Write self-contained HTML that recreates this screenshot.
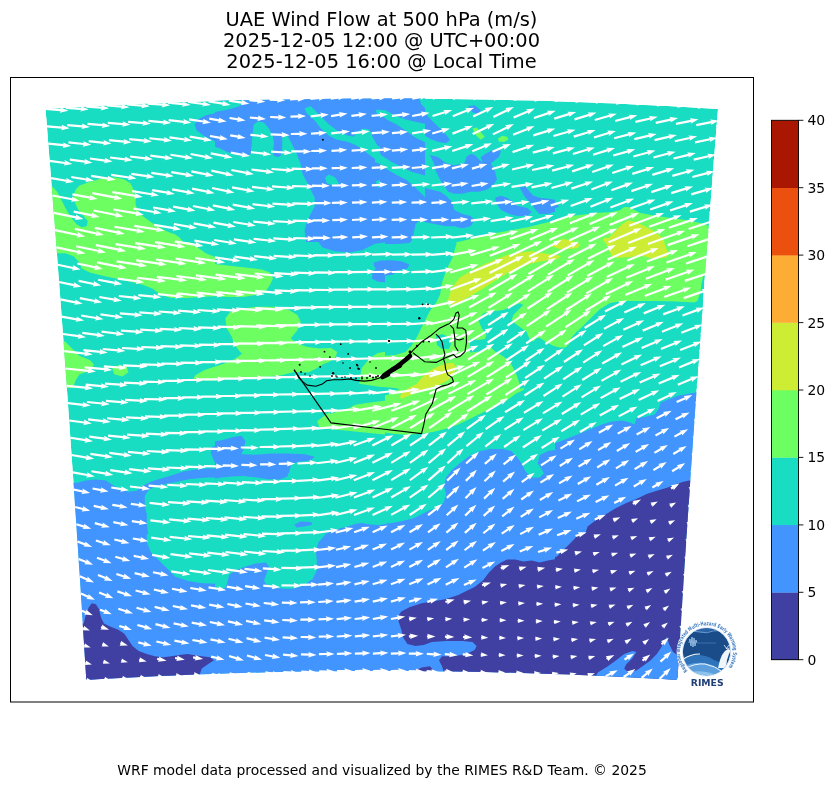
<!DOCTYPE html>
<html><head><meta charset="utf-8"><style>
html,body{margin:0;padding:0;background:#fff;}
svg{display:block;}
text{font-family:"DejaVu Sans","Liberation Sans",sans-serif;fill:#000;}
.ti{font-size:19.4px;}
.tk{font-size:13.9px;}
.ft{font-size:13.9px;}
</style></head><body>
<svg width="835" height="788" viewBox="0 0 835 788">
<rect width="835" height="788" fill="#fff"/>
<text class="ti" x="381.5" y="25.8" text-anchor="middle">UAE Wind Flow at 500 hPa (m/s)</text>
<text class="ti" x="381.5" y="47" text-anchor="middle">2025-12-05 12:00 @ UTC+00:00</text>
<text class="ti" x="381.5" y="68.2" text-anchor="middle">2025-12-05 16:00 @ Local Time</text>
<defs><clipPath id="dc"><path d="M45.5 109 L62.3 108 L79.1 107 L95.9 106.1 L112.8 105.2 L129.6 104.4 L146.4 103.6 L163.2 102.9 L180 102.3 L196.8 101.7 L213.6 101.1 L230.4 100.6 L247.2 100.2 L264.1 99.8 L280.9 99.4 L297.7 99.2 L314.5 98.9 L331.3 98.7 L348.1 98.6 L364.9 98.5 L381.8 98.5 L398.6 98.5 L415.4 98.6 L432.2 98.7 L449 98.9 L465.8 99.2 L482.6 99.4 L499.4 99.8 L516.2 100.2 L533.1 100.6 L549.9 101.1 L566.7 101.7 L583.5 102.3 L600.3 102.9 L617.1 103.6 L633.9 104.4 L650.8 105.2 L667.6 106.1 L684.4 107 L701.2 108 L718 109 L716.8 123.3 L715.7 137.6 L714.6 151.8 L713.4 166.1 L712.3 180.4 L711.2 194.7 L710.1 208.9 L709 223.2 L707.9 237.5 L706.8 251.8 L705.7 266 L704.6 280.3 L703.6 294.6 L702.5 308.9 L701.5 323.1 L700.4 337.4 L699.4 351.7 L698.3 365.9 L697.3 380.2 L696.3 394.5 L695.3 408.8 L694.3 423.1 L693.3 437.3 L692.3 451.6 L691.3 465.9 L690.3 480.1 L689.4 494.4 L688.4 508.7 L687.4 523 L686.5 537.2 L685.6 551.5 L684.6 565.8 L683.7 580.1 L682.8 594.4 L681.9 608.6 L681 622.9 L680.1 637.2 L679.2 651.5 L678.3 665.7 L677.4 680 L662.6 679.1 L647.8 678.3 L633.1 677.5 L618.3 676.8 L603.5 676.1 L588.7 675.4 L574 674.8 L559.2 674.2 L544.4 673.7 L529.6 673.2 L514.8 672.8 L500.1 672.4 L485.3 672.1 L470.5 671.8 L455.7 671.6 L441 671.4 L426.2 671.2 L411.4 671.1 L396.6 671 L381.9 671 L367.1 671 L352.3 671.1 L337.5 671.2 L322.7 671.4 L308 671.6 L293.2 671.8 L278.4 672.1 L263.6 672.4 L248.9 672.8 L234.1 673.2 L219.3 673.7 L204.5 674.2 L189.7 674.8 L175 675.4 L160.2 676.1 L145.4 676.8 L130.6 677.5 L115.9 678.3 L101.1 679.1 L86.3 680 L85.4 665.7 L84.5 651.5 L83.6 637.2 L82.7 622.9 L81.8 608.6 L80.9 594.4 L80 580.1 L79 565.8 L78.1 551.5 L77.1 537.2 L76.2 523 L75.2 508.7 L74.3 494.4 L73.3 480.1 L72.3 465.9 L71.3 451.6 L70.3 437.3 L69.3 423.1 L68.3 408.8 L67.3 394.5 L66.3 380.2 L65.2 365.9 L64.2 351.7 L63.2 337.4 L62.1 323.1 L61.1 308.9 L60 294.6 L58.9 280.3 L57.8 266 L56.8 251.8 L55.7 237.5 L54.6 223.2 L53.4 208.9 L52.3 194.7 L51.2 180.4 L50.1 166.1 L48.9 151.8 L47.8 137.6 L46.7 123.3Z"/></clipPath><clipPath id="c0"><rect x="45" y="96" width="170" height="146"/></clipPath><clipPath id="c1"><rect x="215" y="96" width="170" height="146"/></clipPath><clipPath id="c2"><rect x="385" y="96" width="170" height="146"/></clipPath><clipPath id="c3"><rect x="555" y="96" width="170" height="146"/></clipPath><clipPath id="c4"><rect x="45" y="242" width="170" height="146"/></clipPath><clipPath id="c5"><rect x="215" y="242" width="170" height="146"/></clipPath><clipPath id="c6"><rect x="385" y="242" width="170" height="146"/></clipPath><clipPath id="c7"><rect x="555" y="242" width="170" height="146"/></clipPath><clipPath id="c8"><rect x="45" y="388" width="170" height="146"/></clipPath><clipPath id="c9"><rect x="215" y="388" width="170" height="146"/></clipPath><clipPath id="c10"><rect x="385" y="388" width="170" height="146"/></clipPath><clipPath id="c11"><rect x="555" y="388" width="170" height="146"/></clipPath><clipPath id="c12"><rect x="45" y="534" width="170" height="146"/></clipPath><clipPath id="c13"><rect x="215" y="534" width="170" height="146"/></clipPath><clipPath id="c14"><rect x="385" y="534" width="170" height="146"/></clipPath><clipPath id="c15"><rect x="555" y="534" width="170" height="146"/></clipPath></defs>
<g clip-path="url(#dc)">
<path d="M45.5 109 L62.3 108 L79.1 107 L95.9 106.1 L112.8 105.2 L129.6 104.4 L146.4 103.6 L163.2 102.9 L180 102.3 L196.8 101.7 L213.6 101.1 L230.4 100.6 L247.2 100.2 L264.1 99.8 L280.9 99.4 L297.7 99.2 L314.5 98.9 L331.3 98.7 L348.1 98.6 L364.9 98.5 L381.8 98.5 L398.6 98.5 L415.4 98.6 L432.2 98.7 L449 98.9 L465.8 99.2 L482.6 99.4 L499.4 99.8 L516.2 100.2 L533.1 100.6 L549.9 101.1 L566.7 101.7 L583.5 102.3 L600.3 102.9 L617.1 103.6 L633.9 104.4 L650.8 105.2 L667.6 106.1 L684.4 107 L701.2 108 L718 109 L716.8 123.3 L715.7 137.6 L714.6 151.8 L713.4 166.1 L712.3 180.4 L711.2 194.7 L710.1 208.9 L709 223.2 L707.9 237.5 L706.8 251.8 L705.7 266 L704.6 280.3 L703.6 294.6 L702.5 308.9 L701.5 323.1 L700.4 337.4 L699.4 351.7 L698.3 365.9 L697.3 380.2 L696.3 394.5 L695.3 408.8 L694.3 423.1 L693.3 437.3 L692.3 451.6 L691.3 465.9 L690.3 480.1 L689.4 494.4 L688.4 508.7 L687.4 523 L686.5 537.2 L685.6 551.5 L684.6 565.8 L683.7 580.1 L682.8 594.4 L681.9 608.6 L681 622.9 L680.1 637.2 L679.2 651.5 L678.3 665.7 L677.4 680 L662.6 679.1 L647.8 678.3 L633.1 677.5 L618.3 676.8 L603.5 676.1 L588.7 675.4 L574 674.8 L559.2 674.2 L544.4 673.7 L529.6 673.2 L514.8 672.8 L500.1 672.4 L485.3 672.1 L470.5 671.8 L455.7 671.6 L441 671.4 L426.2 671.2 L411.4 671.1 L396.6 671 L381.9 671 L367.1 671 L352.3 671.1 L337.5 671.2 L322.7 671.4 L308 671.6 L293.2 671.8 L278.4 672.1 L263.6 672.4 L248.9 672.8 L234.1 673.2 L219.3 673.7 L204.5 674.2 L189.7 674.8 L175 675.4 L160.2 676.1 L145.4 676.8 L130.6 677.5 L115.9 678.3 L101.1 679.1 L86.3 680 L85.4 665.7 L84.5 651.5 L83.6 637.2 L82.7 622.9 L81.8 608.6 L80.9 594.4 L80 580.1 L79 565.8 L78.1 551.5 L77.1 537.2 L76.2 523 L75.2 508.7 L74.3 494.4 L73.3 480.1 L72.3 465.9 L71.3 451.6 L70.3 437.3 L69.3 423.1 L68.3 408.8 L67.3 394.5 L66.3 380.2 L65.2 365.9 L64.2 351.7 L63.2 337.4 L62.1 323.1 L61.1 308.9 L60 294.6 L58.9 280.3 L57.8 266 L56.8 251.8 L55.7 237.5 L54.6 223.2 L53.4 208.9 L52.3 194.7 L51.2 180.4 L50.1 166.1 L48.9 151.8 L47.8 137.6 L46.7 123.3Z" fill="#18ddc2"/>
<path clip-path="url(#c0)" fill="#4294ff" d="M215 113.3 L205.8 115.3 L197.7 119.4 L194.6 124.5 L196.7 130.6 L203.8 135.7 L211.9 139.8 L215 141.8 L220.1 141.8 L220.1 113.3Z"/><path clip-path="url(#c0)" fill="#6dfe62" d="M43 185.6 L52.1 186.6 L57.2 191.7 L61.3 199.8 L65.4 208 L71.5 218.2 L76.6 224.3 L81.6 227.3 L86.7 226.3 L87.8 221.2 L83.7 216.1 L78.6 210 L75.5 203.9 L73.5 195.8 L75.5 189.7 L79.6 185.6 L87.8 182.5 L97.9 179.5 L108.1 177.4 L116.3 177.4 L124.4 179.5 L130.5 183.5 L133.6 189.7 L135.6 197.8 L135.6 203.9 L137.6 210 L142.7 216.1 L150.9 222.2 L159 227.3 L167.2 231.4 L175.3 234.4 L179.4 237.5 L183.4 242 L185.5 244.6 L43 244.6Z"/><path clip-path="url(#c1)" fill="#4294ff" d="M210.9 91.9 L390.1 91.9 L390.1 246.7 L210.9 246.7Z"/><path clip-path="url(#c1)" fill="#18ddc2" d="M210.9 91.9 L247.6 91.9 L245.5 99.1 L239.4 106.2 L227.2 109.8 L215 111.9 L210.9 112.3Z"/><path clip-path="url(#c1)" fill="#18ddc2" d="M210.9 145.9 L219.1 147.9 L227.2 152 L237.4 155 L245.5 157.1 L250.6 154 L251.6 144.9 L252.7 132.6 L253.7 124.5 L257.8 121.4 L263.9 122.5 L269 128.6 L273 136.7 L274 142.8 L273 151 L274 156.1 L278.1 157.1 L281.2 155 L282.2 146.9 L282.2 138.8 L284.2 134.7 L288.3 136.7 L292.4 144.9 L296.4 153 L300.5 163.2 L302.5 173.4 L306.6 181.5 L310.7 189.7 L314.8 197.8 L314.8 205.9 L310.7 214.1 L306.6 222.2 L304.6 230.4 L306.6 246.7 L210.9 246.7Z"/><path clip-path="url(#c1)" fill="#18ddc2" d="M304.6 108.2 L310.7 106.2 L314.8 110.3 L320.9 116.4 L329 124.5 L337.2 130.6 L345.3 134.7 L353.4 136.7 L357.5 131.6 L363.6 128.6 L369.7 129.6 L372.8 137.7 L377.9 145.9 L390.1 150 L390.1 164.2 L377.9 161.1 L369.7 155 L361.6 148.9 L355.5 144.9 L347.3 141.8 L337.2 139.8 L329 135.7 L320.9 128.6 L314.8 120.4 L306.6 113.3Z"/><path clip-path="url(#c1)" fill="#18ddc2" d="M375.8 110.3 L390.1 108.2 L390.1 118.4 L377.9 116.4Z"/><path clip-path="url(#c1)" fill="#18ddc2" d="M324.9 177.4 L329 174.4 L335.1 177.4 L339.2 183.5 L333.1 185.6 L327 183.5Z"/><path clip-path="url(#c1)" fill="#18ddc2" d="M375.8 181.5 L381.9 178.5 L390.1 179.5 L390.1 187.6 L377.9 187.6Z"/><path clip-path="url(#c2)" fill="#4294ff" d="M380.9 91.9 L418.6 91.9 L420.6 102.1 L423.7 110.3 L427.8 116.4 L433.9 122.5 L440 128.6 L446.1 134.7 L450.1 139.8 L446.1 143.2 L437.9 141.8 L429.8 138.8 L423.7 134.7 L417.6 131 L409.4 128.6 L401.3 125.5 L393.1 121.4 L380.9 118.4Z"/><path clip-path="url(#c2)" fill="#4294ff" d="M380.9 123.5 L391.1 125.5 L401.3 129.6 L408.4 136.7 L409.4 144.9 L406.4 153 L399.3 159.1 L391.1 161.1 L380.9 162.2Z"/><path clip-path="url(#c2)" fill="#4294ff" d="M380.9 169.3 L391.1 171.3 L399.3 175.4 L407.4 181.5 L415.5 185.6 L423.7 187.6 L431.8 189.7 L440 191.7 L446.1 195.8 L452.2 201.9 L454.2 210 L462.4 214.1 L470.5 216.1 L474.6 220.2 L470.5 226.3 L462.4 228.3 L454.2 226.3 L446.1 226.3 L435.9 224.3 L425.7 222.2 L419.6 220.2 L415.5 224.3 L413.5 234.4 L409.4 246.7 L380.9 246.7Z"/><path clip-path="url(#c2)" fill="#4294ff" d="M429.8 155 L437.9 157.1 L446.1 163.2 L454.2 165.2 L464.4 163.2 L466.4 157.1 L470.5 154 L474.6 155 L478.7 159.1 L482.7 163.2 L480.7 157.1 L486.8 153 L494.9 148.9 L501 151 L499 157.1 L490.9 163.2 L494.9 171.3 L497 179.5 L492.9 185.6 L486.8 189.7 L478.7 191.7 L470.5 191.7 L462.4 193.7 L454.2 193.7 L448.1 191.7 L444 185.6 L440 179.5 L435.9 171.3 L433.9 163.2Z"/><path clip-path="url(#c2)" fill="#4294ff" d="M494.9 197.8 L501 195.8 L507.2 197.8 L513.3 201.9 L517.3 205.9 L527.5 208 L531.6 212 L527.5 216.1 L517.3 216.1 L509.2 214.1 L501 210 L497 203.9Z"/><path clip-path="url(#c2)" fill="#4294ff" d="M519.4 187.6 L525.5 186.6 L529.6 191.7 L533.6 195.8 L539.7 197.8 L547.9 198.8 L555 199.8 L560.1 201.9 L560.1 210 L547.9 214.1 L539.7 214.1 L535.7 210 L531.6 203.9 L525.5 197.8Z"/><path clip-path="url(#c2)" fill="#4294ff" d="M468.5 106.2 L474.6 105.2 L480.7 110.3 L478.7 114.3 L472.5 112.3Z"/><path clip-path="url(#c2)" fill="#6dfe62" d="M472.5 128.6 L476.6 127.6 L484.8 136.7 L480.7 139.8 L475.6 134.7Z"/><path clip-path="url(#c2)" fill="#6dfe62" d="M498 138.8 L502.1 135.7 L507.2 136.7 L508.2 139.8 L504.1 141.8 L499 141.8Z"/><path clip-path="url(#c3)" fill="#6dfe62" d="M550.9 220.2 L565.2 217.1 L579.4 215.1 L595.7 213.1 L612 212 L620.1 210 L624.2 207 L628.3 207 L634.4 210 L640.5 213.1 L656.8 216.1 L673.1 218.2 L687.3 220.2 L701.6 223.2 L709.7 226.3 L730.1 228.3 L730.1 246.7 L550.9 246.7Z"/><path clip-path="url(#c3)" fill="#cdec34" d="M605.9 246.7 L610 236.5 L616.1 230.4 L622.2 224.3 L628.3 220.6 L636.4 222.2 L644.6 226.3 L652.7 230.4 L660.9 236.5 L664.9 246.7Z"/><path clip-path="url(#c3)" fill="#4294ff" d="M550.9 202.9 L557 203.9 L559.1 207 L550.9 209Z"/><path clip-path="url(#c4)" fill="#6dfe62" d="M40.9 237.9 L183.4 237.9 L195.7 246.1 L205.8 253.2 L220.1 259.3 L220.1 296 L199.7 297 L187.5 298 L171.2 298 L161 294.9 L152.9 288.8 L142.7 284.8 L126.4 280.7 L106.1 276.6 L89.8 272.5 L81.6 268.5 L79.6 262.4 L73.5 256.3 L65.4 253.2 L57.2 253.2 L40.9 252.2Z"/><path clip-path="url(#c4)" fill="#6dfe62" d="M40.9 339.7 L65.4 341.8 L71.5 347.9 L79.6 356 L89.8 360.1 L93.9 364.2 L91.8 370.3 L85.7 372.3 L79.6 374.3 L75.5 380.4 L71.5 392.7 L40.9 392.7Z"/><path clip-path="url(#c4)" fill="#6dfe62" d="M112.2 368.2 L118.3 365.2 L126.4 366.2 L128.5 372.3 L122.4 376.4 L114.2 374.3Z"/><path clip-path="url(#c5)" fill="#6dfe62" d="M210.9 263.4 L227.2 265.4 L245.5 267.4 L261.8 269.5 L270 272.5 L273 278.6 L270 284.8 L265.9 290.9 L255.7 294.9 L243.5 297 L227.2 297 L210.9 296Z"/><path clip-path="url(#c5)" fill="#4294ff" d="M373.8 262.4 L381.9 260.3 L390.1 261.3 L390.1 282.7 L377.9 281.7 L371.8 278.6 L372.8 272.5 L375.8 268.5 L373.8 265.4Z"/><path clip-path="url(#c5)" fill="#6dfe62" d="M361.6 368.2 L369.7 358 L377.9 353 L390.1 350.9 L390.1 392.7 L357.5 392.7 L359.6 380.4Z"/><path clip-path="url(#c6)" fill="#4294ff" d="M380.9 260.3 L391.1 260.3 L401.3 261.3 L409.4 264.4 L407.4 268.5 L397.2 270.5 L393.1 274.6 L387 275.6 L380.9 274.6Z"/><path clip-path="url(#c6)" fill="#4294ff" d="M380.9 237.9 L411.5 237.9 L409.4 243 L397.2 244 L380.9 244Z"/><path clip-path="url(#c6)" fill="#6dfe62" d="M458.3 237.9 L560.1 237.9 L560.1 392.7 L380.9 392.7 L380.9 356 L395.2 355 L405.4 351.9 L411.5 345.8 L417.6 335.7 L421.6 327.5 L425.7 319.4 L429.8 311.2 L435.9 303.1 L440 294.9 L442 282.7 L446.1 270.5 L452.2 258.3Z"/><path clip-path="url(#c7)" fill="#6dfe62" d="M550.9 237.9 L730.1 237.9 L730.1 274.6 L703.6 275.6 L701.6 282.7 L700.6 290.9 L697.5 301 L689.4 305.1 L677.2 303.1 L656.8 301 L636.4 301 L622.2 301 L610 303.1 L599.8 309.2 L591.6 317.3 L583.5 325.5 L577.4 331.6 L571.3 337.7 L569.3 343.8 L565.2 347.9 L559.1 347.9 L550.9 345.8Z"/><path clip-path="url(#c8)" fill="#4294ff" d="M40.9 483.7 L77.6 482.7 L85.7 480.6 L95.9 479.6 L106.1 480.6 L112.2 484.7 L120.3 489.8 L128.5 491.8 L136.6 490.8 L142.7 485.7 L150.9 481.7 L161 478.6 L171.2 475.5 L183.4 471.5 L195.7 469.4 L207.9 468.4 L220.1 468.4 L220.1 477.6 L207.9 477.6 L195.7 478.6 L187.5 479.6 L177.3 481.7 L167.2 483.7 L157 485.7 L148.8 489.8 L144.8 495.9 L144.8 506.1 L146.8 514.2 L146.8 522.4 L148.8 538.7 L40.9 538.7Z"/><path clip-path="url(#c8)" fill="#4294ff" d="M211.9 447 L215 446 L220.1 446 L220.1 463.3 L214 461.3 L210.9 453.1Z"/><path clip-path="url(#c9)" fill="#4294ff" d="M210.9 442 L223.1 439.9 L233.3 436.9 L241.5 435.8 L245.5 440.9 L243.5 449.1 L241.5 454.2 L255.7 454.8 L272 453.6 L288.3 453.6 L304.6 454.2 L314.8 456.8 L310.7 460.3 L298.5 461.7 L291.3 464.3 L289.3 471.5 L287.3 476.6 L280.1 479.6 L267.9 479.2 L255.7 477.2 L243.5 476 L231.3 476.6 L221.1 477.6 L210.9 479.6Z"/><path clip-path="url(#c9)" fill="#6dfe62" d="M317.2 421.2 L321.1 418.3 L328.7 412.6 L338.3 408.7 L353.5 404.9 L366.9 403 L382.4 401.1 L390.1 400.2 L390.1 434.8 L386.1 434.6 L366.9 432.7 L347.8 430.8 L328.7 428.9 L319.2 426.9Z"/><path clip-path="url(#c9)" fill="#4294ff" d="M294.4 524.4 L300.5 521.4 L310.7 522 L312.7 524.4 L304.6 526.4 L296.4 527.5Z"/><path clip-path="url(#c9)" fill="#4294ff" d="M337.2 538.7 L353.4 528.5 L361.6 524.4 L369.7 526.4 L390.1 526.4 L390.1 538.7Z"/><path clip-path="url(#c10)" fill="#6dfe62" d="M380.9 383.9 L527.5 383.9 L523.4 390 L515.3 394.1 L507.2 400.2 L494.9 406.3 L482.7 412.4 L470.5 418.5 L458.3 424.6 L446.1 428.7 L433.9 431.8 L421.6 433.8 L405.4 434.8 L393.1 433.8 L380.9 431.8Z"/><path clip-path="url(#c10)" fill="#4294ff" d="M560.1 449.1 L547.9 451.1 L539.7 455.2 L537.7 463.3 L541.8 469.4 L543.8 473.5 L539.7 477.6 L531.6 477.6 L525.5 471.5 L521.4 463.3 L517.3 457.2 L511.2 451.1 L503.1 449.1 L490.9 449.1 L480.7 451.1 L470.5 455.2 L462.4 461.3 L452.2 469.4 L446.1 477.6 L444 485.7 L446.1 493.9 L444 502 L437.9 508.1 L429.8 510.2 L421.6 514.2 L413.5 518.3 L405.4 520.3 L397.2 522.4 L389.1 523.4 L380.9 524.4 L380.9 538.7 L560.1 538.7Z"/><path clip-path="url(#c11)" fill="#4294ff" d="M550.9 445 L561.1 440.9 L571.3 436.9 L581.5 432.8 L591.6 428.7 L601.8 424.6 L612 421.6 L622.2 420.6 L630.3 422.6 L634.4 424.6 L636.4 418.5 L646.6 416.5 L654.8 414.5 L658.8 408.4 L660.9 402.3 L669 399.2 L677.2 396.1 L687.3 394.1 L697.5 392.1 L730.1 390 L730.1 538.7 L550.9 538.7Z"/><path clip-path="url(#c11)" fill="#4040a2" d="M583.5 538.7 L587.6 526.4 L595.7 520.3 L605.9 514.2 L616.1 508.1 L626.3 503 L636.4 499 L646.6 493.9 L656.8 490.8 L667 487.8 L677.2 483.7 L683.3 481.7 L689.4 480.6 L730.1 479.6 L730.1 538.7Z"/><path clip-path="url(#c12)" fill="#4294ff" d="M40.9 529.9 L220.1 529.9 L220.1 684.7 L40.9 684.7Z"/><path clip-path="url(#c12)" fill="#18ddc2" d="M146.8 529.9 L146.8 542.1 L150.9 552.3 L159 560.5 L167.2 568.6 L175.3 576.8 L187.5 580.8 L199.7 582.9 L220.1 583.9 L220.1 529.9Z"/><path clip-path="url(#c12)" fill="#4040a2" d="M40.9 684.7 L40.9 625.6 L83.7 623.6 L85.7 615.4 L88.8 607.3 L91.8 603.2 L95.9 604.2 L99 609.3 L101 617.5 L104 623.6 L110.1 626.6 L118.3 629.7 L124.4 633.8 L128.5 639.9 L132.5 646 L138.7 651.1 L146.8 654.1 L154.9 656.2 L163.1 657.2 L171.2 656.2 L179.4 655.1 L187.5 654.1 L193.6 655.1 L201.8 656.2 L209.9 657.2 L214 660.2 L207.9 664.3 L201.8 668.4 L199.7 674.5 L203.8 684.7Z"/><path clip-path="url(#c13)" fill="#4294ff" d="M210.9 529.9 L390.1 529.9 L390.1 684.7 L210.9 684.7Z"/><path clip-path="url(#c13)" fill="#18ddc2" d="M210.9 529.9 L331 529.9 L324.9 536 L318.8 542.1 L315.8 550.3 L316.8 560.5 L316.8 570.6 L312.7 578.8 L304.6 584.9 L296.4 588 L288.3 589 L276.1 588 L267.9 585.9 L263.9 580.8 L266.9 572.7 L269 566.6 L265.9 562.5 L255.7 563.5 L245.5 566.6 L235.4 570.6 L229.3 574.7 L227.2 582.9 L225.2 588 L210.9 588Z"/><path clip-path="url(#c14)" fill="#4294ff" d="M380.9 529.9 L560.1 529.9 L560.1 684.7 L380.9 684.7Z"/><path clip-path="url(#c14)" fill="#4040a2" d="M560.1 558.4 L547.9 560.5 L539.7 562.5 L531.6 560.5 L523.4 561.5 L515.3 559.4 L507.2 559.4 L501 562.5 L494.9 566.6 L488.8 572.7 L482.7 580.8 L474.6 586.9 L466.4 591 L458.3 595.1 L446.1 599.1 L433.9 601.2 L421.6 603.2 L409.4 607.3 L401.3 611.4 L397.2 617.5 L399.3 623.6 L401.3 629.7 L403.3 637.8 L407.4 643.9 L415.5 646 L423.7 645 L431.8 641.9 L446.1 640.9 L462.4 640.9 L472.5 641.9 L476.6 646 L474.6 650 L466.4 654.1 L454.2 656.2 L442 656.2 L439 660.2 L442 666.3 L444 672.4 L446.1 684.7 L560.1 684.7Z"/><path clip-path="url(#c14)" fill="#4040a2" d="M415.5 670.4 L421.6 667.4 L429.8 666.3 L433.9 670.4 L429.8 674.5 L417.6 674.5Z"/><path clip-path="url(#c15)" fill="#4040a2" d="M550.9 529.9 L730.1 529.9 L730.1 684.7 L550.9 684.7Z"/><path clip-path="url(#c15)" fill="#4294ff" d="M550.9 529.9 L579.4 529.9 L575.4 538.1 L569.3 544.2 L563.1 550.3 L557 556.4 L550.9 558.4Z"/><path clip-path="url(#c15)" fill="#4294ff" d="M591.6 684.7 L597.8 672.4 L607.9 666.3 L616.1 660.2 L624.2 654.1 L632.4 651.1 L636.4 652.1 L632.4 658.2 L626.3 664.3 L624.2 668.4 L628.3 672.4 L636.4 670.4 L642.5 666.3 L650.7 660.2 L656.8 654.1 L660.9 648 L664.9 639.9 L667 636.8 L669 643.9 L673.1 652.1 L679.2 656.2 L681.2 684.7Z"/><path fill="#4294ff" d="M316 238 L318.8 242.5 L322.5 247.5 L335 251.2 L350 252.5 L362.5 250 L370 246.2 L375 243.8 L385 242.5 L397.5 243.8 L400 238Z"/><path fill="#4294ff" d="M318.7 542.4 L325.9 533.7 L336 529.4 L347.5 526.6 L356.1 523.7 L361.9 523 L370.5 524.4 L379.1 525.1 L387.7 523.7 L396.4 522.2 L405 520.8 L410 520.1 L410 545 L318 545Z"/><path fill="#4294ff" d="M380 96 L425 96 L425 196 L380 196Z"/><path fill="#18ddc2" d="M470 339.1 L478.3 340 L485 339.1 L486.6 335 L481.7 328.3 L478.3 320 L483.3 313.3 L491.6 311.6 L503.3 310 L511.6 306.6 L519.9 303.3 L523.3 305 L519.9 308.3 L513.3 315 L511.6 320 L514.9 323.3 L521.6 328.3 L526.6 331.6 L529.9 340 L533.3 341.6 L536.6 338.3 L540 337.9 L545.7 341.7 L552.5 345.6 L559.2 347.5 L565.9 347.5 L570.7 343.6 L571.6 337.9 L576.4 332.1 L583.1 327.4 L589.8 322.6 L596.5 317.8 L602.3 313 L609 310.1 L616.6 306.3 L622 304 L632.5 302.5 L645 301.2 L670 301.2 L695 302.5 L705 297.5 L730 297.5 L730 388.5 L520 388.5 L520 385 L516.6 375 L513.3 368.3 L510 361.6 L503.3 356.6 L495 351.6 L490 346.6 L480 351.6 L470 352.5Z"/><path fill="#18ddc2" d="M350 381 L359.6 383.8 L378.7 386.7 L393.1 387.7 L399.8 389.1 L396 390.5 L388.3 394.4 L373.9 398.2 L359.6 402 L350 407.8 L330 414 L330 381Z"/><path fill="#18ddc2" d="M436 336 L442 334 L449 337 L451 344 L449 349 L442 349 L437 345Z"/><path fill="#18ddc2" d="M375 147 L381.9 155.8 L391.8 162 L401.6 166.9 L411.5 171.8 L425 175.5 L425 197 L413.9 186 L406.5 180 L396.7 175 L388 170 L380 164 L375 162Z"/><path fill="#18ddc2" d="M375.8 109.7 L385.6 110.3 L394.2 115.2 L404.1 118.9 L413.9 121.4 L425 123.8 L425 142.3 L415.2 137.4 L406.5 131.2 L396.7 124.6 L388.1 120.2 L379.5 114Z"/><path fill="#18ddc2" d="M419 96 L425 96 L425 108 L421 104Z"/><path fill="#6dfe62" d="M456 242.5 L466.4 240 L486.8 234.5 L507.2 231 L527.5 227.3 L543.8 223.3 L560.1 219.2 L560.1 243 L456 243Z"/><path fill="#6dfe62" d="M225.3 318.4 L230.3 311.7 L243.7 308.4 L257.1 306.7 L273.9 306.7 L289 310.1 L297.4 315.1 L300.7 321.8 L297.4 330.2 L290.7 338.6 L297.4 343.6 L307.4 346.9 L320 348.6 L331 347.9 L337.2 352 L335.1 358.1 L329 362.1 L322.9 364.2 L316.8 368.3 L308.7 372.3 L300.5 372.3 L294 372.1 L280.6 375.5 L263.8 377.1 L247.1 378 L230.3 378.8 L213.5 380.5 L198.4 380.5 L193.4 378.8 L195.1 375.5 L203.5 370.4 L213.5 367.1 L223.6 363.7 L235.3 358.7 L242 353.7 L238.7 350.3 L233.7 343.6 L232 336.9 L226.9 328.5Z"/><path fill="#cdec34" d="M448 300 L452 288 L460 277.5 L472 270.4 L484 264.4 L495.9 259.6 L507.9 254.8 L519.9 252.4 L531.9 251.2 L543.8 253.6 L555.8 254.8 L561 256.5 L555.8 259.6 L543.8 260.8 L531.9 263.2 L519.9 268 L507.9 272.8 L495.9 280 L484 288 L472 295 L460 302 L452 305Z"/><path fill="#cdec34" d="M603.2 238 L603.2 240 L606.5 244.3 L609.7 250.8 L611.9 256.2 L616.2 257.8 L626.9 257.2 L637.7 256.2 L645.3 256.2 L650.6 258.3 L658.2 258.3 L666.8 257.2 L669 254 L666.8 249.7 L664.7 244.3 L663.6 238Z"/><path fill="#cdec34" d="M401 399 L402.7 398.2 L407.5 396.3 L417 392.5 L426.6 388.6 L430.5 387.5 L439.1 384.7 L447.7 380.4 L453.5 374.6 L456.4 367.4 L453.5 363.1 L447.7 363.1 L439.1 366 L430.5 370.3 L421.9 377.5 L417 383.8 L409.4 387.7 L403.6 391.5 L400 396Z"/><path fill="#cdec34" d="M551 246 L556 241 L563 239 L572 240.5 L580 244 L578 248 L570 249 L560 249Z"/>
</g>
<path fill="#fff" d="M45.4 110.1 L60.7 111.2 L59.8 112.8 L68.4 110.7 L60.2 107.3 L60.9 109 L45.6 107.9ZM65.8 108.9 L81.1 110 L80.2 111.6 L88.7 109.4 L80.6 106.1 L81.3 107.8 L66 106.7ZM86.2 107.7 L101.5 108.8 L100.6 110.4 L109.1 108.3 L101 104.9 L101.6 106.6 L86.3 105.5ZM106.6 106.6 L121.9 107.7 L121 109.3 L129.5 107.2 L121.4 103.9 L122 105.6 L106.7 104.4ZM126.9 105.6 L142.2 106.7 L141.3 108.3 L149.9 106.2 L141.7 102.8 L142.4 104.5 L127.1 103.4ZM147.3 104.7 L162.6 105.8 L161.7 107.4 L170.3 105.3 L162.1 101.9 L162.8 103.6 L147.5 102.5ZM167.7 103.8 L182.9 105.3 L182 106.8 L190.6 104.9 L182.5 101.4 L183.2 103.1 L167.9 101.7ZM188 103.1 L203.2 105.1 L202.2 106.6 L210.9 105 L202.9 101.2 L203.5 102.9 L188.3 100.9ZM208.4 102.4 L223 104.7 L221.9 106.2 L230.6 104.9 L222.8 100.8 L223.3 102.6 L208.7 100.2ZM228.7 101.8 L241.8 103.7 L240.8 105.2 L249.4 103.8 L241.6 99.8 L242.1 101.5 L229.1 99.6ZM249.2 101.2 L257.8 102.1 L256.8 103.7 L265.4 101.8 L257.4 98.2 L258 99.9 L249.4 99ZM269.6 100.8 L277.7 101.1 L276.8 102.7 L285.3 100.3 L277.1 97.2 L277.8 98.9 L269.7 98.6ZM290.1 100.4 L298.2 100.1 L297.5 101.7 L305.7 98.7 L297.2 96.2 L298.1 97.9 L290 98.2ZM310.6 100.1 L319.4 99 L318.8 100.7 L326.8 96.9 L318.1 95.2 L319.1 96.8 L310.3 97.9ZM331 99.8 L339 98.5 L338.5 100.2 L346.3 96.1 L337.6 94.8 L338.6 96.3 L330.6 97.7ZM351.3 99.7 L359.3 98.5 L358.8 100.2 L366.7 96.3 L358 94.8 L359 96.3 L351 97.5ZM371.7 99.6 L379.9 98.7 L379.3 100.4 L387.3 96.8 L378.7 95 L379.7 96.5 L371.4 97.4ZM392.1 99.6 L400.4 98.6 L399.8 100.3 L407.8 96.6 L399.2 94.9 L400.1 96.4 L391.8 97.4ZM412.5 99.7 L421.1 97.9 L420.7 99.7 L428.3 95.3 L419.6 94.3 L420.6 95.8 L412.1 97.5ZM433 99.8 L447.2 95.2 L447 97 L454.1 91.8 L445.3 91.7 L446.5 93.1 L432.4 97.7ZM453.5 100 L467.7 94.1 L467.6 96 L474.3 90.2 L465.5 90.9 L466.8 92.1 L452.7 98ZM473.9 100.3 L487 94.2 L487 96 L493.4 90 L484.6 91 L486 92.2 L473 98.3ZM494.3 100.7 L508.2 94.2 L508.2 96 L514.6 90 L505.8 91 L507.2 92.2 L493.4 98.7ZM514.6 101.1 L528.8 95.4 L528.8 97.2 L535.5 91.5 L526.7 92.1 L528 93.4 L513.8 99.1ZM534.9 101.7 L549.5 96.8 L549.3 98.6 L556.3 93.4 L547.5 93.4 L548.8 94.7 L534.2 99.6ZM555.3 102.3 L569.9 97.7 L569.7 99.5 L576.9 94.4 L568.1 94.3 L569.3 95.6 L554.6 100.2ZM575.7 103 L590.3 98.5 L590.1 100.3 L597.2 95.1 L588.4 95 L589.7 96.4 L575 100.9ZM596 103.8 L610.8 99.5 L610.5 101.3 L617.7 96.3 L608.9 96 L610.1 97.4 L595.4 101.7ZM616.4 104.7 L631.2 100.9 L630.9 102.7 L638.3 98 L629.6 97.4 L630.7 98.8 L615.8 102.5ZM636.7 105.6 L651.7 102.2 L651.3 104 L658.8 99.5 L650.1 98.6 L651.2 100.1 L636.2 103.5ZM657.1 106.6 L672.1 103.4 L671.7 105.2 L679.3 100.7 L670.5 99.8 L671.6 101.2 L656.6 104.5ZM677.5 107.7 L692.5 104.7 L692.1 106.4 L699.7 102.1 L691 101 L692.1 102.5 L677 105.5ZM697.8 108.8 L712.9 106 L712.5 107.7 L720.1 103.5 L711.4 102.3 L712.5 103.8 L697.4 106.7ZM718.2 110.1 L733.3 107.2 L732.8 109 L740.5 104.7 L731.8 103.6 L732.9 105.1 L717.8 107.9ZM46.8 127.4 L62.1 128.7 L61.2 130.3 L69.7 128.3 L61.7 124.8 L62.3 126.5 L47 125.2ZM67.1 126.2 L82.4 127.5 L81.5 129.1 L90 127 L81.9 123.6 L82.6 125.3 L67.3 124ZM87.4 125 L102.7 126.3 L101.8 127.9 L110.3 125.9 L102.2 122.4 L102.9 124.1 L87.6 122.8ZM107.7 123.9 L123 125.2 L122.1 126.8 L130.6 124.8 L122.5 121.3 L123.2 123.1 L107.9 121.8ZM128 122.9 L143.3 124.2 L142.4 125.8 L150.9 123.8 L142.8 120.3 L143.5 122.1 L128.2 120.8ZM148.3 122 L163.6 123.4 L162.6 125 L171.2 123 L163.1 119.5 L163.8 121.2 L148.5 119.8ZM168.5 121.2 L183.8 122.9 L182.8 124.5 L191.5 122.7 L183.5 119 L184 120.7 L168.8 119ZM188.8 120.4 L203.3 122.6 L202.3 124.2 L211 122.7 L203.1 118.7 L203.6 120.5 L189.1 118.2ZM209.1 119.7 L218.9 121.4 L217.9 122.9 L226.6 121.6 L218.8 117.5 L219.3 119.3 L209.4 117.5ZM229.4 119.1 L237.9 120.4 L236.9 121.9 L245.6 120.5 L237.7 116.5 L238.2 118.3 L229.7 116.9ZM249.7 118.6 L258.3 119.4 L257.4 121 L266 119.1 L257.9 115.5 L258.5 117.3 L250 116.4ZM270.1 118.1 L278.7 118.4 L277.9 120.1 L286.3 117.6 L278.1 114.6 L278.8 116.3 L270.2 115.9ZM290.5 117.7 L298.6 117.5 L297.8 119.1 L306.1 116.1 L297.7 113.6 L298.5 115.3 L290.4 115.5ZM310.8 117.4 L321.3 116.3 L320.7 118 L328.8 114.4 L320.1 112.5 L321.1 114.1 L310.6 115.2ZM331.2 117.2 L340.1 115.8 L339.6 117.6 L347.5 113.6 L338.8 112.1 L339.8 113.6 L330.9 115ZM351.5 117 L359.5 115.9 L359 117.7 L366.9 113.8 L358.2 112.2 L359.2 113.7 L351.2 114.8ZM371.7 117 L380.4 116.1 L379.8 117.8 L387.9 114.2 L379.3 112.3 L380.2 113.9 L371.5 114.8ZM392 117 L402.9 115.8 L402.3 117.5 L410.3 113.9 L401.7 112.1 L402.6 113.6 L391.8 114.8ZM412.4 117 L422.2 115.2 L421.8 117 L429.5 112.8 L420.8 111.6 L421.8 113.1 L412 114.9ZM432.8 117.1 L445.2 113.3 L445 115.1 L452.2 110 L443.4 109.9 L444.6 111.2 L432.2 115ZM453.2 117.3 L467.4 111.6 L467.3 113.4 L474 107.7 L465.2 108.3 L466.5 109.5 L452.4 115.3ZM473.6 117.6 L486.9 111.2 L486.9 113 L493.3 106.9 L484.6 108.1 L486 109.2 L472.6 115.6ZM493.9 118 L507.6 111.2 L507.6 113 L513.9 106.9 L505.2 108.1 L506.6 109.2 L492.9 116ZM514.1 118.5 L528.2 112.6 L528.2 114.4 L534.8 108.6 L526 109.3 L527.4 110.5 L513.2 116.5ZM534.3 119.1 L548.9 114.2 L548.7 116 L555.7 110.8 L546.9 110.8 L548.2 112.1 L533.6 117ZM554.6 119.7 L569.3 115.2 L569 117 L576.2 112 L567.4 111.8 L568.6 113.1 L553.9 117.6ZM574.9 120.4 L589.5 115.9 L589.3 117.7 L596.5 112.6 L587.7 112.4 L588.9 113.8 L574.2 118.3ZM595.1 121.1 L609.9 116.8 L609.6 118.6 L616.9 113.7 L608.1 113.4 L609.3 114.7 L594.5 119ZM615.4 122 L630.3 118.2 L629.9 120 L637.4 115.3 L628.6 114.7 L629.7 116.1 L614.9 119.9ZM635.7 122.9 L650.6 119.5 L650.2 121.3 L657.8 116.8 L649 115.9 L650.1 117.4 L635.2 120.8ZM656 123.9 L670.9 120.7 L670.5 122.4 L678.1 118 L669.4 117.1 L670.5 118.5 L655.5 121.8ZM676.2 125 L691.3 121.9 L690.8 123.7 L698.5 119.3 L689.7 118.3 L690.8 119.7 L675.8 122.8ZM696.5 126.2 L711.6 123.2 L711.1 124.9 L718.8 120.6 L710.1 119.5 L711.1 121 L696.1 124ZM716.8 127.4 L731.9 124.4 L731.4 126.2 L739.1 121.9 L730.4 120.8 L731.4 122.3 L716.4 125.2ZM48.2 144.7 L63.4 146.3 L62.5 147.9 L71.1 146 L63.1 142.4 L63.7 144.1 L48.4 142.5ZM68.4 143.5 L83.6 145.1 L82.7 146.7 L91.3 144.8 L83.3 141.2 L83.9 142.9 L68.6 141.3ZM88.6 142.3 L103.9 143.9 L102.9 145.5 L111.5 143.6 L103.5 140 L104.1 141.8 L88.8 140.1ZM108.8 141.3 L124.1 142.8 L123.1 144.4 L131.7 142.5 L123.7 138.9 L124.3 140.6 L109 139.1ZM129 140.3 L144.3 141.8 L143.3 143.4 L151.9 141.5 L143.9 137.9 L144.5 139.6 L129.2 138.1ZM149.2 139.3 L164.5 141 L163.5 142.6 L172.1 140.7 L164.1 137.1 L164.7 138.8 L149.5 137.2ZM169.4 138.5 L184.6 140.6 L183.6 142.1 L192.3 140.5 L184.4 136.7 L184.9 138.4 L169.7 136.3ZM189.6 137.7 L204.3 140.3 L203.3 141.8 L212 140.5 L204.2 136.4 L204.7 138.1 L190 135.6ZM209.8 137 L220.2 139 L219.1 140.5 L227.8 139.3 L220.1 135.1 L220.6 136.8 L210.2 134.9ZM230 136.4 L238 137.8 L237 139.3 L245.7 137.9 L237.9 133.9 L238.4 135.6 L230.4 134.3ZM250.3 135.9 L261 137.1 L260.1 138.6 L268.7 136.8 L260.7 133.2 L261.2 134.9 L250.5 133.7ZM270.6 135.5 L282.2 136 L281.4 137.6 L289.8 135.2 L281.6 132.1 L282.3 133.8 L270.7 133.3ZM290.8 135.1 L299.9 134.9 L299.1 136.6 L307.5 133.7 L299.1 131.1 L299.9 132.7 L290.8 132.9ZM311.1 134.8 L319.5 134.2 L318.8 135.9 L327 132.5 L318.4 130.4 L319.3 132 L310.9 132.6ZM331.4 134.5 L342.6 133.2 L342 135 L350 131.3 L341.4 129.5 L342.3 131.1 L331.1 132.3ZM351.6 134.4 L362.4 133.2 L361.8 134.9 L369.8 131.3 L361.2 129.4 L362.2 131 L351.3 132.2ZM371.7 134.3 L382.4 133.4 L381.8 135.1 L389.9 131.7 L381.3 129.6 L382.2 131.2 L371.6 132.1ZM392 134.3 L400.6 133.5 L400 135.2 L408 131.7 L399.5 129.8 L400.4 131.3 L391.8 132.1ZM412.2 134.4 L424 132.6 L423.5 134.3 L431.3 130.3 L422.6 128.9 L423.6 130.4 L411.9 132.2ZM432.6 134.5 L442.9 131.6 L442.6 133.4 L450 128.6 L441.2 128.1 L442.4 129.5 L432 132.4ZM452.9 134.7 L466.3 129.5 L466.2 131.3 L473 125.7 L464.2 126.2 L465.5 127.5 L452.1 132.6ZM473.2 135 L488 127.9 L488 129.8 L494.4 123.7 L485.6 124.8 L487 126 L472.2 133ZM493.4 135.3 L507.5 128.4 L507.6 130.2 L513.9 124 L505.1 125.3 L506.6 126.4 L492.4 133.4ZM513.5 135.8 L528 129.9 L527.9 131.7 L534.6 126 L525.9 126.7 L527.2 127.9 L512.7 133.8ZM533.7 136.4 L548.3 131.9 L548.1 133.7 L555.3 128.6 L546.5 128.4 L547.7 129.8 L533 134.3ZM553.8 137 L568.6 132.8 L568.3 134.6 L575.6 129.7 L566.8 129.3 L568 130.7 L553.2 134.9ZM574.1 137.7 L588.8 133.3 L588.5 135.1 L595.7 130.1 L586.9 129.9 L588.1 131.2 L573.4 135.6ZM594.3 138.5 L609 134.1 L608.7 135.9 L615.9 130.9 L607.2 130.6 L608.4 132 L593.6 136.4ZM614.4 139.3 L629.3 135.5 L629 137.3 L636.4 132.5 L627.6 131.9 L628.7 133.3 L613.9 137.2ZM634.6 140.2 L649.6 136.7 L649.2 138.5 L656.7 133.9 L647.9 133.1 L649.1 134.5 L634.1 138.1ZM654.8 141.2 L669.8 137.8 L669.4 139.6 L676.9 135 L668.2 134.2 L669.3 135.6 L654.3 139.1ZM675 142.3 L690 139 L689.6 140.8 L697.2 136.3 L688.4 135.4 L689.5 136.9 L674.6 140.2ZM695.2 143.5 L710.3 140.3 L709.8 142.1 L717.5 137.7 L708.7 136.7 L709.8 138.2 L694.8 141.3ZM715.4 144.7 L730.5 141.6 L730 143.3 L737.7 138.9 L728.9 138 L730 139.4 L715 142.5ZM49.5 162 L64.7 164 L63.8 165.6 L72.4 163.9 L64.5 160.1 L65 161.9 L49.8 159.8ZM69.7 160.8 L84.9 162.8 L83.9 164.4 L92.5 162.7 L84.6 158.9 L85.2 160.6 L69.9 158.6ZM89.8 159.6 L105 161.7 L104 163.2 L112.7 161.6 L104.7 157.7 L105.3 159.5 L90.1 157.5ZM109.9 158.6 L125.2 160.5 L124.2 162 L132.8 160.3 L124.9 156.6 L125.4 158.3 L110.2 156.4ZM130 157.6 L145.3 159.5 L144.3 161 L152.9 159.3 L145 155.6 L145.5 157.3 L130.3 155.4ZM150.2 156.7 L165.4 158.7 L164.4 160.2 L173 158.6 L165.1 154.8 L165.7 156.5 L150.4 154.5ZM170.3 155.8 L185.4 158.2 L184.4 159.7 L193.1 158.3 L185.3 154.3 L185.8 156 L170.6 153.7ZM190.4 155.1 L205.4 157.9 L204.4 159.4 L213.1 158.2 L205.4 154 L205.8 155.8 L190.8 152.9ZM210.5 154.4 L224.9 157.3 L223.8 158.8 L232.6 157.7 L224.9 153.4 L225.4 155.1 L210.9 152.2ZM230.6 153.8 L242.4 155.9 L241.3 157.4 L250 156.1 L242.3 152 L242.8 153.7 L231 151.6ZM250.8 153.2 L263.7 154.8 L262.8 156.3 L271.4 154.6 L263.4 150.9 L264 152.6 L251.1 151.1ZM271 152.8 L284.7 153.6 L283.9 155.2 L292.4 152.9 L284.2 149.7 L284.8 151.4 L271.1 150.6ZM291.2 152.4 L303.9 152.5 L303.1 154.2 L311.5 151.5 L303.1 148.7 L303.9 150.3 L291.2 150.2ZM311.4 152.1 L319.5 151.9 L318.8 153.5 L327.1 150.5 L318.6 148 L319.5 149.7 L311.3 149.9ZM331.5 151.9 L339.7 151.4 L339.1 153.1 L347.2 149.8 L338.7 147.6 L339.6 149.2 L331.4 149.7ZM351.7 151.7 L360.9 151 L360.2 152.7 L368.4 149.4 L359.8 147.3 L360.7 148.9 L351.5 149.5ZM371.8 151.7 L384.2 150.8 L383.5 152.5 L391.7 149.2 L383.2 147 L384 148.6 L371.6 149.5ZM391.9 151.7 L400.7 151 L400 152.7 L408.2 149.3 L399.6 147.2 L400.5 148.8 L391.7 149.5ZM412.1 151.7 L420.5 150.7 L419.9 152.4 L427.9 148.6 L419.2 146.9 L420.2 148.5 L411.8 149.5ZM432.3 151.9 L445.3 148.9 L444.9 150.7 L452.4 146.2 L443.7 145.3 L444.8 146.8 L431.8 149.7ZM452.5 152.1 L466.6 147.4 L466.4 149.2 L473.4 144 L464.6 144 L465.9 145.3 L451.9 150ZM472.7 152.3 L485.4 147.1 L485.3 148.9 L492 143.2 L483.2 143.8 L484.6 145.1 L471.9 150.3ZM492.9 152.7 L504.3 147.8 L504.3 149.7 L510.9 143.9 L502.1 144.6 L503.5 145.8 L492 150.7ZM512.9 153.2 L527.4 148.3 L527.2 150.1 L534.3 144.8 L525.5 144.9 L526.7 146.2 L512.2 151.1ZM533 153.8 L547.8 149.9 L547.5 151.7 L554.9 146.9 L546.1 146.4 L547.3 147.8 L532.4 151.6ZM553.1 154.4 L568 150.5 L567.6 152.2 L575 147.5 L566.2 146.9 L567.4 148.3 L552.6 152.2ZM573.3 155 L588 150.6 L587.7 152.4 L594.9 147.4 L586.1 147.2 L587.3 148.5 L572.6 152.9ZM593.4 155.8 L608.1 151.2 L607.8 153 L615 147.9 L606.2 147.8 L607.4 149.1 L592.8 153.7ZM613.5 156.6 L628.3 152.5 L628 154.3 L635.3 149.3 L626.5 149 L627.7 150.3 L612.9 154.5ZM633.6 157.6 L648.4 153.6 L648.1 155.4 L655.5 150.5 L646.7 150.1 L647.9 151.5 L633.1 155.4ZM653.7 158.5 L668.6 154.6 L668.3 156.4 L675.6 151.7 L666.9 151.1 L668 152.5 L653.2 156.4ZM673.9 159.6 L688.8 155.9 L688.4 157.7 L695.9 153.1 L687.1 152.4 L688.2 153.8 L673.3 157.5ZM694 160.8 L708.9 157.3 L708.5 159.1 L716.1 154.5 L707.3 153.7 L708.4 155.2 L693.5 158.6ZM714.1 162 L729.1 158.6 L728.7 160.4 L736.2 155.8 L727.4 155 L728.6 156.4 L713.6 159.8ZM50.9 179.3 L66.3 181.8 L65.3 183.3 L74 182 L66.2 177.9 L66.7 179.7 L51.2 177.1ZM70.9 178.1 L86.3 180.6 L85.3 182.1 L94 180.8 L86.2 176.7 L86.7 178.5 L71.3 175.9ZM91 176.9 L108 179.7 L107 181.2 L115.6 179.8 L107.8 175.8 L108.3 177.5 L91.3 174.8ZM111 175.9 L129 178.5 L128 180.1 L136.6 178.5 L128.8 174.6 L129.3 176.4 L111.3 173.7ZM131.1 174.9 L147 177.2 L146 178.7 L154.6 177.2 L146.8 173.3 L147.3 175 L131.4 172.7ZM151.1 174 L166.3 176.3 L165.3 177.8 L173.9 176.3 L166.1 172.4 L166.6 174.1 L151.4 171.8ZM171.1 173.2 L186.2 175.7 L185.2 177.2 L193.9 175.9 L186.1 171.8 L186.6 173.6 L171.5 171ZM191.1 172.4 L206.2 175.4 L205.1 176.9 L213.8 175.8 L206.2 171.5 L206.6 173.2 L191.6 170.2ZM211.2 171.7 L226.2 174.9 L225.1 176.3 L233.8 175.4 L226.2 171 L226.6 172.7 L211.6 169.6ZM231.2 171.1 L246.3 173.9 L245.2 175.4 L253.9 174.3 L246.2 170 L246.7 171.8 L231.6 168.9ZM251.3 170.6 L266.5 172.5 L265.5 174 L274.2 172.4 L266.2 168.6 L266.8 170.3 L251.6 168.4ZM271.4 170.1 L286.7 171.2 L285.8 172.8 L294.3 170.6 L286.2 167.3 L286.8 169 L271.6 167.9ZM291.5 169.8 L306.2 170.1 L305.4 171.7 L313.8 169.2 L305.5 166.2 L306.2 167.9 L291.6 167.6ZM311.6 169.5 L320.2 169.4 L319.4 171.1 L327.8 168.3 L319.4 165.6 L320.2 167.2 L311.6 167.3ZM331.7 169.2 L340.2 169.1 L339.5 170.7 L347.8 167.8 L339.4 165.2 L340.2 166.9 L331.6 167ZM351.7 169.1 L359.8 168.7 L359.1 170.4 L367.4 167.3 L358.9 164.9 L359.7 166.5 L351.7 166.9ZM371.8 169 L380.7 168.5 L380 170.2 L388.2 167 L379.7 164.7 L380.6 166.3 L371.7 166.8ZM391.9 169 L403.3 168.3 L402.7 169.9 L410.8 166.7 L402.3 164.5 L403.2 166.1 L391.7 166.8ZM411.9 169.1 L422.4 168 L421.8 169.8 L429.9 166.2 L421.3 164.3 L422.2 165.9 L411.7 166.9ZM432.1 169.2 L444.2 167.2 L443.7 169 L451.5 164.9 L442.8 163.5 L443.8 165 L431.7 167ZM452.2 169.4 L461.8 167.1 L461.4 168.9 L468.9 164.2 L460.1 163.5 L461.3 165 L451.7 167.3ZM472.3 169.7 L480.4 167.3 L480.1 169.1 L487.4 164.1 L478.6 163.8 L479.8 165.2 L471.6 167.6ZM492.3 170.1 L502.9 167.1 L502.6 168.9 L509.9 163.9 L501.1 163.6 L502.3 165 L491.7 168ZM512.3 170.6 L527.2 167.1 L526.8 168.9 L534.3 164.4 L525.6 163.6 L526.7 165 L511.8 168.4ZM532.3 171.1 L547.3 167.9 L546.9 169.6 L554.5 165.2 L545.7 164.3 L546.8 165.7 L531.9 169ZM552.4 171.7 L567.3 167.8 L566.9 169.6 L574.3 164.8 L565.5 164.3 L566.7 165.7 L551.9 169.6ZM572.5 172.4 L587.1 167.7 L586.9 169.5 L594 164.4 L585.2 164.3 L586.5 165.6 L571.8 170.3ZM592.6 173.1 L607.1 168.1 L606.9 169.9 L613.9 164.6 L605.1 164.7 L606.4 166 L591.9 171ZM612.6 174 L627.2 169.3 L627 171.1 L634.1 165.9 L625.3 165.8 L626.5 167.2 L611.9 171.9ZM632.6 174.9 L647.3 170.4 L647 172.2 L654.2 167.1 L645.4 166.9 L646.6 168.3 L632 172.8ZM652.7 175.9 L667.4 171.4 L667.1 173.2 L674.3 168.2 L665.5 168 L666.7 169.3 L652 173.7ZM672.7 176.9 L687.5 172.8 L687.2 174.6 L694.5 169.7 L685.7 169.3 L686.9 170.7 L672.1 174.8ZM692.7 178.1 L707.6 174.2 L707.2 176 L714.6 171.3 L705.9 170.7 L707 172.1 L692.2 175.9ZM712.8 179.3 L727.6 175.5 L727.3 177.3 L734.7 172.6 L725.9 172 L727.1 173.4 L712.2 177.1ZM52.2 196.6 L72 200.3 L70.9 201.8 L79.6 200.7 L71.9 196.4 L72.4 198.2 L52.6 194.4ZM72.2 195.4 L90 198.8 L89 200.3 L97.7 199.1 L90 194.9 L90.4 196.6 L72.6 193.2ZM92.1 194.3 L114.7 198.4 L113.6 199.9 L122.4 198.7 L114.6 194.5 L115.1 196.3 L92.5 192.1ZM112.1 193.2 L135 197 L134 198.5 L142.7 197.1 L134.9 193 L135.3 194.8 L112.5 191ZM132.1 192.2 L151.5 195.3 L150.5 196.8 L159.1 195.4 L151.3 191.4 L151.8 193.2 L132.4 190.1ZM152 191.3 L167.2 193.8 L166.2 195.3 L174.9 193.9 L167.1 189.9 L167.6 191.6 L152.4 189.1ZM172 190.5 L187.1 193.2 L186 194.7 L194.8 193.4 L187 189.2 L187.5 191 L172.4 188.3ZM191.9 189.7 L207 192.8 L205.9 194.2 L214.6 193.2 L207 188.8 L207.4 190.6 L192.3 187.6ZM211.9 189 L226.9 192.2 L225.8 193.7 L234.5 192.8 L226.9 188.3 L227.3 190.1 L212.3 186.9ZM231.9 188.4 L246.9 191.3 L245.9 192.7 L254.6 191.6 L246.9 187.3 L247.3 189.1 L232.3 186.3ZM251.9 187.9 L267.1 189.8 L266.1 191.4 L274.8 189.7 L266.8 185.9 L267.4 187.7 L252.2 185.7ZM271.9 187.5 L287.2 188.6 L286.3 190.2 L294.9 188 L286.7 184.7 L287.4 186.4 L272.1 185.3ZM291.9 187.1 L307.1 187.6 L306.3 189.2 L314.7 186.7 L306.5 183.7 L307.2 185.4 L292 184.9ZM311.9 186.8 L322.3 186.9 L321.6 188.5 L329.9 185.8 L321.6 183 L322.4 184.7 L311.9 184.6ZM331.9 186.6 L341.4 186.5 L340.6 188.2 L349 185.4 L340.6 182.7 L341.4 184.3 L331.9 184.4ZM351.9 186.4 L360 186.2 L359.2 187.9 L367.5 184.9 L359.1 182.4 L359.9 184 L351.8 184.2ZM371.8 186.4 L380.2 185.9 L379.5 187.6 L387.7 184.5 L379.3 182.1 L380.1 183.7 L371.7 184.2ZM391.8 186.4 L400.3 185.9 L399.6 187.6 L407.8 184.4 L399.3 182.1 L400.2 183.7 L391.7 184.2ZM411.8 186.4 L423.1 185.6 L422.4 187.3 L430.6 184 L422 181.9 L422.9 183.5 L411.6 184.2ZM431.8 186.6 L444.8 185.2 L444.2 186.9 L452.2 183.3 L443.6 181.5 L444.6 183 L431.6 184.4ZM451.8 186.8 L461.3 185.4 L460.8 187.1 L468.7 183.1 L460 181.7 L461 183.2 L451.5 184.6ZM471.8 187.1 L481.3 185.5 L480.8 187.3 L488.6 183.2 L479.9 181.8 L480.9 183.3 L471.4 184.9ZM491.7 187.5 L504 185.6 L503.5 187.3 L511.3 183.4 L502.6 181.9 L503.7 183.4 L491.4 185.3ZM511.7 187.9 L526.3 185.7 L525.8 187.5 L533.7 183.5 L525 182 L526 183.5 L511.4 185.7ZM531.7 188.4 L545.4 185.7 L545 187.5 L552.6 183.1 L543.9 182.1 L545 183.5 L531.3 186.3ZM551.7 189 L566.2 185.1 L565.9 186.9 L573.2 182 L564.4 181.6 L565.6 183 L551.1 186.9ZM571.7 189.7 L586.3 184.8 L586.1 186.6 L593.1 181.4 L584.3 181.4 L585.6 182.7 L571 187.6ZM591.7 190.4 L606.1 185.1 L606 186.9 L612.9 181.4 L604.1 181.7 L605.4 183 L591 188.4ZM611.7 191.3 L626.2 186.2 L626 188 L633 182.6 L624.2 182.8 L625.4 184.1 L611 189.2ZM631.6 192.2 L646.2 187.3 L646 189.1 L653.1 183.8 L644.3 183.9 L645.5 185.2 L630.9 190.1ZM651.6 193.2 L666.2 188.4 L666 190.2 L673 184.9 L664.2 184.9 L665.5 186.3 L650.9 191.1ZM671.5 194.2 L686.2 189.7 L685.9 191.5 L693.1 186.4 L684.3 186.2 L685.5 187.6 L670.9 192.1ZM691.5 195.4 L706.2 191.2 L705.9 193 L713.2 188.1 L704.4 187.7 L705.6 189.1 L690.9 193.2ZM711.4 196.6 L726.2 192.5 L725.9 194.3 L733.2 189.4 L724.5 189 L725.6 190.4 L710.8 194.5ZM53.5 213.9 L75.9 218.5 L74.8 219.9 L83.5 218.9 L75.9 214.5 L76.3 216.3 L54 211.7ZM73.4 212.7 L91.9 216.5 L90.8 217.9 L99.6 216.9 L91.9 212.6 L92.3 214.3 L73.9 210.5ZM93.3 211.6 L116 216 L114.9 217.5 L123.6 216.4 L115.9 212.1 L116.4 213.9 L93.7 209.4ZM113.2 210.5 L136.2 214.5 L135.2 216 L143.9 214.7 L136.1 210.6 L136.6 212.3 L113.6 208.4ZM133.1 209.5 L154.1 213.1 L153 214.6 L161.7 213.2 L153.9 209.1 L154.4 210.9 L133.5 207.4ZM153 208.6 L168.4 211.3 L167.4 212.8 L176.1 211.4 L168.3 207.3 L168.8 209.1 L153.3 206.5ZM172.8 207.8 L187.9 210.5 L186.9 212 L195.6 210.7 L187.9 206.6 L188.3 208.3 L173.2 205.6ZM192.7 207.1 L207.8 210 L206.7 211.5 L215.4 210.4 L207.7 206.1 L208.2 207.9 L193.1 204.9ZM212.6 206.4 L227.6 209.4 L226.5 210.9 L235.3 209.9 L227.6 205.5 L228 207.3 L213 204.2ZM232.5 205.8 L247.6 208.4 L246.5 209.9 L255.3 208.7 L247.5 204.5 L248 206.3 L232.9 203.6ZM252.4 205.3 L267.7 207.1 L266.7 208.6 L275.3 206.8 L267.3 203.1 L267.9 204.9 L252.7 203.1ZM272.4 204.8 L287.7 205.8 L286.8 207.4 L295.3 205.2 L287.1 201.9 L287.8 203.6 L272.5 202.6ZM292.3 204.5 L307.6 204.9 L306.8 206.5 L315.2 204 L306.9 201 L307.7 202.7 L292.3 202.3ZM312.2 204.2 L324.3 204.2 L323.6 205.8 L331.9 203.1 L323.6 200.3 L324.3 202 L312.2 202ZM332.1 203.9 L340.2 203.8 L339.5 205.4 L347.8 202.5 L339.4 199.9 L340.2 201.6 L332 201.7ZM352 203.8 L360.1 203.4 L359.4 205.1 L367.6 202 L359.1 199.6 L360 201.2 L351.9 201.6ZM371.9 203.7 L379.9 203.3 L379.3 205 L387.5 201.8 L379 199.5 L379.8 201.1 L371.8 201.5ZM391.8 203.7 L399.8 203.4 L399.1 205 L407.3 202 L398.9 199.6 L399.7 201.2 L391.7 201.5ZM411.6 203.8 L419.8 203.5 L419.1 205.1 L427.3 202.1 L418.9 199.6 L419.7 201.3 L411.5 201.6ZM431.5 203.9 L439.9 203.4 L439.2 205.1 L447.4 201.9 L438.9 199.6 L439.8 201.2 L431.4 201.7ZM451.4 204.1 L462.5 203.2 L461.9 204.9 L470 201.4 L461.4 199.4 L462.4 201 L451.3 202ZM471.3 204.4 L486 203 L485.4 204.7 L493.4 201.1 L484.8 199.2 L485.8 200.8 L471.1 202.3ZM491.2 204.8 L505.5 203.3 L504.9 205.1 L512.9 201.4 L504.3 199.6 L505.2 201.1 L491 202.6ZM511.1 205.3 L522.3 203.6 L521.8 205.4 L529.7 201.5 L521 199.9 L522 201.5 L510.8 203.1ZM531.1 205.8 L542.3 203.3 L541.9 205.1 L549.5 200.5 L540.8 199.7 L541.9 201.1 L530.6 203.6ZM551.1 206.4 L562.3 203 L562 204.8 L569.3 199.8 L560.5 199.6 L561.7 200.9 L550.4 204.3ZM571 207 L586 201.7 L585.8 203.5 L592.8 198.1 L584 198.3 L585.2 199.6 L570.3 204.9ZM590.9 207.8 L606.6 201.6 L606.5 203.4 L613.2 197.8 L604.4 198.3 L605.8 199.5 L590.1 205.7ZM610.8 208.6 L627.6 202.2 L627.4 204.1 L634.3 198.5 L625.5 198.9 L626.8 200.2 L610 206.5ZM630.6 209.5 L648.7 203.1 L648.5 204.9 L655.5 199.5 L646.7 199.7 L648 201 L629.9 207.4ZM650.5 210.5 L666.8 204.9 L666.6 206.7 L673.6 201.3 L664.8 201.5 L666 202.8 L649.8 208.4ZM670.4 211.5 L686 206.4 L685.8 208.2 L692.9 202.9 L684.1 202.9 L685.3 204.3 L669.7 209.4ZM690.2 212.7 L705.7 207.9 L705.5 209.7 L712.7 204.6 L703.9 204.4 L705.1 205.8 L689.6 210.6ZM710.1 213.9 L725.2 209.4 L724.9 211.2 L732.2 206.2 L723.4 205.9 L724.6 207.3 L709.5 211.8ZM54.9 231.2 L77.7 236 L76.6 237.5 L85.3 236.5 L77.7 232.1 L78.1 233.9 L55.3 229ZM74.7 230 L96.3 234.6 L95.2 236 L104 235 L96.4 230.6 L96.8 232.4 L75.1 227.8ZM94.5 228.9 L117.1 233.4 L116 234.9 L124.7 233.9 L117.1 229.5 L117.5 231.3 L94.9 226.7ZM114.3 227.8 L137.3 231.8 L136.3 233.3 L145 232 L137.2 227.9 L137.7 229.6 L114.7 225.7ZM134.1 226.9 L157 230.6 L156 232.1 L164.6 230.8 L156.8 226.7 L157.3 228.5 L134.5 224.7ZM153.9 226 L173.5 229.2 L172.5 230.7 L181.2 229.4 L173.4 225.3 L173.8 227.1 L154.3 223.8ZM173.7 225.1 L189.5 227.9 L188.5 229.4 L197.2 228.1 L189.4 223.9 L189.9 225.7 L174.1 223ZM193.5 224.4 L208.6 227.2 L207.5 228.6 L216.3 227.5 L208.5 223.2 L209 225 L193.9 222.2ZM213.3 223.7 L228.4 226.5 L227.3 228 L236 226.8 L228.3 222.6 L228.8 224.3 L213.7 221.6ZM233.1 223.1 L248.3 225.6 L247.2 227.1 L255.9 225.7 L248.1 221.6 L248.6 223.4 L233.5 221ZM253 222.6 L268.2 224.3 L267.3 225.8 L275.9 224 L267.9 220.4 L268.4 222.1 L253.2 220.4ZM272.8 222.2 L288.1 223.1 L287.3 224.7 L295.8 222.4 L287.6 219.2 L288.3 220.9 L272.9 220ZM292.6 221.8 L307.8 222.2 L307 223.8 L315.4 221.3 L307.1 218.3 L307.9 220 L292.7 219.6ZM312.5 221.5 L322.5 221.5 L321.8 223.2 L330.1 220.4 L321.8 217.7 L322.5 219.3 L312.5 219.3ZM332.3 221.3 L340.4 221 L339.7 222.7 L347.9 219.6 L339.5 217.2 L340.3 218.8 L332.2 219.1ZM352.1 221.1 L360.2 220.6 L359.5 222.3 L367.7 219 L359.2 216.8 L360 218.4 L352 218.9ZM371.9 221 L380 220.6 L379.3 222.3 L387.5 219 L379 216.8 L379.9 218.4 L371.8 218.9ZM391.7 221 L399.8 220.8 L399.1 222.5 L407.3 219.4 L398.9 217 L399.7 218.6 L391.6 218.8ZM411.5 221.1 L420.5 220.9 L419.7 222.6 L428.1 219.7 L419.6 217.1 L420.4 218.7 L411.4 218.9ZM431.3 221.3 L441.8 220.9 L441.1 222.6 L449.3 219.5 L440.9 217.1 L441.7 218.7 L431.2 219.1ZM451.2 221.5 L461 220.7 L460.3 222.4 L468.5 219 L459.9 217 L460.8 218.5 L451 219.3ZM471 221.8 L483.8 220.3 L483.2 222 L491.2 218.3 L482.6 216.6 L483.6 218.1 L470.7 219.6ZM490.8 222.2 L506.2 219.8 L505.7 221.5 L513.6 217.5 L504.9 216.1 L505.9 217.6 L490.5 220ZM510.7 222.6 L525.9 219.2 L525.5 221 L533 216.5 L524.3 215.6 L525.4 217.1 L510.2 220.4ZM530.6 223.1 L546.7 218.3 L546.5 220.1 L553.7 215.1 L544.9 214.9 L546.1 216.2 L530 221ZM550.4 223.7 L569.2 217.1 L569 218.9 L576 213.6 L567.2 213.8 L568.5 215.1 L549.7 221.6ZM570.3 224.3 L590.9 216.2 L590.8 218 L597.5 212.4 L588.8 212.9 L590.1 214.1 L569.5 222.3ZM590.1 225.1 L611.2 216.1 L611.1 218 L617.7 212.2 L609 212.9 L610.3 214.1 L589.2 223ZM609.9 225.9 L632.4 216.9 L632.3 218.7 L639 213 L630.2 213.6 L631.5 214.8 L609 223.9ZM629.6 226.8 L657.4 216.6 L657.2 218.4 L664.1 212.9 L655.3 213.2 L656.6 214.5 L628.9 224.8ZM649.4 227.8 L674.8 218.8 L674.6 220.6 L681.6 215.3 L672.8 215.5 L674 216.7 L648.7 225.7ZM669.2 228.8 L691.1 221.4 L690.9 223.2 L697.9 217.9 L689.1 218 L690.4 219.3 L668.5 226.8ZM689 230 L710.4 223 L710.2 224.8 L717.3 219.6 L708.5 219.6 L709.7 220.9 L688.3 227.9ZM708.8 231.2 L729.6 224.6 L729.4 226.4 L736.5 221.3 L727.7 221.2 L729 222.5 L708.1 229.1ZM56.2 248.5 L77.8 253.1 L76.7 254.5 L85.5 253.6 L77.8 249.2 L78.3 250.9 L56.6 246.3ZM75.9 247.3 L98.4 252.1 L97.3 253.5 L106 252.5 L98.4 248.1 L98.8 249.9 L76.4 245.2ZM95.6 246.2 L118.5 250.8 L117.5 252.2 L126.2 251.2 L118.5 246.8 L119 248.6 L96.1 244ZM115.4 245.2 L138.4 248.9 L137.4 250.4 L146.1 249.1 L138.3 245 L138.8 246.8 L115.8 243ZM135.1 244.2 L158.2 247.8 L157.2 249.3 L165.9 247.8 L158 243.8 L158.5 245.6 L135.5 242ZM154.8 243.3 L177.8 246.9 L176.8 248.4 L185.5 247 L177.6 243 L178.1 244.7 L155.2 241.1ZM174.6 242.5 L195.8 245.9 L194.8 247.4 L203.5 246 L195.7 242 L196.2 243.7 L174.9 240.3ZM194.3 241.7 L211.7 244.6 L210.7 246.1 L219.4 244.8 L211.6 240.7 L212.1 242.5 L194.6 239.6ZM214 241.1 L229.2 243.6 L228.2 245.1 L236.9 243.7 L229.1 239.6 L229.6 241.4 L214.3 238.9ZM233.7 240.5 L248.9 242.7 L247.9 244.2 L256.6 242.7 L248.7 238.7 L249.2 240.5 L234 238.3ZM253.5 240 L268.7 241.6 L267.8 243.1 L276.4 241.3 L268.4 237.7 L269 239.4 L253.7 237.8ZM273.3 239.5 L288.6 240.5 L287.7 242.1 L296.2 239.8 L288 236.6 L288.7 238.3 L273.4 237.3ZM293 239.1 L308.1 239.6 L307.3 241.3 L315.7 238.8 L307.5 235.8 L308.2 237.4 L293.1 236.9ZM312.8 238.8 L323.4 238.9 L322.6 240.6 L331 237.9 L322.7 235.1 L323.4 236.7 L312.8 236.6ZM332.5 238.6 L341 238.3 L340.3 240 L348.5 236.9 L340.1 234.5 L340.9 236.1 L332.4 236.4ZM352.3 238.5 L360.5 237.9 L359.8 239.6 L368 236.3 L359.5 234.1 L360.3 235.7 L352.1 236.3ZM372 238.4 L381 237.9 L380.3 239.6 L388.5 236.5 L380 234.1 L380.9 235.7 L371.9 236.2ZM391.7 238.4 L401.1 238.2 L400.3 239.8 L408.6 236.9 L400.2 234.3 L401 236 L391.6 236.2ZM411.4 238.5 L423.3 238.3 L422.6 239.9 L430.9 237.1 L422.5 234.4 L423.3 236.1 L411.3 236.3ZM431.1 238.6 L446.3 237.9 L445.6 239.6 L453.8 236.5 L445.4 234.1 L446.2 235.7 L431 236.4ZM450.9 238.8 L466.5 237 L466 238.7 L473.9 235 L465.3 233.3 L466.3 234.8 L450.7 236.7ZM470.7 239.1 L489.5 235.6 L489 237.3 L496.7 233.1 L488 231.9 L489 233.4 L470.3 237ZM490.5 239.5 L511.1 234.1 L510.8 235.9 L518.2 231.1 L509.4 230.5 L510.5 232 L489.9 237.4ZM510.3 239.9 L531.8 232.4 L531.6 234.3 L538.6 228.9 L529.8 229.1 L531.1 230.4 L509.6 237.8ZM530.1 240.4 L551.7 231.6 L551.6 233.4 L558.3 227.7 L549.6 228.3 L550.9 229.6 L529.2 238.4ZM549.8 241 L572.2 231.3 L572.2 233.1 L578.7 227.3 L570 228.1 L571.3 229.3 L548.9 239ZM569.6 241.6 L593.9 230.6 L593.9 232.4 L600.3 226.5 L591.6 227.4 L593 228.6 L568.6 239.6ZM589.3 242.4 L610.7 232.6 L610.7 234.4 L617.2 228.4 L608.4 229.4 L609.8 230.6 L588.4 240.4ZM609 243.2 L635.2 232.1 L635.1 233.9 L641.7 228.1 L632.9 228.9 L634.3 230.1 L608.1 241.2ZM628.6 244.1 L658.7 232.6 L658.6 234.5 L665.4 228.9 L656.6 229.3 L657.9 230.6 L627.9 242.1ZM648.3 245.1 L678.3 234.3 L678.2 236.1 L685.1 230.7 L676.3 231 L677.6 232.3 L647.6 243ZM668 246.2 L692.7 237.7 L692.5 239.5 L699.5 234.2 L690.7 234.3 L691.9 235.6 L667.3 244.1ZM687.8 247.3 L709.9 239.9 L709.7 241.7 L716.8 236.5 L708 236.5 L709.2 237.8 L687.1 245.2ZM707.5 248.5 L729.7 241.2 L729.4 243.1 L736.5 237.9 L727.7 237.8 L729 239.2 L706.8 246.4ZM57.5 265.8 L72.9 269.1 L71.8 270.5 L80.6 269.6 L73 265.1 L73.4 266.9 L58 263.7ZM77.2 264.6 L95.2 268.4 L94.1 269.9 L102.8 268.9 L95.2 264.5 L95.6 266.3 L77.6 262.5ZM96.8 263.5 L119.3 267.9 L118.2 269.4 L127 268.3 L119.3 264 L119.7 265.7 L97.2 261.3ZM116.5 262.5 L139.5 266 L138.5 267.5 L147.2 266 L139.3 262 L139.9 263.8 L116.8 260.3ZM136.1 261.5 L159.3 264.8 L158.3 266.3 L166.9 264.7 L159 260.8 L159.6 262.6 L136.4 259.3ZM155.8 260.6 L178.9 263.9 L177.9 265.4 L186.6 263.9 L178.7 260 L179.2 261.7 L156.1 258.4ZM175.4 259.8 L198.5 263.2 L197.5 264.7 L206.2 263.2 L198.3 259.3 L198.8 261 L175.7 257.6ZM195 259.1 L217.6 262.4 L216.6 263.9 L225.3 262.4 L217.4 258.5 L217.9 260.2 L195.4 256.9ZM214.7 258.4 L232.9 261.1 L231.9 262.6 L240.6 261.1 L232.7 257.1 L233.2 258.9 L215 256.2ZM234.3 257.8 L250.4 260 L249.4 261.5 L258 259.9 L250.1 256 L250.6 257.8 L234.6 255.6ZM254 257.3 L269.6 259 L268.6 260.5 L277.2 258.7 L269.2 255 L269.8 256.8 L254.2 255.1ZM273.7 256.9 L289 257.9 L288.2 259.5 L296.7 257.3 L288.5 254 L289.2 255.7 L273.8 254.7ZM293.4 256.5 L308.7 257.1 L307.9 258.7 L316.3 256.2 L308.1 253.2 L308.8 254.9 L293.4 254.3ZM313 256.2 L328.1 256.5 L327.3 258.1 L335.7 255.5 L327.4 252.6 L328.1 254.3 L313.1 254ZM332.7 256 L346.4 255.7 L345.6 257.4 L353.9 254.5 L345.5 251.9 L346.3 253.5 L332.7 253.8ZM352.4 255.8 L365.7 255.2 L365 256.9 L373.2 253.8 L364.7 251.4 L365.6 253 L352.3 253.6ZM372 255.7 L386.1 255.3 L385.4 257 L393.7 254 L385.2 251.5 L386 253.1 L371.9 253.5ZM391.6 255.7 L405 255.5 L404.3 257.2 L412.6 254.3 L404.2 251.7 L405 253.3 L391.6 253.5ZM411.3 255.8 L426.2 255.5 L425.4 257.2 L433.7 254.2 L425.3 251.7 L426.1 253.3 L411.2 253.6ZM431 256 L446.3 254.7 L445.6 256.4 L453.7 253 L445.2 250.9 L446.1 252.5 L430.8 253.8ZM450.7 256.2 L469.2 252.7 L468.7 254.4 L476.4 250.2 L467.7 249 L468.8 250.5 L450.3 254ZM470.5 256.4 L492.9 249.8 L492.6 251.6 L499.9 246.6 L491.1 246.4 L492.3 247.7 L469.8 254.3ZM490.2 256.8 L514 247.6 L513.9 249.4 L520.7 243.8 L511.9 244.3 L513.2 245.5 L489.4 254.7ZM509.9 257.2 L535.8 245.1 L535.8 246.9 L542.2 240.9 L533.5 242 L534.9 243.1 L509 255.2ZM529.6 257.7 L555.3 244.5 L555.4 246.3 L561.6 240.1 L552.9 241.4 L554.3 242.6 L528.6 255.7ZM549.2 258.3 L572.6 246.1 L572.7 247.9 L578.9 241.6 L570.2 243 L571.6 244.2 L548.2 256.3ZM568.8 259 L590.3 247.9 L590.4 249.7 L596.6 243.5 L587.9 244.8 L589.3 245.9 L567.8 257ZM588.5 259.7 L609.4 249.3 L609.5 251.2 L615.8 245 L607 246.2 L608.5 247.4 L587.5 257.7ZM608.1 260.5 L630.4 250.7 L630.4 252.5 L636.9 246.6 L628.2 247.5 L629.6 248.7 L607.2 258.5ZM627.7 261.5 L651.9 251.8 L651.8 253.7 L658.6 248 L649.8 248.5 L651.1 249.8 L626.9 259.4ZM647.3 262.4 L671.4 253.6 L671.3 255.4 L678.2 249.9 L669.4 250.2 L670.7 251.5 L646.5 260.4ZM666.9 263.5 L690 255.5 L689.8 257.3 L696.8 252 L688 252.1 L689.3 253.5 L666.2 261.4ZM686.5 264.6 L708.7 257.2 L708.5 259 L715.5 253.8 L706.7 253.8 L708 255.1 L685.8 262.5ZM706.2 265.8 L728.3 258.5 L728.1 260.3 L735.1 255.1 L726.3 255.1 L727.6 256.4 L705.5 263.7ZM58.8 283.1 L73.8 286.2 L72.8 287.7 L81.5 286.7 L73.9 282.3 L74.3 284.1 L59.3 281ZM78.4 281.9 L93.6 285.1 L92.5 286.5 L101.3 285.5 L93.6 281.1 L94.1 282.9 L78.8 279.8ZM98 280.8 L114.6 283.9 L113.6 285.4 L122.3 284.2 L114.6 280 L115 281.7 L98.4 278.7ZM117.6 279.8 L136.6 282.3 L135.6 283.9 L144.2 282.2 L136.3 278.4 L136.9 280.2 L117.9 277.6ZM137.2 278.8 L158.5 281.4 L157.5 283 L166.1 281.3 L158.2 277.5 L158.7 279.3 L137.4 276.7ZM156.7 278 L179.6 280.8 L178.7 282.3 L187.3 280.6 L179.3 276.9 L179.9 278.6 L157 275.8ZM176.3 277.1 L199.4 280.1 L198.5 281.6 L207.1 279.9 L199.1 276.2 L199.7 277.9 L176.5 275ZM195.8 276.4 L219 279.4 L218 280.9 L226.6 279.3 L218.7 275.5 L219.3 277.2 L196.1 274.2ZM215.4 275.7 L238.3 278.7 L237.3 280.2 L245.9 278.5 L238 274.7 L238.5 276.5 L215.7 273.6ZM235 275.2 L257.2 277.9 L256.2 279.4 L264.8 277.7 L256.9 273.9 L257.4 275.7 L235.2 273ZM254.5 274.6 L276 276.8 L275.1 278.4 L283.7 276.5 L275.7 272.9 L276.2 274.6 L254.8 272.4ZM274.1 274.2 L291 275.2 L290.1 276.8 L298.6 274.6 L290.5 271.3 L291.1 273 L274.3 272ZM293.7 273.8 L309.1 274.3 L308.2 275.9 L316.7 273.5 L308.4 270.4 L309.1 272.1 L293.8 271.6ZM313.3 273.5 L328.6 273.8 L327.8 275.5 L336.2 272.9 L327.9 270 L328.7 271.6 L313.3 271.3ZM332.9 273.3 L348.2 273.3 L347.4 275 L355.8 272.2 L347.5 269.5 L348.2 271.1 L332.9 271.1ZM352.5 273.2 L367.8 272.9 L367 274.5 L375.4 271.6 L366.9 269 L367.7 270.7 L352.4 271ZM372 273.1 L384.7 272.9 L384 274.6 L392.3 271.7 L383.9 269.1 L384.7 270.7 L372 270.9ZM391.6 273.1 L403.1 273 L402.4 274.6 L410.7 271.8 L402.3 269.1 L403.1 270.8 L391.5 270.9ZM411.2 273.2 L425.9 272.7 L425.2 274.3 L433.5 271.3 L425 268.8 L425.9 270.5 L411.1 271ZM430.8 273.3 L446.2 271.2 L445.7 273 L453.6 269.1 L445 267.5 L445.9 269.1 L430.5 271.1ZM450.5 273.5 L471.5 267.6 L471.2 269.4 L478.5 264.5 L469.7 264.1 L470.9 265.5 L449.9 271.4ZM470.2 273.8 L496.8 262.9 L496.7 264.7 L503.4 259 L494.6 259.6 L496 260.9 L469.4 271.7ZM489.9 274.1 L517.5 260.2 L517.6 262 L523.8 255.8 L515.1 257.1 L516.5 258.2 L488.9 272.1ZM509.5 274.5 L532.9 261.3 L533.1 263.1 L539 256.6 L530.4 258.3 L531.8 259.4 L508.4 272.6ZM529 275 L549.9 262.7 L550.1 264.6 L555.9 257.9 L547.3 259.8 L548.8 260.8 L527.9 273.1ZM548.6 275.6 L568.8 263.7 L569 265.5 L574.8 258.9 L566.2 260.8 L567.7 261.8 L547.5 273.7ZM568.1 276.3 L588.4 264.7 L588.6 266.5 L594.5 260 L585.8 261.7 L587.3 262.8 L567.1 274.4ZM587.7 277 L608.3 266 L608.4 267.8 L614.5 261.5 L605.8 263 L607.2 264.1 L586.6 275.1ZM607.2 277.9 L628.4 268.1 L628.4 269.9 L634.8 264 L626.1 264.9 L627.5 266.1 L606.3 275.9ZM626.7 278.8 L648.3 270 L648.2 271.8 L654.9 266.1 L646.2 266.7 L647.5 267.9 L625.9 276.7ZM646.2 279.7 L668.1 271.6 L667.9 273.4 L674.8 267.9 L666 268.2 L667.3 269.5 L645.5 277.7ZM665.8 280.8 L687.8 273.1 L687.6 275 L694.6 269.6 L685.8 269.8 L687.1 271.1 L665 278.7ZM685.3 281.9 L707.4 274.5 L707.2 276.3 L714.2 271 L705.4 271.1 L706.7 272.4 L684.6 279.8ZM704.9 283.1 L725.3 276.2 L725.1 278 L732.1 272.8 L723.3 272.8 L724.6 274.1 L704.2 281ZM60.1 300.4 L75.2 303.4 L74.1 304.8 L82.8 303.7 L75.2 299.4 L75.6 301.2 L60.6 298.3ZM79.6 299.2 L94.7 302.1 L93.6 303.6 L102.3 302.5 L94.7 298.2 L95.1 300 L80 297.1ZM99.1 298.1 L114.3 300.7 L113.2 302.2 L121.9 300.8 L114.1 296.7 L114.6 298.5 L99.5 296ZM118.7 297.1 L134 298.8 L133 300.4 L141.6 298.6 L133.6 294.9 L134.2 296.6 L118.9 294.9ZM138.2 296.2 L153.8 297.7 L152.9 299.3 L161.5 297.4 L153.5 293.8 L154.1 295.5 L138.4 294ZM157.6 295.3 L176.1 297.1 L175.2 298.7 L183.8 296.8 L175.7 293.2 L176.3 294.9 L157.9 293.1ZM177.1 294.5 L198.2 296.6 L197.3 298.2 L205.9 296.3 L197.8 292.7 L198.4 294.5 L177.3 292.3ZM196.6 293.7 L217.5 295.9 L216.6 297.5 L225.2 295.6 L217.1 292 L217.7 293.7 L196.8 291.6ZM216.1 293.1 L237.2 295.2 L236.2 296.8 L244.8 294.9 L236.8 291.3 L237.4 293 L216.3 290.9ZM235.6 292.5 L257.1 294.6 L256.2 296.1 L264.8 294.2 L256.7 290.7 L257.3 292.4 L235.8 290.3ZM255.1 292 L275.6 293.7 L274.7 295.3 L283.3 293.2 L275.2 289.8 L275.8 291.5 L255.2 289.8ZM274.6 291.5 L290.8 292.2 L290 293.9 L298.4 291.5 L290.2 288.4 L290.9 290 L274.7 289.3ZM294.1 291.2 L309.4 291.5 L308.6 293.1 L317.1 290.5 L308.8 287.6 L309.5 289.3 L294.1 289ZM313.6 290.9 L328.9 291.1 L328.1 292.7 L336.5 290.1 L328.2 287.2 L329 288.9 L313.6 288.7ZM333.1 290.7 L348.4 290.8 L347.6 292.4 L356 289.7 L347.7 286.9 L348.4 288.6 L333.1 288.5ZM352.6 290.5 L367.9 290.5 L367.1 292.1 L375.5 289.3 L367.1 286.6 L367.9 288.3 L352.6 288.3ZM372 290.4 L387 290.4 L386.3 292 L394.6 289.2 L386.2 286.5 L387 288.2 L372 288.2ZM391.5 290.4 L406.7 290.3 L405.9 292 L414.2 289.2 L405.9 286.5 L406.6 288.1 L391.5 288.2ZM411.1 290.5 L426.4 289.8 L425.7 291.4 L433.9 288.3 L425.4 286 L426.3 287.6 L411 288.3ZM430.7 290.6 L446.5 287.7 L446 289.5 L453.7 285.3 L445 284.1 L446 285.6 L430.3 288.5ZM450.3 290.8 L475.1 281.8 L474.9 283.7 L481.8 278.2 L473 278.5 L474.3 279.8 L449.6 288.7ZM469.9 291.1 L497 277.6 L497 279.4 L503.3 273.2 L494.6 274.5 L496 275.6 L469 289.1ZM489.5 291.4 L511.4 278.6 L511.6 280.4 L517.4 273.9 L508.8 275.7 L510.3 276.7 L488.4 289.5ZM509 291.8 L528.8 279.4 L529 281.2 L534.6 274.5 L526.1 276.6 L527.6 277.6 L507.8 290ZM528.5 292.3 L548.1 279.8 L548.4 281.6 L554 274.8 L545.4 277 L547 277.9 L527.3 290.5ZM548 292.9 L567.7 280.5 L567.9 282.3 L573.5 275.5 L565 277.6 L566.5 278.6 L546.8 291.1ZM567.4 293.6 L587.3 281.4 L587.5 283.2 L593.2 276.4 L584.7 278.5 L586.2 279.5 L566.3 291.7ZM586.9 294.3 L607.1 282.7 L607.3 284.5 L613.2 278 L604.5 279.8 L606 280.8 L585.8 292.4ZM606.3 295.2 L626.8 285.2 L626.9 287.1 L633.2 281 L624.5 282.1 L625.9 283.3 L605.3 293.2ZM625.7 296.1 L645.8 287.7 L645.7 289.5 L652.3 283.7 L643.6 284.4 L644.9 285.7 L624.9 294.1ZM645.2 297.1 L665 289.4 L664.9 291.2 L671.7 285.7 L662.9 286.1 L664.2 287.4 L644.4 295ZM664.6 298.1 L684.4 291 L684.2 292.8 L691.2 287.4 L682.4 287.7 L683.7 289 L663.9 296ZM684.1 299.2 L703.7 292.4 L703.6 294.2 L710.6 288.8 L701.8 289 L703 290.3 L683.4 297.1ZM703.6 300.4 L720.8 294.4 L720.6 296.2 L727.6 290.8 L718.8 291 L720.1 292.3 L702.9 298.3ZM61.4 317.7 L76.6 320.4 L75.5 321.8 L84.2 320.6 L76.5 316.4 L76.9 318.2 L61.8 315.6ZM80.9 316.6 L96 319.1 L94.9 320.6 L103.6 319.3 L95.9 315.2 L96.3 316.9 L81.2 314.4ZM100.3 315.5 L115.5 317.6 L114.5 319.2 L123.1 317.6 L115.3 313.7 L115.8 315.5 L100.6 313.3ZM119.7 314.4 L135 315.8 L134.1 317.4 L142.7 315.3 L134.6 311.9 L135.2 313.6 L119.9 312.2ZM139.2 313.5 L154.5 314.6 L153.6 316.2 L162.1 314.1 L154 310.7 L154.6 312.4 L139.3 311.3ZM158.6 312.6 L173.9 313.8 L173 315.3 L181.6 313.2 L173.4 309.9 L174.1 311.6 L158.7 310.4ZM178 311.8 L193.5 313 L192.6 314.6 L201.1 312.5 L193 309.1 L193.6 310.8 L178.1 309.6ZM197.4 311.1 L212.9 312.2 L212 313.8 L220.5 311.6 L212.4 308.3 L213.1 310 L197.5 308.9ZM216.8 310.4 L232.6 311.4 L231.7 313 L240.2 310.8 L232 307.6 L232.7 309.3 L216.9 308.2ZM236.2 309.8 L255.2 311 L254.3 312.6 L262.8 310.4 L254.7 307.1 L255.3 308.8 L236.3 307.6ZM255.6 309.3 L275.8 310.4 L274.9 312 L283.4 309.7 L275.2 306.5 L275.9 308.2 L255.7 307.1ZM275 308.9 L294.9 309.3 L294.1 311 L302.5 308.4 L294.2 305.5 L294.9 307.1 L275.1 306.7ZM294.5 308.5 L311.4 308.7 L310.6 310.3 L319 307.6 L310.6 304.8 L311.4 306.5 L294.5 306.3ZM313.9 308.2 L329.2 308.3 L328.4 310 L336.8 307.3 L328.5 304.5 L329.2 306.1 L313.9 306ZM333.3 308 L348.6 308.1 L347.8 309.7 L356.2 307 L347.9 304.2 L348.6 305.9 L333.3 305.8ZM352.7 307.9 L368 307.9 L367.3 309.5 L375.6 306.7 L367.3 304 L368 305.7 L352.7 305.7ZM372.1 307.8 L387.4 307.8 L386.7 309.4 L395 306.6 L386.6 303.9 L387.4 305.6 L372.1 305.6ZM391.5 307.8 L406.8 307.6 L406.1 309.3 L414.4 306.5 L406 303.8 L406.8 305.4 L391.5 305.6ZM411 307.9 L426.3 306.9 L425.6 308.6 L433.8 305.4 L425.3 303.1 L426.2 304.7 L410.8 305.7ZM430.5 308 L448.7 304 L448.3 305.8 L455.9 301.3 L447.1 300.4 L448.2 301.8 L430.1 305.8ZM450.1 308.1 L472.9 298.6 L472.8 300.5 L479.5 294.7 L470.7 295.4 L472 296.6 L449.3 306.1ZM469.6 308.4 L490.6 296.8 L490.8 298.6 L496.7 292.2 L488.1 293.8 L489.6 294.9 L468.6 306.5ZM489.1 308.7 L507 297.5 L507.2 299.3 L512.9 292.6 L504.3 294.7 L505.8 295.7 L487.9 306.9ZM508.5 309.1 L525.1 298.3 L525.3 300.1 L530.8 293.2 L522.3 295.5 L523.8 296.4 L507.3 307.3ZM527.9 309.7 L547 297 L547.3 298.8 L552.7 291.9 L544.2 294.2 L545.8 295.2 L526.7 307.8ZM547.3 310.2 L566.9 297.5 L567.1 299.3 L572.6 292.4 L564.1 294.7 L565.6 295.6 L546.1 308.4ZM566.7 310.9 L586.4 298.3 L586.6 300.1 L592.1 293.3 L583.6 295.5 L585.2 296.4 L565.5 309.1ZM586.1 311.7 L605.2 300 L605.4 301.9 L611.1 295.2 L602.5 297.2 L604.1 298.2 L584.9 309.8ZM605.4 312.5 L620.7 304.7 L620.7 306.5 L626.9 300.3 L618.2 301.6 L619.7 302.7 L604.4 310.5ZM624.8 313.4 L639.2 307.1 L639.2 308.9 L645.8 303.1 L637 303.9 L638.4 305.1 L623.9 311.4ZM644.1 314.4 L658.7 308.5 L658.6 310.4 L665.3 304.7 L656.5 305.3 L657.8 306.5 L643.3 312.3ZM663.5 315.4 L678.1 309.9 L677.9 311.8 L684.8 306.3 L676 306.6 L677.3 307.9 L662.7 313.3ZM682.9 316.5 L697.5 311.2 L697.3 313 L704.3 307.5 L695.5 307.8 L696.7 309.1 L682.2 314.4ZM702.3 317.7 L716.8 312.4 L716.6 314.2 L723.5 308.8 L714.7 309 L716 310.3 L701.6 315.6ZM62.8 335 L78.5 337.3 L77.5 338.8 L86.1 337.3 L78.3 333.4 L78.8 335.1 L63.1 332.9ZM82.1 333.9 L97.3 336 L96.3 337.5 L105 335.9 L97.1 332.1 L97.6 333.8 L82.4 331.7ZM101.4 332.8 L116.7 334.6 L115.7 336.1 L124.3 334.4 L116.4 330.6 L116.9 332.4 L101.7 330.6ZM120.8 331.8 L136.1 332.8 L135.2 334.4 L143.8 332.2 L135.6 328.9 L136.3 330.6 L121 329.6ZM140.2 330.8 L155.5 331.6 L154.6 333.3 L163.1 331 L154.9 327.8 L155.6 329.5 L140.3 328.6ZM159.5 329.9 L174.8 330.7 L173.9 332.3 L182.4 330 L174.2 326.9 L174.9 328.5 L159.6 327.7ZM178.8 329.1 L194.1 329.9 L193.3 331.5 L201.8 329.2 L193.6 326 L194.2 327.7 L178.9 326.9ZM198.1 328.4 L213.5 329 L212.6 330.7 L221.1 328.2 L212.9 325.2 L213.6 326.8 L198.2 326.2ZM217.5 327.8 L233.6 328.3 L232.7 329.9 L241.2 327.4 L232.9 324.4 L233.6 326.1 L217.6 325.6ZM236.8 327.2 L259.4 327.8 L258.6 329.5 L267 327 L258.8 324 L259.5 325.7 L236.9 325ZM256.1 326.7 L279.5 327.2 L278.7 328.9 L287.1 326.3 L278.8 323.4 L279.5 325 L256.2 324.5ZM275.5 326.2 L298.8 326.4 L298 328.1 L306.4 325.4 L298 322.6 L298.8 324.2 L275.5 324ZM294.8 325.9 L315.1 325.9 L314.3 327.6 L322.7 324.8 L314.3 322.1 L315.1 323.7 L294.8 323.7ZM314.1 325.6 L329.6 325.6 L328.8 327.2 L337.2 324.5 L328.8 321.7 L329.6 323.4 L314.1 323.4ZM333.5 325.4 L348.8 325.4 L348 327 L356.4 324.3 L348 321.5 L348.8 323.2 L333.5 323.2ZM352.8 325.2 L368.1 325.2 L367.4 326.8 L375.7 324 L367.4 321.3 L368.1 323 L352.8 323ZM372.1 325.1 L387.5 325 L386.7 326.7 L395.1 323.9 L386.7 321.2 L387.5 322.8 L372.1 322.9ZM391.5 325.1 L406.8 324.9 L406.1 326.6 L414.4 323.7 L406 321.1 L406.8 322.7 L391.4 322.9ZM410.9 325.2 L426.7 324.1 L426 325.8 L434.2 322.5 L425.7 320.3 L426.5 321.9 L410.7 323ZM430.4 325.3 L451.7 320.3 L451.3 322.1 L458.8 317.5 L450.1 316.8 L451.2 318.2 L429.9 323.2ZM449.9 325.5 L471 316.1 L471 317.9 L477.5 312 L468.7 312.9 L470.1 314.1 L449 323.5ZM469.3 325.7 L489.1 314.2 L489.3 316 L495.1 309.5 L486.5 311.3 L488 312.3 L468.2 323.8ZM488.7 326.1 L502.8 316.9 L503.1 318.7 L508.6 311.9 L500.1 314.1 L501.6 315.1 L487.5 324.2ZM508 326.5 L521.4 317.5 L521.6 319.3 L527.1 312.4 L518.6 314.8 L520.1 315.7 L506.8 324.7ZM527.3 327 L545.3 314.9 L545.6 316.7 L551 309.8 L542.5 312.2 L544 313.1 L526.1 325.2ZM546.7 327.6 L565.9 314.7 L566.2 316.5 L571.6 309.6 L563.2 312 L564.7 312.9 L545.5 325.7ZM566 328.2 L585.2 315.6 L585.5 317.4 L590.9 310.5 L582.4 312.8 L584 313.8 L564.8 326.4ZM585.3 329 L600.3 319.5 L600.5 321.3 L606.2 314.6 L597.6 316.7 L599.1 317.7 L584.1 327.1ZM604.6 329.8 L618.1 322.5 L618.2 324.3 L624.3 318 L615.6 319.5 L617.1 320.6 L603.5 327.9ZM623.8 330.7 L637.8 324.4 L637.8 326.2 L644.3 320.2 L635.5 321.2 L636.9 322.4 L622.9 328.7ZM643.1 331.7 L657.3 325.8 L657.2 327.6 L663.8 321.8 L655.1 322.5 L656.4 323.7 L642.3 329.6ZM662.4 332.7 L676.7 327.1 L676.6 328.9 L683.4 323.3 L674.6 323.8 L675.9 325 L661.6 330.7ZM681.7 333.8 L696.1 328.3 L695.9 330.1 L702.7 324.5 L694 325 L695.3 326.2 L680.9 331.7ZM701.1 335 L715.4 329.5 L715.3 331.3 L722.1 325.7 L713.3 326.1 L714.6 327.4 L700.3 332.9ZM64.1 352.3 L85.1 354.8 L84.1 356.3 L92.8 354.5 L84.8 350.8 L85.3 352.6 L64.3 350.1ZM83.3 351.2 L100.2 353 L99.2 354.6 L107.8 352.8 L99.8 349.1 L100.4 350.8 L83.5 349ZM102.6 350.1 L117.9 351.5 L117 353.1 L125.5 351.1 L117.5 347.6 L118.1 349.3 L102.8 347.9ZM121.9 349.1 L137.2 349.9 L136.4 351.5 L144.9 349.2 L136.7 346 L137.3 347.7 L122 346.9ZM141.1 348.1 L156.5 348.7 L155.6 350.3 L164.1 347.9 L155.8 344.8 L156.5 346.5 L141.2 345.9ZM160.4 347.3 L175.7 347.8 L174.9 349.4 L183.3 346.9 L175.1 343.9 L175.8 345.6 L160.5 345.1ZM179.6 346.5 L195 346.9 L194.2 348.5 L202.6 346 L194.3 343 L195 344.7 L179.7 344.3ZM198.9 345.7 L214.2 346 L213.4 347.7 L221.9 345.1 L213.5 342.2 L214.3 343.8 L198.9 343.5ZM218.2 345.1 L233.6 345.3 L232.8 346.9 L241.2 344.3 L232.9 341.4 L233.7 343.1 L218.2 342.9ZM237.4 344.5 L258 344.7 L257.2 346.4 L265.6 343.7 L257.3 340.9 L258.1 342.5 L237.4 342.3ZM256.7 344 L280 344.2 L279.2 345.8 L287.6 343.2 L279.3 340.3 L280 342 L256.7 341.8ZM275.9 343.6 L299.2 343.6 L298.5 345.3 L306.8 342.5 L298.5 339.8 L299.2 341.4 L275.9 341.4ZM295.2 343.2 L315.7 343.2 L314.9 344.9 L323.3 342.1 L314.9 339.4 L315.7 341 L295.2 341ZM314.4 342.9 L331.6 342.9 L330.8 344.6 L339.2 341.8 L330.8 339.1 L331.6 340.7 L314.4 340.7ZM333.7 342.7 L349.8 342.6 L349 344.3 L357.4 341.5 L349 338.8 L349.8 340.4 L333.7 340.5ZM352.9 342.6 L368.3 342.4 L367.5 344.1 L375.9 341.2 L367.5 338.6 L368.3 340.2 L352.9 340.4ZM372.2 342.5 L387.7 342.3 L386.9 343.9 L395.3 341 L386.9 338.4 L387.7 340.1 L372.2 340.3ZM391.4 342.5 L407 342.1 L406.3 343.7 L414.6 340.8 L406.2 338.2 L407 339.9 L391.4 340.3ZM410.8 342.6 L428.8 341 L428.1 342.8 L436.2 339.3 L427.7 337.3 L428.6 338.9 L410.6 340.4ZM430.2 342.7 L452 337.3 L451.6 339.1 L459.1 334.4 L450.3 333.8 L451.4 335.2 L429.7 340.5ZM449.6 342.8 L468.4 334.2 L468.4 336 L474.9 330 L466.1 331 L467.5 332.2 L448.7 340.8ZM469 343.1 L487.1 332.3 L487.3 334.1 L493.1 327.4 L484.5 329.4 L486 330.4 L467.9 341.2ZM488.3 343.4 L502.8 333.9 L503.1 335.7 L508.6 328.8 L500.1 331.1 L501.6 332.1 L487.1 341.6ZM507.5 343.8 L520.4 335.1 L520.7 336.9 L526.1 330 L517.6 332.4 L519.2 333.3 L506.3 342ZM526.8 344.3 L540.3 335.2 L540.6 336.9 L546 330 L537.5 332.4 L539.1 333.3 L525.5 342.5ZM546 344.9 L561.2 334.7 L561.4 336.5 L566.8 329.6 L558.4 332 L559.9 332.9 L544.8 343.1ZM565.3 345.6 L580.9 335.2 L581.2 337 L586.6 330 L578.1 332.4 L579.7 333.3 L564.1 343.7ZM584.5 346.3 L597.6 337.9 L597.8 339.8 L603.3 332.9 L594.8 335.1 L596.4 336.1 L583.3 344.4ZM603.7 347.1 L617.1 339.6 L617.2 341.5 L623.2 335 L614.5 336.7 L616 337.7 L602.6 345.2ZM622.9 348 L636.8 341.5 L636.8 343.3 L643.2 337.3 L634.4 338.4 L635.8 339.5 L621.9 346ZM642.1 349 L656.2 342.9 L656.1 344.7 L662.7 338.9 L654 339.7 L655.3 340.9 L641.2 347ZM661.3 350 L675.5 344.2 L675.4 346.1 L682.1 340.4 L673.4 341 L674.7 342.2 L660.5 348ZM680.6 351.1 L694.8 345.4 L694.7 347.2 L701.5 341.6 L692.7 342.1 L694 343.4 L679.8 349.1ZM699.8 352.3 L714.1 346.6 L714 348.4 L720.7 342.8 L711.9 343.3 L713.3 344.6 L699 350.2ZM65.3 369.6 L88.3 371.9 L87.4 373.4 L96 371.5 L87.9 368 L88.5 369.7 L65.5 367.5ZM84.5 368.5 L104.6 370.3 L103.7 371.9 L112.2 369.9 L104.2 366.4 L104.8 368.1 L84.7 366.3ZM103.7 367.4 L119.5 368.6 L118.6 370.2 L127.1 368.1 L119 364.7 L119.6 366.4 L103.9 365.2ZM122.9 366.4 L140.2 367.2 L139.3 368.8 L147.8 366.4 L139.6 363.3 L140.3 365 L123 364.2ZM142.1 365.5 L157.5 365.9 L156.7 367.5 L165.1 364.9 L156.8 362 L157.5 363.7 L142.2 363.3ZM161.3 364.6 L176.6 364.9 L175.8 366.5 L184.2 363.9 L175.9 361 L176.7 362.7 L161.3 362.4ZM180.5 363.8 L195.8 364 L195 365.6 L203.4 362.9 L195.1 360.1 L195.8 361.8 L180.5 361.6ZM199.6 363.1 L215.7 363.2 L214.9 364.8 L223.3 362.1 L214.9 359.3 L215.7 361 L199.7 360.9ZM218.8 362.4 L236.7 362.5 L235.9 364.1 L244.2 361.4 L235.9 358.6 L236.7 360.3 L218.8 360.2ZM238 361.9 L259.6 361.9 L258.9 363.6 L267.2 360.8 L258.9 358.1 L259.6 359.7 L238 359.7ZM257.2 361.4 L280.4 361.4 L279.7 363 L288 360.3 L279.7 357.5 L280.4 359.2 L257.2 359.2ZM276.3 360.9 L299.6 360.9 L298.8 362.6 L307.2 359.8 L298.8 357.1 L299.6 358.7 L276.3 358.7ZM295.5 360.6 L318.6 360.5 L317.8 362.2 L326.2 359.4 L317.8 356.7 L318.6 358.3 L295.5 358.4ZM314.7 360.3 L336.7 360.2 L336 361.9 L344.3 359.1 L336 356.4 L336.7 358 L314.7 358.1ZM333.9 360.1 L351.5 359.9 L350.8 361.6 L359.1 358.8 L350.7 356.1 L351.5 357.7 L333.9 357.9ZM353.1 359.9 L368.7 359.6 L368 361.2 L376.2 358.3 L367.8 355.7 L368.6 357.4 L353 357.7ZM372.2 359.8 L392.3 359.2 L391.5 360.9 L399.8 357.9 L391.4 355.4 L392.2 357 L372.2 357.6ZM391.4 359.8 L412.6 358.9 L411.9 360.6 L420.1 357.5 L411.7 355.1 L412.5 356.7 L391.3 357.6ZM410.7 359.9 L433.3 357.5 L432.7 359.2 L440.7 355.6 L432.1 353.8 L433.1 355.3 L410.4 357.7ZM430 360 L453.2 353.9 L452.9 355.7 L460.3 350.9 L451.5 350.4 L452.7 351.7 L429.4 357.9ZM449.4 360.2 L472.1 349.6 L472.1 351.4 L478.5 345.4 L469.8 346.4 L471.2 347.6 L448.4 358.2ZM468.6 360.4 L488.4 348.6 L488.5 350.4 L494.3 343.8 L485.7 345.7 L487.2 346.7 L467.5 358.5ZM487.9 360.7 L506.9 348.3 L507.2 350.1 L512.7 343.2 L504.2 345.5 L505.7 346.4 L486.6 358.9ZM507 361.2 L523.3 350.2 L523.6 352 L529 345.1 L520.5 347.5 L522.1 348.4 L505.8 359.3ZM526.2 361.7 L539 353 L539.3 354.8 L544.7 347.8 L536.2 350.2 L537.8 351.2 L525 359.8ZM545.4 362.2 L558.1 353.6 L558.4 355.4 L563.8 348.5 L555.3 350.9 L556.9 351.8 L544.2 360.4ZM564.6 362.9 L577.4 354.4 L577.6 356.2 L583.1 349.2 L574.6 351.6 L576.2 352.5 L563.3 361.1ZM583.7 363.6 L596.6 355.3 L596.9 357.1 L602.4 350.3 L593.9 352.5 L595.4 353.5 L582.5 361.8ZM602.8 364.5 L616.2 356.9 L616.3 358.7 L622.2 352.2 L613.6 353.9 L615.1 355 L601.7 362.5ZM621.9 365.4 L635.8 358.8 L635.8 360.6 L642.2 354.5 L633.4 355.6 L634.8 356.8 L621 363.4ZM641.1 366.3 L655.1 360.2 L655.1 362 L661.7 356.2 L652.9 357 L654.3 358.2 L640.2 364.3ZM660.2 367.3 L674.4 361.5 L674.3 363.3 L681 357.6 L672.2 358.2 L673.6 359.4 L659.4 365.3ZM679.4 368.4 L693.6 362.7 L693.5 364.5 L700.3 358.8 L691.5 359.4 L692.8 360.6 L678.6 366.4ZM698.6 369.6 L712.8 363.9 L712.7 365.7 L719.4 360 L710.7 360.6 L712 361.8 L697.7 367.5ZM66.6 386.9 L85.5 388.7 L84.6 390.3 L93.1 388.4 L85.1 384.8 L85.7 386.5 L66.8 384.8ZM85.7 385.8 L101.4 387.2 L100.5 388.8 L109.1 386.7 L101 383.3 L101.6 385 L85.9 383.6ZM104.8 384.7 L120.2 385.8 L119.3 387.4 L127.8 385.3 L119.7 381.9 L120.3 383.6 L105 382.5ZM123.9 383.7 L139.8 384.4 L138.9 386 L147.4 383.7 L139.2 380.5 L139.9 382.2 L124 381.5ZM143.1 382.8 L158.4 383.1 L157.6 384.7 L166 382.1 L157.7 379.2 L158.4 380.9 L143.1 380.6ZM162.2 381.9 L177.5 382 L176.7 383.7 L185.1 381 L176.8 378.2 L177.5 379.8 L162.2 379.7ZM181.3 381.1 L196.7 381.1 L195.9 382.8 L204.3 380 L195.9 377.3 L196.7 378.9 L181.3 378.9ZM200.4 380.4 L218.3 380.4 L217.5 382 L225.9 379.2 L217.5 376.5 L218.3 378.2 L200.4 378.2ZM219.5 379.8 L238.7 379.7 L238 381.4 L246.3 378.6 L238 375.9 L238.7 377.5 L219.5 377.6ZM238.6 379.2 L257.8 379.2 L257.1 380.8 L265.4 378.1 L257.1 375.3 L257.8 377 L238.6 377ZM257.7 378.7 L276.5 378.7 L275.7 380.3 L284 377.6 L275.7 374.8 L276.4 376.5 L257.7 376.5ZM276.8 378.3 L295.2 378.2 L294.4 379.9 L302.8 377.1 L294.4 374.4 L295.2 376 L276.8 376.1ZM295.9 377.9 L313.2 377.9 L312.4 379.5 L320.8 376.7 L312.4 374 L313.2 375.7 L295.9 375.7ZM315 377.6 L331.3 377.5 L330.6 379.2 L338.9 376.4 L330.5 373.7 L331.3 375.3 L315 375.4ZM334.1 377.4 L349.5 377.2 L348.8 378.8 L357.1 375.9 L348.7 373.3 L349.5 375 L334 375.2ZM353.2 377.3 L369.4 376.6 L368.7 378.3 L377 375.3 L368.5 372.8 L369.3 374.4 L353.1 375.1ZM372.3 377.2 L394.3 376 L393.6 377.7 L401.8 374.5 L393.3 372.2 L394.2 373.8 L372.2 375ZM391.4 377.2 L414.3 375.5 L413.7 377.2 L421.8 373.9 L413.3 371.7 L414.2 373.3 L391.3 375ZM410.6 377.2 L434.6 373.8 L434.1 375.6 L442 371.7 L433.3 370.1 L434.3 371.7 L410.3 375.1ZM429.9 377.4 L458.2 369 L457.9 370.8 L465.1 365.8 L456.3 365.6 L457.6 366.9 L429.2 375.2ZM449.1 377.5 L474.1 365.8 L474.1 367.6 L480.5 361.5 L471.8 362.6 L473.2 363.8 L448.2 375.5ZM468.3 377.7 L488.5 365.8 L488.6 367.6 L494.4 361 L485.8 362.9 L487.3 363.9 L467.2 375.9ZM487.4 378.1 L507.1 365.4 L507.3 367.2 L512.8 360.4 L504.3 362.6 L505.9 363.6 L486.2 376.2ZM506.5 378.5 L525.5 365.9 L525.8 367.7 L531.2 360.8 L522.8 363.1 L524.3 364.1 L505.3 376.7ZM525.6 379 L539.3 369.9 L539.5 371.6 L544.9 364.7 L536.5 367.1 L538 368 L524.4 377.2ZM544.7 379.6 L557.5 371 L557.8 372.8 L563.2 365.9 L554.7 368.3 L556.3 369.2 L543.5 377.8ZM563.8 380.2 L576.6 371.8 L576.9 373.6 L582.4 366.7 L573.9 369 L575.4 369.9 L562.6 378.4ZM582.9 381 L595.9 372.7 L596.1 374.5 L601.7 367.7 L593.1 369.9 L594.7 370.9 L581.7 379.1ZM602 381.8 L615.4 374.3 L615.5 376.1 L621.4 369.6 L612.8 371.3 L614.3 372.4 L600.9 379.9ZM621 382.7 L634.9 376.1 L634.9 377.9 L641.3 371.9 L632.5 373 L633.9 374.1 L620.1 380.7ZM640.1 383.6 L654.1 377.4 L654.1 379.2 L660.6 373.4 L651.8 374.2 L653.2 375.4 L639.2 381.6ZM659.1 384.6 L673.2 378.7 L673.2 380.5 L679.8 374.7 L671 375.4 L672.4 376.6 L658.3 382.6ZM678.2 385.7 L692 380.1 L691.9 381.9 L698.6 376.2 L689.8 376.8 L691.1 378 L677.4 383.7ZM697.3 386.9 L710.6 381.5 L710.5 383.4 L717.2 377.7 L708.4 378.3 L709.7 379.5 L696.5 384.8ZM67.8 404.2 L83.1 405.9 L82.2 407.5 L90.8 405.6 L82.8 402 L83.4 403.7 L68 402.1ZM86.8 403.1 L102.1 404.6 L101.2 406.2 L109.8 404.2 L101.7 400.7 L102.3 402.4 L87 400.9ZM105.9 402 L121.2 403.2 L120.3 404.8 L128.8 402.7 L120.7 399.3 L121.3 401 L106 399.8ZM124.9 401 L140.3 401.8 L139.4 403.4 L147.9 401.1 L139.7 397.9 L140.4 399.6 L125 398.8ZM144 400.1 L159.3 400.5 L158.5 402.1 L166.9 399.5 L158.6 396.6 L159.4 398.3 L144 397.9ZM163 399.2 L178.4 399.3 L177.6 401 L186 398.3 L177.6 395.5 L178.4 397.1 L163 397ZM182.1 398.5 L197.4 398.4 L196.6 400 L205 397.3 L196.6 394.5 L197.4 396.2 L182.1 396.3ZM201.1 397.7 L216.5 397.7 L215.7 399.3 L224.1 396.5 L215.7 393.8 L216.5 395.5 L201.1 395.5ZM220.1 397.1 L235.5 397.1 L234.7 398.7 L243.1 396 L234.7 393.2 L235.5 394.9 L220.1 394.9ZM239.1 396.5 L254.5 396.5 L253.8 398.2 L262.1 395.4 L253.7 392.7 L254.5 394.3 L239.1 394.3ZM258.2 396 L273.5 396 L272.8 397.6 L281.1 394.8 L272.7 392.1 L273.5 393.8 L258.1 393.8ZM277.2 395.6 L292.5 395.5 L291.8 397.1 L300.1 394.3 L291.7 391.6 L292.5 393.3 L277.2 393.4ZM296.2 395.2 L311.6 395.1 L310.8 396.7 L319.1 393.9 L310.7 391.2 L311.5 392.9 L296.2 393ZM315.2 395 L330.6 394.7 L329.8 396.4 L338.2 393.5 L329.8 390.9 L330.5 392.5 L315.2 392.8ZM334.3 394.7 L349.7 394.2 L349 395.9 L357.2 392.8 L348.8 390.4 L349.6 392 L334.2 392.5ZM353.3 394.6 L369.1 393.4 L368.5 395.1 L376.6 391.8 L368.1 389.6 L369 391.2 L353.2 392.4ZM372.4 394.5 L389.4 392.6 L388.9 394.4 L396.9 390.7 L388.3 388.9 L389.2 390.4 L372.2 392.3ZM391.5 394.5 L412.5 391.3 L412 393 L419.9 389 L411.2 387.6 L412.2 389.1 L391.1 392.3ZM410.6 394.6 L436 388.4 L435.7 390.2 L443.1 385.5 L434.4 384.8 L435.5 386.2 L410.1 392.4ZM429.7 394.7 L453.2 385.8 L453.1 387.7 L459.9 382.1 L451.1 382.5 L452.4 383.8 L429 392.6ZM448.9 394.8 L470 384.3 L470 386.1 L476.3 380 L467.6 381.2 L469 382.4 L447.9 392.9ZM468 395.1 L488.1 383.2 L488.3 385.1 L494.1 378.4 L485.5 380.3 L487 381.4 L466.8 393.2ZM487 395.4 L506.6 383.1 L506.8 384.9 L512.4 378.1 L503.9 380.3 L505.4 381.2 L485.8 393.6ZM506 395.9 L523.9 384.4 L524.2 386.2 L529.7 379.4 L521.2 381.6 L522.8 382.6 L504.9 394ZM525.1 396.4 L538.8 387.5 L539 389.3 L544.5 382.5 L536 384.7 L537.6 385.7 L523.9 394.5ZM544.1 396.9 L557 388.6 L557.2 390.4 L562.7 383.5 L554.2 385.8 L555.8 386.7 L542.9 395.1ZM563.1 397.6 L576 389.3 L576.3 391.1 L581.8 384.3 L573.3 386.5 L574.8 387.4 L561.9 395.7ZM582.1 398.3 L595.2 390.3 L595.4 392.1 L601.1 385.4 L592.5 387.4 L594 388.4 L581 396.4ZM601.1 399.1 L614.6 391.8 L614.7 393.6 L620.7 387.2 L612.1 388.8 L613.5 389.8 L600 397.2ZM620.1 400 L633.9 393.3 L633.9 395.1 L640.2 389 L631.5 390.1 L632.9 391.3 L619.1 398ZM639.1 400.9 L652.9 394.4 L652.9 396.2 L659.3 390.2 L650.6 391.3 L652 392.4 L638.1 398.9ZM658.1 401.9 L670.3 396.3 L670.3 398.1 L676.8 392.1 L668 393.1 L669.4 394.3 L657.2 399.9ZM677.1 403 L685.8 399.2 L685.8 401 L692.3 395.1 L683.6 396 L684.9 397.2 L676.2 401ZM696.1 404.2 L704.1 400.8 L704 402.6 L710.6 396.8 L701.9 397.6 L703.2 398.8 L695.3 402.1ZM69 421.5 L84.2 423.5 L83.2 425.1 L91.9 423.4 L83.9 419.6 L84.5 421.4 L69.3 419.4ZM88 420.4 L103.2 422.2 L102.3 423.7 L110.9 421.9 L102.9 418.3 L103.5 420 L88.2 418.2ZM106.9 419.3 L122.2 420.7 L121.3 422.3 L129.9 420.3 L121.8 416.8 L122.4 418.5 L107.1 417.2ZM125.9 418.4 L141.2 419.3 L140.4 420.9 L148.9 418.6 L140.7 415.4 L141.4 417.1 L126.1 416.2ZM144.9 417.4 L160.2 417.9 L159.4 419.6 L167.9 417.1 L159.6 414.1 L160.3 415.7 L145 415.2ZM163.9 416.6 L179.2 416.8 L178.4 418.4 L186.8 415.8 L178.5 412.9 L179.2 414.6 L163.9 414.4ZM182.8 415.8 L198.2 415.8 L197.4 417.4 L205.8 414.7 L197.4 411.9 L198.2 413.6 L182.8 413.6ZM201.8 415.1 L217.1 415.1 L216.4 416.7 L224.7 414 L216.4 411.2 L217.1 412.9 L201.8 412.9ZM220.7 414.4 L236.1 414.5 L235.3 416.1 L243.7 413.4 L235.3 410.6 L236.1 412.3 L220.7 412.2ZM239.7 413.9 L255 413.9 L254.2 415.6 L262.6 412.8 L254.3 410.1 L255 411.7 L239.7 411.7ZM258.6 413.4 L274 413.2 L273.2 414.9 L281.6 412 L273.2 409.4 L274 411 L258.6 411.2ZM277.6 412.9 L292.9 412.6 L292.2 414.3 L300.5 411.4 L292.1 408.8 L292.9 410.4 L277.6 410.7ZM296.6 412.6 L311.9 412.2 L311.2 413.8 L319.5 410.9 L311 408.4 L311.8 410 L296.5 410.4ZM315.5 412.3 L331.4 411.7 L330.7 413.3 L338.9 410.2 L330.5 407.8 L331.3 409.5 L315.4 410.1ZM334.5 412.1 L353.2 410.6 L352.6 412.3 L360.7 408.9 L352.2 406.8 L353.1 408.4 L334.3 409.9ZM353.6 411.9 L374.7 408.5 L374.2 410.2 L382 406.2 L373.3 404.8 L374.4 406.3 L353.2 409.8ZM372.6 411.8 L394.5 406.2 L394.2 408 L401.6 403.3 L392.8 402.7 L394 404.1 L372.1 409.7ZM391.6 411.8 L413.6 404.1 L413.4 405.9 L420.4 400.6 L411.6 400.7 L412.8 402 L390.9 409.7ZM410.7 411.8 L431.9 402 L431.9 403.8 L438.3 397.8 L429.6 398.8 L431 400 L409.8 409.9ZM429.7 412 L450.1 400.5 L450.2 402.4 L456.2 395.9 L447.5 397.6 L449 398.6 L428.6 410ZM448.7 412.1 L468.5 400 L468.7 401.9 L474.4 395.2 L465.9 397.2 L467.4 398.2 L447.6 410.3ZM467.7 412.4 L486.5 400.5 L486.7 402.3 L492.3 395.5 L483.8 397.6 L485.3 398.6 L466.5 410.6ZM486.6 412.8 L502.3 402.9 L502.5 404.7 L508.1 397.9 L499.6 400 L501.1 401 L485.4 410.9ZM505.5 413.2 L519.1 404.9 L519.3 406.7 L525 400 L516.4 402 L517.9 403.1 L504.4 411.3ZM524.5 413.7 L537.6 405.8 L537.8 407.6 L543.6 400.9 L535 402.9 L536.5 403.9 L523.4 411.8ZM543.4 414.3 L556.6 406.3 L556.8 408.1 L562.5 401.4 L553.9 403.4 L555.4 404.4 L542.3 412.4ZM562.4 414.9 L575.5 406.9 L575.7 408.7 L581.4 402 L572.8 404 L574.3 405 L561.2 413ZM581.3 415.6 L594.4 407.8 L594.6 409.6 L600.4 403 L591.8 404.9 L593.3 405.9 L580.2 413.7ZM600.3 416.4 L613.1 409.4 L613.2 411.2 L619.2 404.7 L610.6 406.3 L612.1 407.4 L599.2 414.5ZM619.2 417.3 L631.2 411 L631.3 412.9 L637.5 406.6 L628.8 408 L630.2 409.1 L618.2 415.4ZM638.1 418.2 L649.1 412.6 L649.2 414.4 L655.4 408.2 L646.7 409.5 L648.1 410.7 L637.1 416.3ZM657.1 419.2 L665.3 415.1 L665.3 416.9 L671.6 410.7 L662.9 412 L664.3 413.1 L656.1 417.3ZM676 420.3 L683.3 416.8 L683.3 418.6 L689.6 412.4 L680.9 413.6 L682.3 414.8 L675 418.3ZM694.9 421.5 L702.2 418 L702.2 419.9 L708.7 413.8 L699.9 414.9 L701.3 416.1 L694 419.5ZM70.2 438.8 L85.4 441.2 L84.4 442.7 L93 441.2 L85.2 437.2 L85.7 439 L70.5 436.7ZM89.1 437.7 L104.3 439.8 L103.3 441.3 L112 439.7 L104 435.8 L104.6 437.6 L89.4 435.5ZM108 436.7 L123.2 438.3 L122.3 439.8 L130.9 438 L122.9 434.4 L123.5 436.1 L108.2 434.5ZM126.9 435.7 L142.2 436.8 L141.3 438.4 L149.9 436.3 L141.7 432.9 L142.4 434.6 L127.1 433.5ZM145.8 434.8 L161.1 435.4 L160.3 437.1 L168.8 434.7 L160.5 431.6 L161.2 433.2 L145.9 432.6ZM164.7 433.9 L180.1 434.3 L179.2 435.9 L187.7 433.3 L179.4 430.4 L180.1 432.1 L164.8 431.7ZM183.6 433.1 L198.9 433.3 L198.2 434.9 L206.5 432.2 L198.2 429.4 L199 431.1 L183.6 430.9ZM202.5 432.4 L217.8 432.6 L217 434.2 L225.4 431.5 L217.1 428.7 L217.8 430.4 L202.5 430.2ZM221.3 431.8 L235.9 432 L235.1 433.6 L243.5 431 L235.2 428.1 L236 429.8 L221.4 429.6ZM240.2 431.2 L254.7 431.4 L253.9 433 L262.3 430.3 L253.9 427.5 L254.7 429.2 L240.3 429ZM259.1 430.7 L274.4 430.5 L273.7 432.2 L282 429.4 L273.6 426.7 L274.4 428.3 L259.1 428.5ZM278 430.3 L293.4 429.8 L292.6 431.5 L300.9 428.5 L292.5 426 L293.3 427.6 L278 428.1ZM296.9 429.9 L312.2 429.2 L311.5 430.9 L319.8 427.8 L311.3 425.4 L312.1 427 L296.8 427.7ZM315.8 429.7 L332.2 428.4 L331.5 430.1 L339.7 426.7 L331.1 424.6 L332 426.2 L315.7 427.5ZM334.8 429.4 L354 426.6 L353.4 428.4 L361.3 424.4 L352.6 422.9 L353.6 424.4 L334.5 427.3ZM353.8 429.3 L373.3 423.7 L373.1 425.5 L380.4 420.6 L371.6 420.2 L372.7 421.6 L353.2 427.1ZM372.8 429.1 L392.3 421.1 L392.3 422.9 L398.9 417.2 L390.2 417.8 L391.5 419 L371.9 427.1ZM391.8 429.1 L410.7 419.3 L410.8 421.1 L416.9 414.8 L408.3 416.2 L409.7 417.3 L390.7 427.2ZM410.7 429.1 L429 417.7 L429.2 419.5 L434.9 412.8 L426.3 414.9 L427.9 415.8 L409.5 427.3ZM429.6 429.2 L446.7 417.2 L447 419 L452.2 411.9 L443.8 414.5 L445.4 415.4 L428.4 427.4ZM448.5 429.4 L463.4 418.4 L463.8 420.2 L468.9 413 L460.5 415.7 L462.1 416.6 L447.2 427.7ZM467.4 429.7 L480.5 420.2 L480.8 422 L485.9 414.8 L477.6 417.5 L479.2 418.4 L466.1 428ZM486.3 430.1 L498.9 421.3 L499.2 423.1 L504.5 416.1 L496.1 418.6 L497.6 419.5 L485 428.3ZM505.1 430.5 L518 422.2 L518.2 424 L523.8 417.2 L515.2 419.4 L516.8 420.4 L503.9 428.7ZM523.9 431.1 L537 423.1 L537.2 424.9 L542.9 418.2 L534.4 420.2 L535.9 421.2 L522.8 429.2ZM542.8 431.6 L555.9 423.7 L556.1 425.5 L561.9 418.9 L553.3 420.8 L554.8 421.8 L541.7 429.7ZM561.7 432.3 L574.2 424.7 L574.4 426.5 L580.1 419.8 L571.5 421.8 L573 422.8 L560.6 430.4ZM580.6 433 L590.8 426.8 L591 428.6 L596.8 421.9 L588.2 423.9 L589.7 424.9 L579.4 431.1ZM599.4 433.8 L607.3 429.2 L607.5 431 L613.3 424.5 L604.7 426.3 L606.2 427.3 L598.3 431.8ZM618.3 434.6 L625.5 430.6 L625.7 432.4 L631.6 425.9 L623 427.6 L624.5 428.7 L617.2 432.7ZM637.2 435.5 L644.3 431.6 L644.4 433.4 L650.4 427 L641.8 428.6 L643.3 429.7 L636.1 433.6ZM656 436.5 L663.1 432.6 L663.2 434.5 L669.2 428 L660.6 429.6 L662 430.7 L655 434.6ZM674.9 437.6 L682 433.8 L682.1 435.6 L688.1 429.2 L679.5 430.7 L680.9 431.8 L673.9 435.7ZM693.8 438.7 L700.9 435 L701 436.8 L707.1 430.5 L698.4 431.9 L699.9 433 L692.7 436.8ZM71.4 456.1 L86.5 458.7 L85.5 460.2 L94.2 458.8 L86.4 454.7 L86.9 456.5 L71.7 454ZM90.2 455 L105.4 457.3 L104.4 458.8 L113 457.3 L105.2 453.4 L105.7 455.1 L90.5 452.8ZM109 454 L124.3 455.9 L123.3 457.4 L131.9 455.7 L124 451.9 L124.5 453.7 L109.3 451.8ZM127.9 453 L143.2 454.4 L142.2 455.9 L150.8 454 L142.7 450.5 L143.4 452.2 L128.1 450.8ZM146.7 452.1 L162 452.9 L161.2 454.5 L169.7 452.3 L161.5 449.1 L162.2 450.7 L146.8 449.9ZM165.5 451.2 L180.9 451.7 L180.1 453.3 L188.5 450.9 L180.2 447.8 L180.9 449.5 L165.6 449ZM184.4 450.5 L199.7 450.7 L198.9 452.4 L207.3 449.8 L199 446.9 L199.7 448.5 L184.4 448.3ZM203.2 449.7 L217.9 450 L217.1 451.7 L225.5 449.1 L217.2 446.2 L217.9 447.8 L203.2 447.5ZM222 449.1 L231.3 449.4 L230.5 451 L238.9 448.5 L230.6 445.5 L231.4 447.2 L222 446.9ZM240.8 448.6 L251.4 448.8 L250.5 450.4 L259 447.8 L250.7 444.9 L251.4 446.6 L240.8 446.4ZM259.6 448.1 L273.7 448 L273 449.6 L281.3 446.9 L272.9 444.1 L273.7 445.8 L259.6 445.9ZM278.4 447.6 L292.4 447.3 L291.7 448.9 L300 446 L291.6 443.4 L292.4 445.1 L278.4 445.4ZM297.3 447.3 L311.7 446.5 L311 448.2 L319.2 445 L310.7 442.7 L311.6 444.3 L297.1 445.1ZM316.1 447 L331.2 445.4 L330.6 447.2 L338.6 443.6 L330 441.7 L331 443.2 L315.9 444.8ZM335 446.8 L350.1 443.7 L349.7 445.5 L357.3 441.1 L348.6 440.1 L349.7 441.5 L334.6 444.6ZM354 446.6 L368.5 441.3 L368.3 443.1 L375.3 437.7 L366.5 438 L367.8 439.3 L353.2 444.5ZM372.9 446.5 L386.9 439.6 L386.9 441.4 L393.3 435.3 L384.5 436.5 L385.9 437.6 L371.9 444.5ZM391.8 446.4 L405.3 438.6 L405.4 440.4 L411.3 433.8 L402.6 435.6 L404.1 436.7 L390.7 444.5ZM410.6 446.5 L423.5 437.7 L423.7 439.5 L429.1 432.5 L420.6 435 L422.2 435.9 L409.4 444.6ZM429.5 446.6 L441.7 437 L442.1 438.8 L447 431.5 L438.7 434.5 L440.3 435.3 L428.1 444.8ZM448.3 446.7 L460.1 436.9 L460.6 438.7 L465.2 431.2 L457.1 434.4 L458.7 435.2 L446.9 445.1ZM467.1 447 L478.6 437.6 L479 439.3 L483.7 431.9 L475.5 435.1 L477.2 435.9 L465.7 445.3ZM485.9 447.4 L496.1 439.5 L496.5 441.3 L501.4 434 L493.1 437 L494.7 437.8 L484.6 445.7ZM504.7 447.9 L515.1 440.5 L515.4 442.2 L520.7 435.2 L512.3 437.8 L513.8 438.7 L503.4 446.1ZM523.4 448.4 L536 440.2 L536.3 442 L541.8 435.1 L533.3 437.4 L534.8 438.3 L522.2 446.5ZM542.2 448.9 L553.9 441.6 L554.1 443.5 L559.8 436.7 L551.2 438.8 L552.8 439.8 L541.1 447.1ZM561 449.6 L569.1 444.6 L569.3 446.4 L575 439.6 L566.4 441.7 L567.9 442.7 L559.9 447.7ZM579.8 450.3 L586.8 446 L587 447.8 L592.6 441 L584.1 443.1 L585.6 444.1 L578.7 448.4ZM598.6 451.1 L605.5 446.9 L605.7 448.7 L611.4 442 L602.8 444 L604.4 445 L597.5 449.2ZM617.4 451.9 L624.3 447.8 L624.5 449.6 L630.3 443 L621.7 444.9 L623.2 445.9 L616.3 450ZM636.2 452.8 L643.2 448.8 L643.3 450.6 L649.2 444 L640.5 445.8 L642 446.9 L635.1 450.9ZM655 453.8 L662 449.7 L662.1 451.6 L667.9 444.9 L659.3 446.8 L660.8 447.8 L653.9 451.9ZM673.8 454.9 L680.8 450.8 L680.9 452.6 L686.7 446 L678.1 447.9 L679.6 448.9 L672.7 453ZM692.6 456 L699.6 451.9 L699.7 453.7 L705.6 447.1 L697 449 L698.5 450 L691.5 454.1ZM72.6 473.4 L87.1 476.1 L86.1 477.6 L94.8 476.4 L87.1 472.2 L87.5 473.9 L73 471.3ZM91.3 472.3 L105.7 474.7 L104.7 476.2 L113.4 474.9 L105.6 470.8 L106.1 472.6 L91.7 470.2ZM110.1 471.3 L125 473.4 L124 474.9 L132.7 473.3 L124.8 469.4 L125.3 471.2 L110.4 469.1ZM128.8 470.3 L144.1 471.9 L143.1 473.5 L151.7 471.6 L143.7 468 L144.3 469.7 L129.1 468.1ZM147.6 469.4 L162.8 470.4 L161.9 472 L170.4 469.9 L162.3 466.5 L162.9 468.2 L147.8 467.2ZM166.4 468.6 L181.1 469.2 L180.3 470.8 L188.7 468.4 L180.5 465.3 L181.2 467 L166.5 466.4ZM185.1 467.8 L198.7 468.2 L197.8 469.8 L206.3 467.3 L198 464.3 L198.7 466 L185.2 465.6ZM203.8 467.1 L216.5 467.5 L215.7 469.1 L224.2 466.7 L215.9 463.6 L216.6 465.3 L203.9 464.9ZM222.6 466.5 L231.4 466.8 L230.5 468.4 L239 466 L230.7 462.9 L231.4 464.6 L222.6 464.3ZM241.3 465.9 L249.9 466.2 L249.1 467.8 L257.6 465.3 L249.3 462.3 L250 464 L241.4 463.7ZM260.1 465.4 L268.8 465.4 L268 467.1 L276.4 464.4 L268 461.6 L268.8 463.2 L260.1 463.2ZM278.8 465 L287.7 464.8 L286.9 466.5 L295.2 463.5 L286.8 461 L287.6 462.6 L278.8 462.8ZM297.6 464.6 L310.4 463.9 L309.7 465.6 L317.9 462.4 L309.4 460.1 L310.2 461.7 L297.5 462.4ZM316.4 464.3 L331.2 462.6 L330.6 464.3 L338.6 460.6 L330 458.8 L330.9 460.4 L316.1 462.2ZM335.2 464.1 L350.2 460.6 L349.8 462.4 L357.3 457.8 L348.5 457 L349.7 458.5 L334.7 462ZM354.1 463.9 L368.4 458.4 L368.3 460.2 L375.1 454.6 L366.3 455.1 L367.6 456.3 L353.3 461.9ZM372.9 463.8 L386.6 456.9 L386.7 458.7 L392.9 452.4 L384.2 453.8 L385.6 454.9 L371.9 461.8ZM391.7 463.8 L404.9 455.8 L405.1 457.6 L410.8 451 L402.2 452.9 L403.7 453.9 L390.6 461.9ZM410.5 463.8 L423 454.9 L423.4 456.7 L428.6 449.6 L420.2 452.2 L421.7 453.1 L409.3 462ZM429.3 463.9 L441.1 454.1 L441.6 455.8 L446.2 448.3 L438.1 451.6 L439.7 452.4 L427.9 462.2ZM448.1 464.1 L458.8 454.3 L459.4 456 L463.7 448.4 L455.7 452 L457.3 452.7 L446.6 462.4ZM466.8 464.3 L474.1 457.7 L474.6 459.4 L478.9 451.8 L470.9 455.4 L472.6 456.1 L465.4 462.7ZM485.6 464.7 L491.8 459.3 L492.3 461.1 L496.8 453.5 L488.7 456.9 L490.4 457.7 L484.1 463ZM504.2 465.2 L510.8 460.1 L511.2 461.8 L516.1 454.5 L507.8 457.5 L509.4 458.3 L502.9 463.4ZM522.9 465.7 L532.5 459 L532.8 460.8 L538.1 453.8 L529.7 456.3 L531.2 457.2 L521.7 463.9ZM541.6 466.3 L550.9 460.3 L551.2 462.1 L556.7 455.2 L548.2 457.5 L549.7 458.4 L540.4 464.4ZM560.3 466.9 L567.2 462.6 L567.4 464.4 L573.1 457.7 L564.5 459.8 L566 460.8 L559.2 465ZM579.1 467.6 L585.9 463.4 L586.1 465.2 L591.8 458.4 L583.2 460.5 L584.7 461.5 L577.9 465.7ZM597.8 468.4 L604.6 464.1 L604.9 466 L610.5 459.2 L602 461.3 L603.5 462.3 L596.6 466.5ZM616.5 469.2 L623.4 465 L623.6 466.8 L629.3 460.1 L620.7 462.1 L622.3 463.2 L615.4 467.4ZM635.2 470.1 L642.1 466 L642.3 467.8 L648.1 461.1 L639.5 463.1 L641 464.1 L634.1 468.3ZM654 471.1 L660.8 466.9 L661.1 468.7 L666.7 462 L658.2 464 L659.7 465.1 L652.8 469.3ZM672.7 472.2 L679.4 468.1 L679.6 469.9 L685.3 463.1 L676.7 465.2 L678.2 466.2 L671.6 470.3ZM691.4 473.3 L697.7 469.4 L697.9 471.2 L703.5 464.5 L695 466.6 L696.5 467.6 L690.3 471.4ZM73.7 490.7 L82.5 492.6 L81.4 494 L90.1 493.1 L82.5 488.6 L82.9 490.4 L74.2 488.6ZM92.4 489.6 L101 491.3 L99.9 492.7 L108.6 491.6 L100.9 487.3 L101.4 489.1 L92.8 487.5ZM111.1 488.6 L121.2 490.2 L120.2 491.7 L128.9 490.3 L121 486.3 L121.5 488 L111.4 486.4ZM129.8 487.6 L142.5 489.1 L141.6 490.7 L150.2 489 L142.2 485.2 L142.8 487 L130.1 485.4ZM148.5 486.7 L161 487.8 L160.1 489.3 L168.6 487.3 L160.5 483.9 L161.2 485.6 L148.7 484.5ZM167.2 485.9 L180.5 486.6 L179.6 488.2 L188.1 486 L179.9 482.7 L180.6 484.4 L167.3 483.7ZM185.8 485.1 L199.6 485.7 L198.7 487.4 L207.2 485 L199 481.9 L199.7 483.6 L185.9 482.9ZM204.5 484.4 L218.5 485.1 L217.6 486.8 L226.1 484.4 L217.9 481.3 L218.6 482.9 L204.6 482.2ZM223.1 483.8 L237.2 484.6 L236.3 486.2 L244.8 484 L236.6 480.8 L237.3 482.5 L223.3 481.6ZM241.8 483.2 L255.8 483.9 L254.9 485.5 L263.4 483.2 L255.2 480 L255.9 481.7 L241.9 481ZM260.5 482.7 L273.9 482.9 L273.2 484.5 L281.5 481.8 L273.2 479 L274 480.7 L260.5 480.5ZM279.2 482.3 L292.3 482.1 L291.5 483.7 L299.8 480.8 L291.4 478.2 L292.2 479.9 L279.2 480.1ZM297.9 482 L313.1 481.1 L312.4 482.8 L320.6 479.6 L312.1 477.3 L312.9 478.9 L297.8 479.8ZM316.7 481.7 L331.9 479.7 L331.3 481.4 L339.2 477.6 L330.6 476 L331.6 477.5 L316.4 479.5ZM335.4 481.5 L350.3 477.8 L350 479.6 L357.4 474.9 L348.7 474.2 L349.8 475.7 L334.9 479.3ZM354.2 481.3 L368.5 475.8 L368.4 477.6 L375.2 472 L366.4 472.5 L367.8 473.7 L353.4 479.2ZM373 481.2 L386.7 474.3 L386.8 476.1 L393 469.9 L384.3 471.2 L385.7 472.3 L372 479.2ZM391.7 481.1 L404.9 473.2 L405 475 L410.8 468.3 L402.2 470.3 L403.7 471.3 L390.6 479.2ZM410.5 481.1 L422.9 472.1 L423.2 473.9 L428.4 466.8 L420 469.5 L421.6 470.3 L409.2 479.4ZM429.2 481.2 L440.8 471.2 L441.3 473 L445.8 465.4 L437.7 468.8 L439.3 469.6 L427.7 479.6ZM447.9 481.4 L455.9 473.6 L456.5 475.4 L460.6 467.6 L452.7 471.4 L454.4 472.1 L446.4 479.8ZM466.6 481.7 L472.3 476 L472.9 477.7 L476.9 469.8 L469.1 473.8 L470.8 474.4 L465 480.1ZM485.2 482 L491.1 476.5 L491.6 478.2 L495.8 470.5 L487.9 474.2 L489.6 474.9 L483.7 480.4ZM503.8 482.5 L510 477.3 L510.4 479 L515.1 471.6 L506.9 474.8 L508.6 475.6 L502.4 480.8ZM522.4 483 L529.2 478.1 L529.6 479.8 L534.7 472.7 L526.3 475.4 L527.9 476.3 L521.1 481.2ZM541 483.6 L548.4 478.9 L548.6 480.7 L554.2 473.9 L545.7 476.1 L547.2 477.1 L539.8 481.8ZM559.6 484.3 L566.6 480.2 L566.8 482 L572.6 475.4 L564 477.2 L565.5 478.3 L558.5 482.4ZM578.3 485 L585.3 481 L585.4 482.8 L591.3 476.2 L582.7 478 L584.2 479 L577.2 483.1ZM596.9 485.7 L603.9 481.7 L604.1 483.5 L610 477 L601.3 478.8 L602.8 479.8 L595.8 483.8ZM615.6 486.6 L622.6 482.5 L622.7 484.3 L628.6 477.8 L620 479.6 L621.5 480.6 L614.5 484.7ZM634.3 487.5 L640.8 483.6 L641 485.5 L646.8 478.9 L638.2 480.7 L639.7 481.7 L633.2 485.6ZM652.9 488.5 L657.6 485.7 L657.8 487.5 L663.6 480.9 L655 482.8 L656.5 483.8 L651.8 486.6ZM671.6 489.5 L673.4 488.4 L673.6 490.2 L679.3 483.6 L670.7 485.5 L672.2 486.5 L670.5 487.6ZM690.2 490.6 L690.8 490.2 L691 491.9 L696.4 485.6 L688.4 487.4 L689.8 488.4 L689.2 488.8ZM74.9 508 L82.7 510 L81.5 511.4 L90.3 510.8 L82.9 506.1 L83.2 507.9 L75.4 505.9ZM93.5 506.9 L101.3 508.7 L100.2 510.1 L109 509.2 L101.4 504.8 L101.8 506.5 L93.9 504.8ZM112.1 505.9 L120.1 507.3 L119 508.8 L127.7 507.5 L120 503.4 L120.5 505.1 L112.5 503.7ZM130.7 504.9 L139 506 L138.1 507.6 L146.7 506 L138.8 502.1 L139.3 503.9 L131 502.8ZM149.4 504 L162.5 505.4 L161.6 506.9 L170.2 505 L162.2 501.4 L162.8 503.2 L149.6 501.8ZM168 503.2 L183.2 504.3 L182.4 505.9 L190.9 503.8 L182.8 500.4 L183.4 502.1 L168.1 501ZM186.6 502.4 L201.9 503.4 L201 505 L209.5 502.8 L201.4 499.5 L202 501.2 L186.7 500.2ZM205.2 501.7 L220.5 502.8 L219.6 504.4 L228.1 502.3 L220 498.9 L220.6 500.6 L205.3 499.6ZM223.7 501.1 L239 502.3 L238.1 503.9 L246.7 501.9 L238.6 498.4 L239.2 500.2 L223.9 498.9ZM242.3 500.6 L257.7 501.5 L256.8 503.1 L265.3 500.8 L257.1 497.6 L257.8 499.3 L242.5 498.4ZM261 500.1 L276.3 500.3 L275.5 501.9 L283.9 499.2 L275.6 496.4 L276.3 498.1 L261 497.9ZM279.6 499.7 L294.9 499.4 L294.2 501 L302.5 498.1 L294.1 495.5 L294.9 497.2 L279.6 497.5ZM298.2 499.3 L313.6 498.4 L312.9 500.1 L321.1 496.9 L312.6 494.6 L313.4 496.3 L298.1 497.1ZM316.9 499 L332.1 497 L331.6 498.7 L339.5 494.8 L330.8 493.2 L331.8 494.8 L316.6 496.9ZM335.6 498.8 L350.5 495.1 L350.2 496.9 L357.6 492.2 L348.8 491.6 L350 493 L335.1 496.7ZM354.3 498.6 L368.7 493.3 L368.6 495.1 L375.4 489.6 L366.7 490 L367.9 491.2 L353.6 496.6ZM373 498.5 L386.9 491.9 L386.9 493.8 L393.2 487.7 L384.5 488.8 L385.9 490 L372.1 496.5ZM391.7 498.5 L405 490.8 L405.1 492.6 L411 486.1 L402.4 487.9 L403.9 488.9 L390.6 496.6ZM410.3 498.5 L422.9 489.7 L423.2 491.5 L428.5 484.5 L420 487 L421.6 487.9 L409.1 496.7ZM429 498.6 L440.4 488.9 L440.9 490.7 L445.5 483.2 L437.4 486.5 L439 487.2 L427.6 496.9ZM447.6 498.7 L455 491.7 L455.6 493.4 L459.7 485.6 L451.7 489.4 L453.4 490.1 L446.1 497.1ZM466.2 499 L471.9 493.3 L472.6 495 L476.5 487.1 L468.6 491.1 L470.4 491.7 L464.7 497.4ZM484.8 499.4 L490.6 493.7 L491.2 495.5 L495.3 487.7 L487.4 491.5 L489.1 492.2 L483.3 497.8ZM503.4 499.8 L509.5 494.6 L510 496.3 L514.5 488.8 L506.4 492.2 L508 492.9 L501.9 498.1ZM521.9 500.4 L528.4 495.7 L528.8 497.5 L534 490.4 L525.6 493 L527.2 493.9 L520.6 498.6ZM540.4 501 L547.3 496.8 L547.5 498.7 L553.3 492 L544.7 493.9 L546.2 495 L539.3 499.1ZM558.9 501.6 L566.1 497.9 L566.1 499.7 L572.3 493.4 L563.6 494.8 L565 495.9 L557.9 499.7ZM577.5 502.3 L584.7 498.7 L584.7 500.5 L591 494.4 L582.3 495.6 L583.7 496.8 L576.5 500.4ZM596.1 503.1 L603.2 499.6 L603.2 501.4 L609.5 495.2 L600.8 496.5 L602.2 497.6 L595.1 501.1ZM614.7 503.9 L620.1 501.2 L620.1 503 L626.3 496.8 L617.6 498.1 L619.1 499.2 L613.7 502ZM633.3 504.8 L634.8 504 L634.9 505.8 L641 499.6 L632.4 501 L633.8 502.1 L632.3 502.9ZM651.8 505.7 L652.4 505.4 L652.4 506.9 L657.8 501.5 L650.2 502.7 L651.5 503.7 L650.9 504ZM670.4 506.7 L670.9 506.4 L671 507.9 L676.1 502.6 L668.9 503.8 L670.1 504.8 L669.5 505ZM688.9 507.8 L689.5 507.5 L689.6 509 L694.6 503.7 L687.5 505 L688.7 505.9 L688.1 506.2ZM76 525.3 L83.7 527.7 L82.5 529 L91.3 528.8 L84.1 523.8 L84.3 525.6 L76.6 523.2ZM94.5 524.2 L102.3 526.3 L101.1 527.7 L109.9 527.2 L102.6 522.4 L102.9 524.2 L95.1 522.1ZM113.1 523.2 L121 524.8 L119.9 526.3 L128.6 525.3 L121 520.9 L121.4 522.7 L113.5 521.1ZM131.7 522.2 L139.8 523.5 L138.8 525 L147.4 523.6 L139.6 519.6 L140.1 521.3 L132 520.1ZM150.2 521.4 L163.3 522.9 L162.3 524.5 L170.9 522.7 L163 519 L163.5 520.7 L150.5 519.2ZM168.8 520.5 L184 521.9 L183.1 523.5 L191.7 521.5 L183.6 518 L184.2 519.7 L169 518.3ZM187.3 519.8 L202.6 520.9 L201.7 522.5 L210.3 520.4 L202.1 517 L202.8 518.7 L187.5 517.6ZM205.8 519.1 L221.1 520.3 L220.2 521.9 L228.8 519.9 L220.7 516.4 L221.3 518.1 L206 516.9ZM224.3 518.5 L239.6 519.9 L238.7 521.4 L247.3 519.5 L239.2 516 L239.8 517.7 L224.5 516.3ZM242.9 517.9 L258.2 519 L257.3 520.6 L265.8 518.4 L257.7 515.1 L258.3 516.8 L243 515.7ZM261.4 517.4 L276.8 517.7 L276 519.3 L284.4 516.7 L276.1 513.8 L276.8 515.5 L261.5 515.2ZM280 517 L295.3 516.8 L294.6 518.5 L302.9 515.6 L294.5 513 L295.3 514.6 L280 514.8ZM298.5 516.7 L313.3 515.9 L312.6 517.6 L320.8 514.5 L312.3 512.1 L313.2 513.7 L298.4 514.5ZM317.2 516.4 L332.2 514.3 L331.7 516 L339.6 512.2 L330.9 510.6 L331.9 512.1 L316.9 514.2ZM335.8 516.1 L350.5 512.4 L350.2 514.2 L357.6 509.5 L348.8 508.9 L350 510.3 L335.3 514ZM354.4 516 L368.2 511 L368 512.8 L375 507.4 L366.2 507.7 L367.5 508.9 L353.7 513.9ZM373 515.9 L386.3 509.9 L386.3 511.7 L392.8 505.7 L384.1 506.7 L385.4 507.9 L372.1 513.9ZM391.6 515.8 L404.2 509 L404.3 510.9 L410.3 504.5 L401.7 506 L403.1 507.1 L390.6 513.9ZM410.2 515.9 L421 508.8 L421.3 510.6 L426.8 503.8 L418.3 506 L419.8 507 L409 514ZM428.8 515.9 L436.8 509.7 L437.2 511.4 L442 504.1 L433.8 507.1 L435.4 507.9 L427.4 514.2ZM447.4 516.1 L453.5 510.5 L454 512.3 L458.4 504.6 L450.3 508.2 L452 508.9 L445.9 514.5ZM465.9 516.4 L471.7 510.8 L472.3 512.5 L476.4 504.7 L468.5 508.5 L470.2 509.2 L464.4 514.8ZM484.4 516.7 L490.4 511.3 L490.9 513 L495.2 505.4 L487.2 509 L488.9 509.7 L482.9 515.1ZM502.9 517.2 L509.2 512.2 L509.6 514 L514.5 506.6 L506.2 509.6 L507.8 510.5 L501.5 515.5ZM521.3 517.7 L528.1 513.4 L528.3 515.2 L533.9 508.4 L525.4 510.6 L526.9 511.5 L520.1 515.9ZM539.7 518.3 L546.9 514.6 L547 516.4 L553.1 510.1 L544.4 511.6 L545.9 512.7 L538.7 516.4ZM558.2 519 L565.5 515.7 L565.5 517.5 L572 511.6 L563.3 512.5 L564.6 513.7 L557.3 517ZM576.7 519.7 L583.9 516.6 L583.8 518.5 L590.5 512.7 L581.7 513.4 L583.1 514.6 L575.8 517.7ZM595.2 520.4 L599.2 518.8 L599.1 520.6 L605.7 514.8 L597 515.5 L598.3 516.8 L594.3 518.4ZM613.7 521.2 L614.3 520.9 L614.3 522.6 L620.3 517.2 L612.3 517.9 L613.5 519.1 L612.9 519.3ZM632.2 522 L632.8 521.7 L632.7 523.2 L638.1 518.3 L630.9 519.1 L632 520.1 L631.4 520.3ZM650.7 523 L651.3 522.7 L651.3 524.2 L656.6 519.3 L649.4 520.1 L650.5 521 L650 521.3ZM669.2 524 L669.8 523.7 L669.8 525.2 L675.1 520.3 L667.9 521.1 L669 522.1 L668.5 522.3ZM687.8 525.1 L688.3 524.8 L688.3 526.3 L693.6 521.3 L686.4 522.2 L687.5 523.2 L687 523.4ZM77.1 542.6 L84.6 545.4 L83.4 546.6 L92.2 546.9 L85.2 541.5 L85.4 543.3 L77.8 540.5ZM95.5 541.5 L103.2 544 L102 545.3 L110.8 545.3 L103.7 540.1 L103.9 541.9 L96.2 539.4ZM114.1 540.5 L121.9 542.4 L120.8 543.9 L129.5 543.2 L122.1 538.5 L122.4 540.3 L114.6 538.4ZM132.6 539.6 L140.7 541 L139.6 542.5 L148.3 541.3 L140.6 537.1 L141.1 538.8 L133 537.4ZM151.1 538.7 L164.1 540.6 L163.1 542.1 L171.8 540.6 L163.9 536.7 L164.4 538.4 L151.4 536.5ZM169.6 537.9 L184.8 539.6 L183.8 541.1 L192.5 539.3 L184.5 535.7 L185 537.4 L169.8 535.7ZM188 537.1 L203.3 538.5 L202.4 540.1 L211 538.1 L202.9 534.6 L203.5 536.3 L188.2 534.9ZM206.5 536.4 L221.7 537.9 L220.8 539.4 L229.4 537.5 L221.3 534 L221.9 535.7 L206.7 534.2ZM224.9 535.8 L240.2 537.4 L239.2 539 L247.8 537.1 L239.8 533.5 L240.4 535.2 L225.1 533.6ZM243.4 535.2 L258.6 536.6 L257.7 538.2 L266.3 536.2 L258.2 532.7 L258.8 534.4 L243.6 533.1ZM261.9 534.8 L277.2 535.3 L276.4 537 L284.8 534.5 L276.6 531.5 L277.3 533.1 L262 532.6ZM280.4 534.4 L295.7 534.3 L294.9 536 L303.3 533.2 L294.9 530.5 L295.7 532.1 L280.4 532.2ZM298.9 534 L313.7 533.4 L313 535.1 L321.2 532 L312.7 529.6 L313.6 531.2 L298.8 531.8ZM317.4 533.7 L331.4 531.8 L330.9 533.6 L338.8 529.7 L330.1 528.1 L331.1 529.7 L317.1 531.5ZM336 533.5 L346.3 530.9 L346 532.7 L353.4 527.9 L344.6 527.3 L345.8 528.7 L335.4 531.4ZM354.5 533.3 L363 530.3 L362.9 532.1 L369.8 526.7 L361 526.9 L362.3 528.2 L353.8 531.3ZM373 533.2 L381.2 529.6 L381.2 531.5 L387.7 525.6 L379 526.4 L380.3 527.6 L372.2 531.2ZM391.6 533.2 L399.3 529.2 L399.3 531 L405.5 524.8 L396.8 526.2 L398.3 527.3 L390.5 531.2ZM410.1 533.2 L417.2 528.9 L417.3 530.8 L423.1 524.1 L414.5 526 L416 527.1 L408.9 531.3ZM428.6 533.3 L435.1 528.6 L435.5 530.4 L440.6 523.2 L432.2 525.9 L433.8 526.8 L427.3 531.5ZM447.1 533.5 L453.3 528.3 L453.8 530.1 L458.4 522.6 L450.2 525.8 L451.9 526.6 L445.7 531.8ZM465.6 533.7 L471.7 528.5 L472.2 530.2 L476.7 522.7 L468.6 526.1 L470.2 526.8 L464.1 532.1ZM484 534.1 L490.3 529.1 L490.7 530.8 L495.5 523.5 L487.3 526.6 L488.9 527.4 L482.6 532.4ZM502.3 534.6 L509 530.1 L509.3 531.9 L514.7 525 L506.3 527.3 L507.8 528.3 L501.1 532.8ZM520.7 535.1 L527.8 531.3 L527.9 533.2 L534 526.8 L525.3 528.3 L526.8 529.4 L519.7 533.2ZM539.1 535.7 L546.5 532.6 L546.4 534.4 L553 528.6 L544.3 529.3 L545.6 530.5 L538.2 533.7ZM557.5 536.3 L564.9 533.7 L564.7 535.5 L571.6 530 L562.8 530.3 L564.1 531.6 L556.7 534.3ZM575.9 537 L579.7 535.7 L579.5 537.5 L586.5 532.2 L577.7 532.3 L579 533.7 L575.2 535ZM594.3 537.7 L594.9 537.4 L594.8 539 L600.9 534.3 L593.2 534.5 L594.3 535.6 L593.7 535.9ZM612.7 538.4 L613.3 538.2 L613.2 539.7 L618.9 535.2 L611.6 535.5 L612.7 536.5 L612.1 536.7ZM631.2 539.3 L631.8 539.1 L631.7 540.6 L637.3 535.9 L630 536.4 L631.1 537.4 L630.5 537.6ZM649.7 540.3 L650.3 540 L650.2 541.5 L655.7 536.8 L648.4 537.3 L649.6 538.4 L649 538.6ZM668.1 541.3 L668.7 541 L668.7 542.6 L674.1 537.6 L666.8 538.4 L668 539.4 L667.4 539.6ZM686.6 542.4 L687.2 542.1 L687.2 543.6 L692.5 538.6 L685.2 539.5 L686.4 540.5 L685.8 540.8ZM78.2 559.9 L85.6 562.9 L84.3 564.2 L93.1 564.8 L86.4 559.1 L86.5 560.9 L79 557.9ZM96.6 558.8 L104.1 561.6 L102.9 562.9 L111.6 563.2 L104.8 557.7 L104.9 559.5 L97.3 556.8ZM115 557.8 L122.8 560 L121.6 561.4 L130.4 561 L123.1 556.1 L123.4 557.9 L115.6 555.7ZM133.5 556.9 L141.4 558.5 L140.3 560 L149.1 559 L141.5 554.6 L141.9 556.4 L133.9 554.7ZM151.9 556 L162.8 557.9 L161.7 559.4 L170.4 558.1 L162.7 554 L163.1 555.7 L152.3 553.8ZM170.3 555.2 L185.2 557.2 L184.3 558.8 L192.9 557.2 L185 553.3 L185.5 555.1 L170.6 553ZM188.7 554.4 L204 556.2 L203 557.7 L211.6 555.9 L203.6 552.3 L204.2 554 L189 552.2ZM207.1 553.7 L222.3 555.5 L221.4 557.1 L230 555.3 L222 551.6 L222.6 553.3 L207.4 551.6ZM225.5 553.1 L240.7 555 L239.7 556.6 L248.4 554.9 L240.4 551.1 L241 552.8 L225.7 550.9ZM243.9 552.6 L259 554.3 L258 555.9 L266.7 554.1 L258.7 550.4 L259.2 552.1 L244.1 550.4ZM262.3 552.1 L277.4 553 L276.5 554.6 L285 552.4 L276.8 549.1 L277.5 550.8 L262.4 549.9ZM280.7 551.7 L296.1 551.8 L295.3 553.5 L303.7 550.8 L295.3 548 L296.1 549.6 L280.8 549.5ZM299.2 551.4 L314.4 550.8 L313.7 552.5 L322 549.5 L313.5 547 L314.4 548.6 L299.1 549.2ZM317.6 551.1 L328.7 549.7 L328.2 551.4 L336.1 547.7 L327.5 546 L328.4 547.5 L317.4 548.9ZM336.1 550.8 L344 549 L343.6 550.8 L351.2 546.2 L342.4 545.4 L343.5 546.9 L335.6 548.7ZM354.6 550.7 L362.3 548.2 L362 550 L369.1 544.7 L360.3 544.7 L361.6 546.1 L353.9 548.6ZM373.1 550.6 L380.5 547.5 L380.4 549.3 L387.1 543.5 L378.3 544.2 L379.6 545.4 L372.2 548.6ZM391.5 550.6 L398.7 547 L398.8 548.8 L405.1 542.6 L396.3 543.9 L397.8 545 L390.5 548.6ZM409.9 550.6 L416.9 546.6 L417.1 548.4 L423 541.9 L414.4 543.6 L415.9 544.7 L408.9 548.7ZM428.4 550.7 L435.1 546.2 L435.4 548 L440.8 541 L432.3 543.4 L433.8 544.4 L427.2 548.9ZM446.8 550.9 L453.2 546 L453.6 547.8 L458.6 540.5 L450.3 543.4 L451.9 544.2 L445.5 549.1ZM465.2 551.1 L471.6 546.2 L472 548 L477 540.8 L468.7 543.7 L470.3 544.5 L463.9 549.4ZM483.5 551.5 L490.2 547 L490.5 548.8 L495.9 541.9 L487.4 544.3 L489 545.2 L482.3 549.7ZM501.8 552 L508.5 548.4 L508.6 550.2 L514.6 543.9 L506 545.4 L507.4 546.5 L500.8 550ZM520.1 552.5 L526.8 549.8 L526.7 551.6 L533.4 545.9 L524.6 546.5 L526 547.7 L519.3 550.5ZM538.4 553.1 L545.2 550.9 L545 552.7 L552.1 547.6 L543.3 547.5 L544.6 548.8 L537.7 551ZM556.7 553.7 L561.2 552.5 L560.9 554.3 L568.2 549.5 L559.4 549 L560.6 550.4 L556.1 551.6ZM575.1 554.3 L575.7 554.1 L575.4 555.7 L582 551.5 L574.2 551 L575.2 552.2 L574.6 552.4ZM593.4 555 L594.1 554.8 L593.8 556.3 L599.8 552.1 L592.5 551.9 L593.5 553 L592.9 553.2ZM611.8 555.8 L612.5 555.6 L612.3 557.1 L618.1 552.7 L610.9 552.7 L611.9 553.8 L611.3 554ZM630.3 556.7 L630.9 556.4 L630.7 557.9 L636.4 553.4 L629.2 553.7 L630.2 554.7 L629.6 554.9ZM648.7 557.6 L649.3 557.3 L649.2 558.9 L654.7 554.1 L647.4 554.7 L648.6 555.7 L648 555.9ZM667.1 558.6 L667.7 558.3 L667.7 559.8 L672.9 554.8 L665.7 555.7 L666.9 556.7 L666.3 557ZM685.5 559.7 L686.1 559.4 L686.1 560.9 L691.2 555.7 L684 556.9 L685.2 557.8 L684.7 558.1ZM79.3 577.2 L86.7 580.4 L85.3 581.6 L94.1 582.5 L87.5 576.6 L87.5 578.4 L80.2 575.2ZM97.6 576.1 L105.1 579.1 L103.8 580.4 L112.6 580.9 L105.8 575.2 L105.9 577.1 L98.4 574.1ZM116 575.1 L123.7 577.5 L122.5 578.9 L131.3 578.7 L124.1 573.6 L124.4 575.4 L116.7 573ZM134.4 574.2 L142.2 576.1 L141.1 577.5 L149.9 576.7 L142.4 572.1 L142.7 573.9 L134.9 572ZM152.7 573.3 L160.9 575 L159.8 576.4 L168.6 575.4 L160.9 571.1 L161.3 572.8 L153.2 571.2ZM171.1 572.5 L182.9 574.5 L181.9 576 L190.6 574.6 L182.8 570.5 L183.3 572.3 L171.4 570.3ZM189.4 571.8 L204 573.8 L203 575.3 L211.6 573.8 L203.7 569.9 L204.3 571.6 L189.7 569.6ZM207.7 571.1 L222.7 573.2 L221.7 574.7 L230.4 573.1 L222.5 569.2 L223 571 L208 568.9ZM226 570.5 L240.2 572.5 L239.2 574 L247.9 572.5 L240 568.6 L240.5 570.3 L226.4 568.3ZM244.4 569.9 L254.9 571.3 L254 572.9 L262.6 571.2 L254.7 567.4 L255.2 569.1 L244.7 567.7ZM262.7 569.4 L274.1 570.3 L273.2 571.9 L281.8 569.8 L273.6 566.4 L274.3 568.1 L262.9 567.3ZM281.1 569 L296.3 569.2 L295.5 570.9 L303.9 568.3 L295.6 565.4 L296.4 567 L281.1 566.8ZM299.5 568.7 L314.7 568.3 L314 569.9 L322.2 566.9 L313.8 564.4 L314.6 566.1 L299.4 566.5ZM317.9 568.4 L328.5 567.3 L327.9 569 L336 565.4 L327.4 563.5 L328.3 565.1 L317.6 566.2ZM336.3 568.2 L344.2 566.6 L343.8 568.4 L351.4 564.1 L342.7 563 L343.8 564.5 L335.8 566ZM354.7 568 L362.4 565.9 L362.1 567.6 L369.4 562.7 L360.6 562.4 L361.8 563.7 L354.1 565.9ZM373.1 567.9 L380.6 565.1 L380.5 566.9 L387.3 561.4 L378.5 561.8 L379.8 563 L372.3 565.9ZM391.4 567.9 L398.8 564.6 L398.8 566.4 L405.2 560.5 L396.5 561.4 L397.9 562.6 L390.5 565.9ZM409.8 568 L417 564.2 L417 566.1 L423.2 559.7 L414.5 561.2 L415.9 562.3 L408.8 566ZM428.2 568.1 L435.1 563.9 L435.3 565.7 L441 559 L432.4 561 L433.9 562 L427 566.2ZM446.5 568.2 L453.3 563.8 L453.5 565.6 L459 558.8 L450.5 561 L452.1 562 L445.3 566.4ZM464.8 568.5 L471.6 564.3 L471.9 566.1 L477.5 559.3 L468.9 561.4 L470.5 562.4 L463.6 566.7ZM483 568.9 L489 565.8 L489.1 567.6 L495.3 561.4 L486.6 562.8 L488 563.9 L482 567ZM501.2 569.4 L502.7 568.8 L502.6 570.6 L509.4 565 L500.6 565.5 L501.9 566.8 L500.4 567.3ZM519.4 569.8 L520.1 569.6 L519.9 571.3 L526.6 566.7 L518.5 566.4 L519.6 567.7 L518.9 567.8ZM537.7 570.4 L538.4 570.2 L538 571.9 L545.2 567.8 L536.9 566.8 L538 568.2 L537.3 568.3ZM555.9 570.9 L556.6 570.8 L556.2 572.3 L562.9 568.8 L555.4 567.6 L556.3 568.9 L555.6 569ZM574.2 571.6 L574.9 571.4 L574.5 572.9 L580.9 569.5 L573.7 568.4 L574.6 569.7 L573.9 569.8ZM592.6 572.3 L593.2 572.2 L592.9 573.6 L599.1 569.8 L591.9 569.2 L592.8 570.4 L592.2 570.5ZM611 573.1 L611.6 572.9 L611.4 574.4 L617.3 570.2 L610 570.1 L611 571.2 L610.4 571.4ZM629.3 574 L629.9 573.7 L629.8 575.2 L635.5 570.7 L628.2 571 L629.3 572 L628.7 572.3ZM647.7 574.9 L648.3 574.6 L648.3 576.1 L653.6 571.1 L646.4 572 L647.5 573 L646.9 573.2ZM666.1 575.9 L666.6 575.6 L666.7 577.1 L671.7 571.7 L664.5 573.1 L665.8 574 L665.2 574.3ZM684.4 577 L685 576.6 L685.1 578.1 L689.9 572.6 L682.8 574.2 L684 575.1 L683.5 575.4ZM80.4 594.5 L87.6 597.7 L86.3 598.9 L95 599.8 L88.5 593.9 L88.5 595.7 L81.3 592.5ZM98.7 593.4 L106 596.4 L104.7 597.7 L113.4 598.3 L106.8 592.6 L106.8 594.4 L99.5 591.4ZM117 592.4 L124.6 595 L123.4 596.3 L132.2 596.3 L125.1 591.1 L125.3 592.9 L117.7 590.3ZM135.3 591.5 L143.1 593.6 L141.9 595 L150.7 594.5 L143.3 589.7 L143.6 591.5 L135.8 589.4ZM153.6 590.6 L161.4 592.5 L160.3 593.9 L169 593.1 L161.5 588.5 L161.9 590.3 L154.1 588.5ZM171.8 589.8 L179.9 591.4 L178.9 592.9 L187.6 591.7 L179.9 587.5 L180.3 589.2 L172.3 587.7ZM190.1 589.1 L199.1 590.6 L198.1 592.1 L206.8 590.7 L199 586.6 L199.5 588.4 L190.5 586.9ZM208.4 588.4 L218.6 590.1 L217.6 591.6 L226.3 590.2 L218.5 586.2 L219 587.9 L208.7 586.2ZM226.6 587.8 L236.3 589.4 L235.3 590.9 L244 589.6 L236.2 585.5 L236.7 587.3 L227 585.6ZM244.9 587.3 L252.9 588.5 L251.9 590 L260.5 588.5 L252.7 584.6 L253.2 586.3 L245.2 585.1ZM263.2 586.8 L272.6 587.6 L271.6 589.2 L280.2 587.2 L272.1 583.7 L272.7 585.4 L263.4 584.6ZM281.5 586.4 L294.3 586.6 L293.5 588.3 L301.9 585.7 L293.6 582.8 L294.3 584.4 L281.5 584.2ZM299.8 586 L311.6 585.8 L310.8 587.5 L319.1 584.5 L310.7 582 L311.5 583.6 L299.7 583.8ZM318.1 585.8 L326.6 585 L326 586.7 L334.1 583.3 L325.5 581.3 L326.4 582.8 L317.9 583.6ZM336.4 585.6 L344.4 584.3 L343.9 586 L351.7 582 L343 580.6 L344 582.1 L336.1 583.4ZM354.7 585.4 L362.6 583.6 L362.2 585.4 L369.7 580.9 L361 580.1 L362.1 581.5 L354.2 583.3ZM373 585.3 L380.7 583 L380.5 584.8 L387.7 579.7 L378.9 579.5 L380.1 580.9 L372.4 583.2ZM391.3 585.3 L398.9 582.5 L398.7 584.3 L405.6 578.8 L396.8 579.1 L398.1 580.4 L390.6 583.2ZM409.6 585.3 L417 582.2 L417 584 L423.6 578.2 L414.8 579 L416.2 580.2 L408.8 583.3ZM427.9 585.5 L435.2 582.1 L435.2 583.9 L441.6 577.8 L432.8 578.9 L434.2 580.1 L427 583.5ZM446.2 585.7 L453.1 582.3 L453.2 584.1 L459.5 578 L450.8 579.2 L452.2 580.3 L445.2 583.7ZM464.4 586 L470.1 583.5 L470.1 585.3 L476.7 579.5 L467.9 580.2 L469.3 581.5 L463.5 583.9ZM482.5 586.3 L484.1 585.8 L483.9 587.6 L491 582.4 L482.2 582.4 L483.4 583.7 L481.8 584.2ZM500.6 586.6 L501.2 586.4 L500.9 587.9 L507.2 584.1 L499.9 583.5 L500.8 584.6 L500.2 584.8ZM518.8 587.1 L519.4 587 L519 588.4 L525.5 585 L518.3 583.9 L519.1 585.2 L518.5 585.3ZM537 587.6 L537.6 587.5 L537.2 589 L543.8 585.9 L536.6 584.4 L537.4 585.7 L536.8 585.8ZM555.2 588.2 L555.9 588.2 L555.3 589.6 L562 586.7 L554.9 585.1 L555.7 586.4 L555.1 586.4ZM573.5 588.9 L574.1 588.8 L573.6 590.3 L580.2 587.2 L573.1 585.7 L573.9 587 L573.3 587.1ZM591.8 589.6 L592.4 589.5 L592.1 591 L598.4 587.4 L591.2 586.5 L592.1 587.7 L591.4 587.8ZM610.1 590.4 L610.7 590.2 L610.5 591.7 L616.5 587.5 L609.2 587.4 L610.2 588.5 L609.6 588.7ZM628.5 591.3 L629 591 L629 592.5 L634.5 587.8 L627.2 588.3 L628.3 589.3 L627.8 589.6ZM646.8 592.2 L647.3 591.9 L647.4 593.4 L652.4 588.1 L645.3 589.4 L646.5 590.3 L645.9 590.6ZM665.1 593.2 L665.6 592.8 L665.8 594.3 L670.4 588.6 L663.4 590.5 L664.6 591.3 L664.1 591.6ZM683.4 594.2 L683.9 593.9 L684.1 595.3 L688.5 589.5 L681.5 591.6 L682.8 592.4 L682.3 592.7ZM81.5 611.8 L85.3 613.4 L84 614.6 L92.8 615.3 L86.1 609.6 L86.2 611.4 L82.4 609.8ZM99.7 610.7 L104.3 612.6 L103 613.8 L111.8 614.3 L105 608.7 L105.2 610.5 L100.5 608.7ZM118 609.7 L125.6 612.3 L124.3 613.6 L133.1 613.6 L126 608.4 L126.3 610.2 L118.6 607.7ZM136.2 608.8 L143.9 611 L142.7 612.4 L151.5 612 L144.2 607.1 L144.5 608.9 L136.8 606.7ZM154.4 607.9 L162.2 609.9 L161 611.3 L169.8 610.7 L162.4 606 L162.7 607.8 L154.9 605.8ZM172.6 607.1 L180.5 608.8 L179.4 610.2 L188.1 609.3 L180.5 604.9 L180.9 606.6 L173 605ZM190.8 606.4 L198.7 607.9 L197.7 609.3 L206.4 608.1 L198.7 603.9 L199.1 605.7 L191.2 604.2ZM209 605.7 L216.9 607.2 L215.8 608.7 L224.6 607.5 L216.9 603.3 L217.3 605.1 L209.4 603.6ZM227.1 605.1 L235.1 606.7 L234 608.2 L242.7 607.1 L235.1 602.8 L235.5 604.5 L227.6 603ZM245.3 604.6 L253.3 606 L252.2 607.5 L260.9 606.3 L253.2 602.1 L253.7 603.9 L245.7 602.4ZM263.6 604.1 L271.6 605 L270.7 606.5 L279.3 604.7 L271.3 601.1 L271.9 602.8 L263.8 601.9ZM281.8 603.7 L290 604 L289.2 605.6 L297.6 603.1 L289.4 600.1 L290.1 601.8 L281.9 601.5ZM300.1 603.4 L308.2 603.3 L307.4 605 L315.8 602.2 L307.4 599.5 L308.2 601.1 L300 601.2ZM318.3 603.1 L326.3 602.6 L325.7 604.3 L333.8 601 L325.3 598.8 L326.2 600.4 L318.2 600.9ZM336.5 602.9 L344.5 601.9 L344 603.7 L351.9 599.9 L343.3 598.2 L344.3 599.7 L336.3 600.7ZM354.8 602.8 L362.7 601.4 L362.2 603.2 L370 599.1 L361.3 597.8 L362.3 599.3 L354.4 600.6ZM373 602.7 L380.9 600.9 L380.5 602.7 L388 598.2 L379.3 597.3 L380.4 598.8 L372.5 600.5ZM391.2 602.7 L398.9 600.6 L398.5 602.4 L405.9 597.6 L397.1 597.1 L398.3 598.5 L390.6 600.6ZM409.4 602.7 L415.2 601.1 L414.9 602.9 L422.2 597.9 L413.4 597.6 L414.6 599 L408.8 600.6ZM427.6 602.9 L431.1 601.9 L430.8 603.7 L438.1 598.7 L429.3 598.4 L430.5 599.7 L427 600.8ZM445.7 603.1 L447.6 602.6 L447.3 604.4 L454.6 599.6 L445.9 599.1 L447 600.5 L445.2 601ZM463.8 603.3 L464.5 603.1 L464.2 604.7 L471.1 600.7 L463.1 599.8 L464.1 601.2 L463.4 601.3ZM481.9 603.5 L482.6 603.4 L482.1 604.9 L488.7 601.6 L481.5 600.4 L482.3 601.6 L481.7 601.7ZM500.1 603.9 L500.7 603.9 L500.2 605.3 L506.9 602.3 L499.7 600.8 L500.5 602.1 L499.9 602.1ZM518.2 604.4 L518.9 604.4 L518.3 605.8 L525 603 L518 601.2 L518.7 602.5 L518.1 602.6ZM536.4 605 L537 604.9 L536.4 606.3 L543.2 603.7 L536.2 601.8 L536.9 603.1 L536.3 603.1ZM554.6 605.6 L555.2 605.5 L554.6 606.9 L561.4 604.3 L554.4 602.4 L555.1 603.7 L554.4 603.7ZM572.8 606.2 L573.4 606.2 L572.9 607.6 L579.6 604.7 L572.5 603.1 L573.2 604.4 L572.6 604.4ZM591 607 L591.7 606.8 L591.3 608.3 L597.6 604.7 L590.4 603.8 L591.3 605 L590.7 605.2ZM609.3 607.7 L609.9 607.5 L609.8 609 L615.6 604.6 L608.3 604.7 L609.3 605.8 L608.7 606ZM627.6 608.6 L628.2 608.3 L628.2 609.8 L633.4 604.8 L626.2 605.7 L627.4 606.7 L626.8 606.9ZM645.9 609.5 L646.4 609.1 L646.6 610.6 L651.2 605 L644.2 606.8 L645.4 607.6 L644.9 607.9ZM664.1 610.4 L664.6 610.1 L664.9 611.5 L669.1 605.6 L662.2 607.9 L663.5 608.6 L663 609ZM682.3 611.5 L682.8 611.1 L683.2 612.6 L687.1 606.5 L680.3 609 L681.7 609.7 L681.2 610.1ZM82.7 629 L83.4 629.2 L82.2 630.3 L89.9 630.6 L83.9 625.8 L84 627.4 L83.4 627.2ZM100.8 628.1 L101.6 628.3 L100.3 629.6 L109.1 629.8 L102.1 624.4 L102.3 626.2 L101.5 626ZM118.9 627.1 L124.4 628.7 L123.1 630.1 L131.9 629.9 L124.8 624.8 L125 626.6 L119.6 625ZM137.1 626.1 L144.8 628.2 L143.6 629.6 L152.4 629.2 L145.1 624.3 L145.4 626.1 L137.7 624ZM155.2 625.3 L163 627.2 L161.9 628.6 L170.7 628 L163.2 623.3 L163.6 625.1 L155.8 623.1ZM173.4 624.5 L181.3 626.1 L180.2 627.6 L188.9 626.5 L181.3 622.2 L181.7 623.9 L173.8 622.3ZM191.5 623.7 L199.4 625.2 L198.4 626.7 L207.1 625.5 L199.4 621.3 L199.8 623.1 L191.9 621.6ZM209.6 623.1 L217.5 624.7 L216.4 626.2 L225.1 625.2 L217.5 620.8 L217.9 622.5 L210 620.9ZM227.7 622.5 L235.5 624.3 L234.4 625.7 L243.2 624.9 L235.6 620.3 L236 622.1 L228.2 620.3ZM245.8 621.9 L253.7 623.6 L252.6 625.1 L261.3 624.2 L253.7 619.7 L254.1 621.5 L246.3 619.8ZM264 621.5 L272 622.5 L271 624 L279.7 622.4 L271.7 618.6 L272.3 620.3 L264.3 619.3ZM282.2 621.1 L290.2 621.5 L289.4 623.1 L297.9 620.7 L289.7 617.6 L290.4 619.3 L282.3 618.9ZM300.3 620.7 L308.4 620.8 L307.6 622.5 L316 619.8 L307.7 617 L308.4 618.6 L300.4 618.5ZM318.5 620.5 L326.6 620.1 L325.9 621.8 L334.1 618.7 L325.6 616.3 L326.5 617.9 L318.4 618.3ZM336.7 620.3 L344.7 619.5 L344.1 621.2 L352.2 617.8 L343.6 615.8 L344.5 617.3 L336.5 618.1ZM354.8 620.1 L362.8 619.2 L362.2 620.9 L370.2 617.2 L361.6 615.4 L362.6 617 L354.5 617.9ZM373 620.1 L380.9 618.8 L380.4 620.6 L388.3 616.6 L379.6 615.1 L380.6 616.6 L372.6 617.9ZM391.1 620 L398 618.8 L397.5 620.6 L405.3 616.4 L396.6 615.2 L397.6 616.7 L390.7 617.9ZM409.2 620.1 L409.9 619.9 L409.4 621.6 L416.8 617.8 L408.6 616.5 L409.6 617.9 L408.8 618ZM427.2 620.1 L427.9 620 L427.4 621.4 L434.1 618.3 L426.8 616.9 L427.6 618.2 L427 618.3ZM445.3 620.3 L445.9 620.2 L445.4 621.6 L452.1 618.8 L445 617.1 L445.8 618.4 L445.1 618.5ZM463.4 620.5 L464 620.5 L463.4 621.9 L470.2 619.3 L463.2 617.4 L463.9 618.7 L463.3 618.7ZM481.5 620.9 L482.1 620.9 L481.5 622.2 L488.4 619.8 L481.4 617.7 L482.1 619 L481.4 619.1ZM499.6 621.3 L500.2 621.3 L499.6 622.6 L506.5 620.2 L499.5 618.1 L500.2 619.4 L499.5 619.5ZM517.7 621.8 L518.3 621.7 L517.7 623.1 L524.6 620.7 L517.6 618.6 L518.3 619.9 L517.6 619.9ZM535.8 622.3 L536.4 622.3 L535.8 623.7 L542.7 621.1 L535.7 619.1 L536.4 620.4 L535.7 620.5ZM553.9 622.9 L554.6 622.9 L554 624.3 L560.8 621.5 L553.7 619.7 L554.4 621 L553.8 621.1ZM572.1 623.6 L572.7 623.5 L572.2 624.9 L578.8 621.9 L571.7 620.4 L572.5 621.7 L571.9 621.8ZM590.3 624.3 L590.9 624.1 L590.6 625.6 L596.8 621.9 L589.6 621.2 L590.5 622.4 L589.9 622.5ZM608.5 625 L609.1 624.8 L609 626.3 L614.6 621.7 L607.4 622.1 L608.5 623.1 L607.9 623.4ZM626.7 625.9 L627.3 625.6 L627.4 627.1 L632.4 621.7 L625.2 623.1 L626.4 624 L625.9 624.3ZM644.9 626.8 L645.5 626.4 L645.7 627.9 L650.1 622 L643.1 624.2 L644.4 624.9 L643.9 625.3ZM663.1 627.7 L663.6 627.3 L664 628.8 L667.9 622.5 L661 625.2 L662.4 625.9 L661.9 626.3ZM681.2 628.8 L681.7 628.3 L682.2 629.8 L685.8 623.4 L679.1 626.4 L680.5 627 L680 627.4ZM83.9 646.3 L84.5 646.5 L83.5 647.6 L90.7 647.5 L84.8 643.2 L85 644.7 L84.4 644.5ZM101.9 645.2 L102.5 645.4 L101.5 646.5 L108.8 646.4 L102.9 642.1 L103.1 643.6 L102.5 643.5ZM120 644.3 L120.7 644.5 L119.5 645.8 L127.9 645.4 L120.9 640.8 L121.2 642.5 L120.5 642.3ZM138 643.5 L144.1 645 L142.9 646.4 L151.7 645.8 L144.3 641.1 L144.6 642.9 L138.5 641.3ZM156.1 642.6 L163.7 644.3 L162.6 645.8 L171.3 645 L163.8 640.4 L164.2 642.2 L156.6 640.4ZM174.2 641.8 L181.9 643.3 L180.8 644.8 L189.6 643.6 L181.9 639.4 L182.3 641.1 L174.6 639.6ZM192.2 641.1 L200 642.5 L198.9 644 L207.6 642.8 L199.9 638.6 L200.4 640.3 L192.6 638.9ZM210.2 640.4 L218 642.1 L216.9 643.6 L225.7 642.7 L218.1 638.2 L218.5 640 L210.7 638.2ZM228.2 639.8 L236 641.8 L234.8 643.2 L243.6 642.7 L236.2 637.9 L236.6 639.7 L228.8 637.7ZM246.3 639.2 L254.1 641.2 L252.9 642.7 L261.7 642.1 L254.3 637.3 L254.6 639.1 L246.8 637.1ZM264.4 638.8 L272.4 640 L271.4 641.5 L280 640.1 L272.2 636.1 L272.7 637.9 L264.7 636.6ZM282.5 638.4 L290.6 638.9 L289.7 640.5 L298.2 638.3 L290.1 635 L290.7 636.7 L282.7 636.2ZM300.6 638.1 L308.7 638.3 L307.9 639.9 L316.3 637.4 L308 634.4 L308.7 636.1 L300.7 635.9ZM318.7 637.8 L326.8 637.6 L326 639.3 L334.3 636.4 L325.9 633.8 L326.7 635.4 L318.7 635.6ZM336.8 637.6 L344.9 637.1 L344.2 638.8 L352.4 635.5 L343.8 633.3 L344.7 634.9 L336.7 635.4ZM354.9 637.5 L362.9 636.8 L362.3 638.5 L370.4 635.1 L361.8 633.1 L362.7 634.6 L354.7 635.3ZM372.9 637.4 L381 636.6 L380.3 638.3 L388.4 634.8 L379.8 632.9 L380.7 634.4 L372.7 635.2ZM391 637.4 L398.6 636.6 L398 638.4 L406 634.8 L397.4 632.9 L398.4 634.5 L390.8 635.2ZM409 637.5 L410.7 637.4 L410 639.1 L418.2 635.8 L409.7 633.6 L410.5 635.2 L408.8 635.3ZM427 637.6 L428 637.6 L427.2 639.3 L435.5 636.5 L427.2 633.8 L428 635.4 L426.9 635.4ZM444.9 637.8 L446.8 637.9 L446 639.5 L454.4 637.1 L446.2 634 L446.9 635.7 L445 635.6ZM463 638.1 L464.6 638.2 L463.8 639.8 L472.3 637.6 L464.1 634.3 L464.8 636 L463.1 635.9ZM481 638.3 L481.7 638.3 L480.9 639.7 L488.3 637.7 L481.2 634.9 L481.8 636.4 L481.1 636.4ZM499.1 638.6 L499.7 638.6 L499.1 640 L506 637.9 L499.2 635.4 L499.8 636.8 L499.1 636.8ZM517.2 639.1 L517.8 639.1 L517.2 640.5 L524.1 638.1 L517.1 635.9 L517.8 637.3 L517.2 637.3ZM535.2 639.6 L535.9 639.6 L535.3 641 L542.1 638.4 L535.1 636.4 L535.8 637.8 L535.2 637.8ZM553.3 640.2 L554 640.2 L553.4 641.6 L560.1 638.7 L553 637.1 L553.8 638.4 L553.2 638.4ZM571.4 640.9 L572.1 640.8 L571.6 642.2 L578.1 639 L570.9 637.7 L571.8 639 L571.2 639.1ZM589.6 641.6 L590.2 641.4 L589.9 642.9 L596 639 L588.8 638.5 L589.7 639.7 L589.1 639.8ZM607.7 642.4 L608.3 642.1 L608.3 643.6 L613.7 638.7 L606.5 639.4 L607.6 640.4 L607 640.7ZM625.9 643.2 L626.5 642.9 L626.7 644.4 L631.6 638.6 L624.2 640.4 L625.5 641.2 L624.9 641.6ZM644 644.1 L644.5 643.7 L644.9 645.2 L649.1 639 L642 641.5 L643.4 642.2 L642.9 642.6ZM662.2 645.1 L663.9 643.6 L664.4 645.4 L668.8 637.8 L660.8 641.3 L662.5 642 L660.8 643.5ZM680.3 646.2 L681.5 645 L682.1 646.8 L686.2 639 L678.2 642.8 L679.9 643.5 L678.8 644.6ZM85 663.6 L85.6 663.7 L84.6 664.9 L91.9 664.6 L85.9 660.5 L86.1 662 L85.5 661.8ZM103 662.5 L103.6 662.7 L102.6 663.8 L109.9 663.5 L103.8 659.4 L104.1 660.9 L103.4 660.8ZM121 661.5 L121.6 661.7 L120.6 662.8 L127.9 662.3 L121.7 658.4 L122 659.9 L121.4 659.8ZM138.9 660.7 L139.6 660.9 L138.6 662.2 L146.7 661.4 L139.7 657.2 L140.1 658.9 L139.4 658.7ZM156.9 659.9 L158.9 660.3 L157.8 661.8 L166.6 660.8 L159 656.4 L159.4 658.2 L157.4 657.8ZM174.9 659.1 L177.2 659.5 L176.1 661 L184.8 659.7 L177.1 655.6 L177.5 657.4 L175.3 657ZM192.9 658.4 L195.5 658.9 L194.5 660.4 L203.2 659.1 L195.5 654.9 L195.9 656.7 L193.3 656.2ZM210.8 657.7 L216.9 659.1 L215.8 660.6 L224.5 659.8 L217 655.2 L217.4 657 L211.3 655.6ZM228.7 657.1 L236.5 659.4 L235.2 660.7 L244 660.5 L236.8 655.5 L237.1 657.3 L229.4 655ZM246.7 656.6 L254.5 658.8 L253.3 660.2 L262.1 659.8 L254.8 654.9 L255.1 656.7 L247.3 654.5ZM264.8 656.1 L272.8 657.5 L271.7 659 L280.4 657.7 L272.7 653.6 L273.1 655.4 L265.2 654ZM282.9 655.8 L290.9 656.4 L290 658 L298.6 655.9 L290.5 652.5 L291.1 654.2 L283.1 653.6ZM300.9 655.4 L309 655.7 L308.1 657.4 L316.6 654.9 L308.3 651.9 L309 653.5 L301 653.2ZM318.9 655.2 L327 655.1 L326.2 656.8 L334.6 654 L326.2 651.3 L327 652.9 L318.9 653ZM336.9 655 L345 654.7 L344.3 656.3 L352.5 653.3 L344.1 650.8 L344.9 652.5 L336.9 652.8ZM354.9 654.8 L363 654.4 L362.3 656.1 L370.5 653 L362 650.6 L362.9 652.2 L354.8 652.6ZM372.9 654.8 L381 654.3 L380.3 656 L388.5 652.8 L380 650.5 L380.8 652.1 L372.8 652.6ZM390.9 654.8 L398.9 654.4 L398.2 656.1 L406.5 652.9 L398 650.6 L398.8 652.2 L390.8 652.6ZM408.8 654.8 L416.3 654.8 L415.6 656.5 L423.9 653.7 L415.5 651 L416.3 652.6 L408.8 652.6ZM426.7 655 L434 655.4 L433.1 657 L441.6 654.7 L433.5 651.5 L434.1 653.2 L426.9 652.8ZM444.7 655.2 L449.9 655.7 L449 657.2 L457.6 655.3 L449.5 651.8 L450.1 653.5 L444.9 653ZM462.6 655.4 L465.8 655.8 L464.8 657.3 L473.4 655.5 L465.4 651.9 L466 653.6 L462.9 653.2ZM480.6 655.6 L481.3 655.7 L480.5 657.1 L488 655.3 L480.9 652.3 L481.5 653.8 L480.8 653.7ZM498.7 656 L499.3 656 L498.6 657.3 L505.6 655.3 L498.8 652.8 L499.4 654.2 L498.7 654.1ZM516.7 656.4 L517.3 656.4 L516.7 657.8 L523.6 655.5 L516.7 653.2 L517.3 654.6 L516.7 654.6ZM534.7 657 L535.3 656.9 L534.8 658.3 L541.6 655.7 L534.5 653.8 L535.2 655.1 L534.6 655.1ZM552.7 657.6 L553.4 657.5 L552.9 658.9 L559.5 655.9 L552.4 654.4 L553.2 655.7 L552.5 655.7ZM570.8 658.2 L571.4 658.1 L571 659.6 L577.4 656.1 L570.2 655.1 L571.1 656.3 L570.4 656.4ZM588.8 658.9 L589.5 658.7 L589.2 660.2 L595.3 656.1 L587.9 655.8 L588.9 657 L588.3 657.2ZM607 659.8 L608 659.4 L608 661.2 L614.4 655.1 L605.6 656.2 L607 657.4 L606.1 657.9ZM625.1 660.6 L628.4 658.5 L628.7 660.3 L634.1 653.4 L625.6 655.7 L627.2 656.6 L623.9 658.8ZM643.2 661.5 L645.1 660 L645.5 661.8 L650.3 654.4 L642.1 657.5 L643.7 658.3 L641.8 659.8ZM661.2 662.4 L666.5 657.5 L667 659.3 L671.3 651.5 L663.3 655.2 L665 655.9 L659.7 660.8ZM679.3 663.5 L684.7 657.9 L685.4 659.6 L689.2 651.7 L681.4 655.7 L683.1 656.3 L677.7 661.9ZM86.1 680.9 L86.7 681 L85.7 682.2 L93 681.8 L86.9 677.8 L87.2 679.3 L86.5 679.1ZM104 679.8 L104.6 680 L103.6 681.1 L110.9 680.7 L104.8 676.7 L105.1 678.2 L104.4 678.1ZM121.9 678.8 L122.5 679 L121.6 680.2 L128.9 679.5 L122.6 675.7 L123 677.2 L122.3 677.1ZM139.8 677.9 L140.5 678 L139.6 679.3 L146.8 678.5 L140.5 674.8 L140.8 676.3 L140.2 676.1ZM157.8 677.1 L158.4 677.2 L157.5 678.4 L164.8 677.5 L158.4 673.9 L158.7 675.4 L158.1 675.3ZM175.7 676.3 L176.3 676.4 L175.5 677.6 L182.7 676.5 L176.2 673.1 L176.6 674.6 L176 674.5ZM193.6 675.7 L194.3 675.8 L193.3 677.3 L201.7 676 L194.2 672 L194.7 673.7 L194 673.6ZM211.4 675.1 L218.3 676.7 L217.1 678.1 L225.9 677.4 L218.4 672.8 L218.8 674.6 L211.9 672.9ZM229.3 674.4 L237 676.8 L235.7 678.2 L244.5 678.1 L237.4 672.9 L237.6 674.7 L229.9 672.3ZM247.2 673.9 L254.9 676.3 L253.7 677.6 L262.5 677.5 L255.3 672.4 L255.5 674.2 L247.8 671.8ZM265.2 673.5 L273.1 674.9 L272.1 676.4 L280.8 675.3 L273.1 671 L273.5 672.8 L265.6 671.3ZM283.2 673.1 L291.3 673.8 L290.4 675.3 L298.9 673.3 L290.8 669.9 L291.5 671.6 L283.4 670.9ZM301.2 672.8 L309.2 673.1 L308.4 674.8 L316.9 672.4 L308.7 669.3 L309.3 670.9 L301.3 670.6ZM319.1 672.5 L327.2 672.6 L326.4 674.2 L334.8 671.6 L326.5 668.7 L327.2 670.4 L319.2 670.3ZM337.1 672.3 L345.2 672.1 L344.4 673.8 L352.7 670.9 L344.3 668.3 L345.1 669.9 L337 670.1ZM355 672.2 L363.1 672 L362.3 673.6 L370.6 670.7 L362.2 668.1 L363 669.8 L355 670ZM372.9 672.1 L381 671.9 L380.3 673.6 L388.5 670.6 L380.1 668.1 L380.9 669.7 L372.9 669.9ZM390.8 672.1 L398.9 672 L398.1 673.6 L406.5 670.8 L398.1 668.1 L398.9 669.8 L390.8 669.9ZM408.7 672.2 L416.3 672.4 L415.5 674.1 L424 671.6 L415.7 668.6 L416.4 670.2 L408.8 670ZM426.5 672.3 L431.8 672.8 L430.9 674.4 L439.5 672.4 L431.4 668.9 L432 670.6 L426.7 670.1ZM444.4 672.5 L446.3 672.7 L445.4 674.3 L454 672.5 L446 668.8 L446.6 670.5 L444.7 670.3ZM462.3 672.6 L463 672.7 L462.2 674 L469.4 672.5 L462.7 669.4 L463.2 670.8 L462.6 670.8ZM480.3 672.9 L480.9 673 L480.1 674.3 L487.3 672.7 L480.6 669.7 L481.1 671.2 L480.5 671.1ZM498.2 673.3 L498.9 673.3 L498.2 674.7 L505.2 672.6 L498.4 670.1 L498.9 671.5 L498.3 671.5ZM516.2 673.8 L516.8 673.8 L516.2 675.1 L523.1 672.8 L516.2 670.6 L516.8 671.9 L516.2 671.9ZM534.2 674.3 L534.8 674.3 L534.2 675.7 L541 673 L534 671.1 L534.7 672.4 L534.1 672.5ZM552.1 674.9 L552.8 674.8 L552.3 676.2 L558.9 673.1 L551.7 671.7 L552.5 673 L551.9 673.1ZM570.1 675.5 L570.7 675.4 L570.4 676.9 L576.7 673.2 L569.5 672.4 L570.4 673.6 L569.7 673.8ZM588.1 676.3 L588.8 676.1 L588.6 677.7 L594.9 673.2 L587.1 673 L588.2 674.2 L587.5 674.4ZM606.2 677.1 L611.4 674.6 L611.4 676.4 L617.7 670.2 L609 671.5 L610.4 672.6 L605.3 675.2ZM624.3 677.9 L629.7 674.2 L630 676 L635.4 669 L626.9 671.4 L628.5 672.4 L623 676.1ZM642.3 678.8 L647.7 674.3 L648.2 676 L652.8 668.6 L644.6 671.8 L646.3 672.6 L640.9 677.1ZM660.3 679.7 L666 674.1 L666.6 675.9 L670.7 668.1 L662.8 671.9 L664.5 672.6 L658.7 678.2ZM678.2 680.8 L683.7 674.9 L684.4 676.6 L688.1 668.6 L680.4 672.8 L682.1 673.4 L676.6 679.2Z"/>
<g fill="none" stroke="#000" stroke-width="1.1" stroke-linejoin="round" stroke-linecap="round"><path d="M294.3 370.1 L296.5 373.3 L298.6 377.6 L302.9 381.9 L307.2 385.1 L315.9 386.2 L322.3 384.1 L326.6 380.8 L333.1 379.8 L341.7 379.8 L350 378.9 L355.7 380.4 L364.4 381.1 L371.6 380.4 L378.7 378.2 L385.9 375.3 L393.1 368.9 L404.6 360.2 L413.2 350.2 L421.9 341.6 L430.5 335.8 L439.1 328.6 L447.7 324.3 L449.5 323.7 L453.8 319.4 L456 312.9 L458.1 311.9 L459.2 315.1 L458.1 321.6 L457.1 328 L462.5 328 L465.7 330.2 L466.4 336 L466.4 343 L465 351.6 L460.7 355.9 L456.4 357.4 L453.5 354.5"/><path d="M294.3 370.1 L331 422.9 L376.2 428.3 L421.5 433.6 L423.7 425 L425.8 414.2 L432.3 403.5 L436.2 389 L442 386.1 L447.7 384.7 L453.5 381.8 L452 377.5 L447.7 374.6 L445.6 368.9 L444.9 363.1 L443.4 358.8"/><path d="M413.2 353 L419 357.4 L424.7 361.7 L436.2 362.4 L443.4 358.8 L444.9 354.5 L443.4 348.7 L442 341.6 L439.1 337.2 L436.2 334.4"/><path d="M443.4 358.8 L453.5 354.5"/><path d="M450.6 325.7 L453.5 328.6 L454.9 338.7 L459.2 340.1 L463.5 338.7"/><path d="M454.9 338.7 L455 346 L458 351"/><path stroke-width="4.6" d="M384 375.5 L389 372 L395 368 L401 363.5 L406 359.5 L410 356"/><path stroke-width="4.6" d="M382.5 377 L388 374.5"/><path stroke-width="4.6" d="M393 369.5 L400 365.5"/></g>
<g fill="#000"><circle cx="301" cy="372" r="0.9"/><circle cx="305" cy="374" r="0.8"/><circle cx="310" cy="376" r="0.8"/><circle cx="332" cy="376" r="0.9"/><circle cx="337" cy="377" r="0.8"/><circle cx="342" cy="377.5" r="0.8"/><circle cx="351" cy="378" r="1"/><circle cx="356" cy="378.5" r="0.9"/><circle cx="362" cy="378.5" r="0.9"/><circle cx="367" cy="378" r="0.9"/><circle cx="373" cy="377.5" r="1"/><circle cx="378" cy="376" r="1"/><circle cx="376" cy="368" r="0.9"/><circle cx="370" cy="362" r="0.8"/><circle cx="350" cy="368" r="0.9"/><circle cx="343" cy="363" r="0.8"/><circle cx="419.3" cy="318.3" r="1.2"/><circle cx="389.2" cy="341" r="1"/><circle cx="428" cy="304.3" r="0.9"/><circle cx="422.6" cy="304.3" r="0.9"/><circle cx="340.7" cy="344.2" r="0.9"/><circle cx="324.5" cy="351.7" r="0.9"/><circle cx="348.2" cy="353.9" r="0.9"/><circle cx="329.9" cy="357.1" r="0.9"/><circle cx="299.7" cy="364.7" r="1"/><circle cx="320.2" cy="366.8" r="0.9"/><circle cx="356.8" cy="364.7" r="0.9"/><circle cx="359" cy="369" r="0.9"/><circle cx="333.1" cy="373.3" r="1.2"/><circle cx="336" cy="376" r="0.8"/><circle cx="345" cy="377" r="0.8"/><circle cx="362" cy="377" r="0.8"/><circle cx="370" cy="376" r="1"/><circle cx="376" cy="377" r="1"/><circle cx="388.8" cy="340.8" r="1"/><circle cx="423.3" cy="341.6" r="1.1"/><circle cx="429" cy="341.6" r="0.9"/><circle cx="357.5" cy="365.5" r="1"/><circle cx="358.2" cy="368.5" r="1"/><circle cx="322.9" cy="139.8" r="1"/><circle cx="417" cy="346" r="1.2"/><circle cx="410" cy="352" r="1.4"/></g>
<g id="logo">
<circle cx="706.6" cy="651.8" r="30" fill="#fff" fill-opacity="0.92"/>
<clipPath id="lc"><circle cx="706.6" cy="651.8" r="23.8"/></clipPath>
<g clip-path="url(#lc)">
<rect x="680" y="626" width="54" height="54" fill="#1a4c8a"/>
<path d="M682 633 Q690 630 697 632 Q704 634 710 631 Q717 628 724 632 Q729 634 732 633 L732 626 L682 626Z" fill="#2a63a8"/>
<path d="M686 633 Q694 630 700 632 Q707 634 713 631 Q719 629 727 633" stroke="#8ab8e6" stroke-width="0.7" fill="none"/>
<path d="M680 662 Q688 655 697 655 Q707 655 714 660 L734 668 L734 690 L680 690Z" fill="#2f73bb"/>
<path d="M682 660 Q690 654 700 654" stroke="#fff" stroke-width="1.2" fill="none"/>
<path d="M680 668 Q692 662 703 663 Q713 664 721 670 L734 676 L734 690 L680 690Z" fill="#5d9fdc"/>
<path d="M684 669 Q695 663 705 664 Q715 666 723 672" stroke="#eaf5ff" stroke-width="1" fill="none"/>
<path d="M680 674 Q694 670 706 672 Q716 674 728 680 L728 690 L680 690Z" fill="#8cc3ee"/>
<path d="M718 668 L720 660 L722 655 L725 651 L728 649 L731 650 L729 654 L727 660 L726 668Z" fill="#eef6fc"/>
<path d="M726 649 L729 645 M727 649 L732 647 M727 649 L724 645" stroke="#eef6fc" stroke-width="0.8"/>
<path d="M689 643 L690 639 L691 646 L692 637 L693 647 L694 638 L695 646 L696 640 L697 643" stroke="#a9cff2" stroke-width="0.8" fill="none"/>
<path d="M697 643 L716 643" stroke="#5d90c8" stroke-width="0.5"/>
</g>
<circle cx="706.6" cy="651.8" r="24.2" fill="none" stroke="#cfe2f4" stroke-width="0.8"/>
<path id="ringp" d="M 687.7 670.6 A 26.6 26.6 0 1 1 725.5 670.6" fill="none"/>
<text style="font-size:5.4px;font-weight:bold;fill:#3f7cc2"><textPath href="#ringp" textLength="120" lengthAdjust="spacingAndGlyphs">Regional Integrated Multi-Hazard Early Warning System</textPath></text>
<text x="707.2" y="685.6" text-anchor="middle" style="font-size:9.3px;font-weight:bold;fill:#1f3f76">RIMES</text>
</g>

<rect x="10.5" y="77.5" width="743" height="624.5" fill="none" stroke="#000" stroke-width="1"/>
<rect x="771.5" y="592.3" width="27" height="67.7" fill="#4040a2"/><rect x="771.5" y="524.9" width="27" height="67.7" fill="#4294ff"/><rect x="771.5" y="457.4" width="27" height="67.7" fill="#18ddc2"/><rect x="771.5" y="390" width="27" height="67.7" fill="#6dfe62"/><rect x="771.5" y="322.6" width="27" height="67.7" fill="#cdec34"/><rect x="771.5" y="255.1" width="27" height="67.7" fill="#fdac34"/><rect x="771.5" y="187.7" width="27" height="67.7" fill="#eb500e"/><rect x="771.5" y="120.3" width="27" height="67.7" fill="#a91601"/><rect x="771.5" y="120.3" width="27" height="539.4" fill="none" stroke="#000" stroke-width="0.9"/><line x1="798.5" y1="659.7" x2="803.4" y2="659.7" stroke="#000" stroke-width="0.9"/><text x="807.5" y="664.7" class="tk">0</text><line x1="798.5" y1="592.3" x2="803.4" y2="592.3" stroke="#000" stroke-width="0.9"/><text x="807.5" y="597.3" class="tk">5</text><line x1="798.5" y1="524.9" x2="803.4" y2="524.9" stroke="#000" stroke-width="0.9"/><text x="807.5" y="529.9" class="tk">10</text><line x1="798.5" y1="457.4" x2="803.4" y2="457.4" stroke="#000" stroke-width="0.9"/><text x="807.5" y="462.4" class="tk">15</text><line x1="798.5" y1="390" x2="803.4" y2="390" stroke="#000" stroke-width="0.9"/><text x="807.5" y="395" class="tk">20</text><line x1="798.5" y1="322.6" x2="803.4" y2="322.6" stroke="#000" stroke-width="0.9"/><text x="807.5" y="327.6" class="tk">25</text><line x1="798.5" y1="255.1" x2="803.4" y2="255.1" stroke="#000" stroke-width="0.9"/><text x="807.5" y="260.1" class="tk">30</text><line x1="798.5" y1="187.7" x2="803.4" y2="187.7" stroke="#000" stroke-width="0.9"/><text x="807.5" y="192.7" class="tk">35</text><line x1="798.5" y1="120.3" x2="803.4" y2="120.3" stroke="#000" stroke-width="0.9"/><text x="807.5" y="125.3" class="tk">40</text>
<text class="ft" x="382" y="775" text-anchor="middle">WRF model data processed and visualized by the RIMES R&amp;D Team. &#169; 2025</text>
</svg>
</body></html>
